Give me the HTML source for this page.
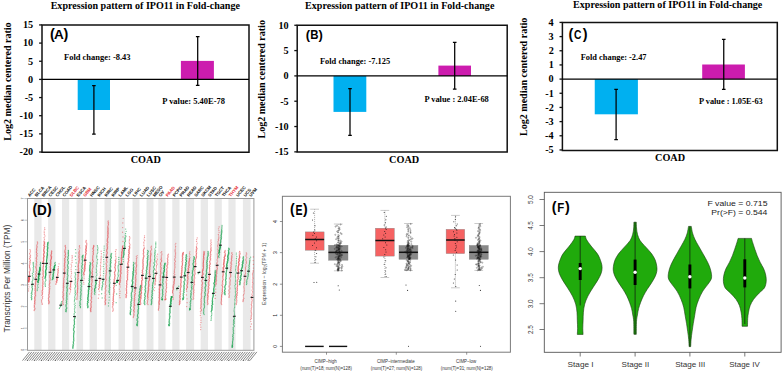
<!DOCTYPE html>
<html><head><meta charset="utf-8"><style>html,body{margin:0;padding:0;background:#fff;}svg{display:block;}</style></head>
<body><svg width="783" height="373" viewBox="0 0 783 373">
<rect width="783" height="373" fill="#fff"/>
<text transform="translate(50.63,8.65) scale(1.0094,1)" font-family="Liberation Serif" font-weight="bold" font-size="10" fill="#000">Expression pattern of IPO11 in Fold-change</text>
<text transform="translate(10.80,140.67) rotate(-90) scale(1.0044,1)" font-family="Liberation Serif" font-weight="bold" font-size="10" fill="#000">Log2 median centered ratio</text>
<rect x="77.7" y="79.4" width="32.30" height="30.60" fill="#00B0F0"/>
<rect x="180.9" y="60.9" width="33.00" height="18.50" fill="#CC1CAE"/>
<path d="M42,24.9H249V152.3H42Z" fill="none" stroke="#111" stroke-width="1.5"/>
<line x1="42" y1="79.4" x2="249" y2="79.4" stroke="#000" stroke-width="1.1"/>
<line x1="39.1" y1="24.94" x2="42" y2="24.94" stroke="#111" stroke-width="1.3"/>
<text x="22.97" y="28.25" font-family="Liberation Serif" font-weight="bold" font-size="10.2" fill="#000">15</text>
<line x1="39.1" y1="43.09" x2="42" y2="43.09" stroke="#111" stroke-width="1.3"/>
<text x="22.99" y="46.43" font-family="Liberation Serif" font-weight="bold" font-size="10.2" fill="#000">10</text>
<line x1="39.1" y1="61.25" x2="42" y2="61.25" stroke="#111" stroke-width="1.3"/>
<text x="28.07" y="64.53" font-family="Liberation Serif" font-weight="bold" font-size="10.2" fill="#000">5</text>
<line x1="39.1" y1="79.40" x2="42" y2="79.40" stroke="#111" stroke-width="1.3"/>
<text x="28.09" y="82.74" font-family="Liberation Serif" font-weight="bold" font-size="10.2" fill="#000">0</text>
<line x1="39.1" y1="97.56" x2="42" y2="97.56" stroke="#111" stroke-width="1.3"/>
<text x="24.68" y="100.84" font-family="Liberation Serif" font-weight="bold" font-size="10.2" fill="#000">-5</text>
<line x1="39.1" y1="115.71" x2="42" y2="115.71" stroke="#111" stroke-width="1.3"/>
<text x="19.59" y="119.05" font-family="Liberation Serif" font-weight="bold" font-size="10.2" fill="#000">-10</text>
<line x1="39.1" y1="133.87" x2="42" y2="133.87" stroke="#111" stroke-width="1.3"/>
<text x="19.58" y="137.18" font-family="Liberation Serif" font-weight="bold" font-size="10.2" fill="#000">-15</text>
<line x1="39.1" y1="152.02" x2="42" y2="152.02" stroke="#111" stroke-width="1.3"/>
<text x="19.59" y="155.36" font-family="Liberation Serif" font-weight="bold" font-size="10.2" fill="#000">-20</text>
<path d="M93.9,85.7V134.2M92.10000000000001,85.7H95.7M92.10000000000001,134.2H95.7" stroke="#000" stroke-width="1.25" fill="none"/>
<path d="M197.7,36.6V85.3M195.89999999999998,36.6H199.5M195.89999999999998,85.3H199.5" stroke="#000" stroke-width="1.25" fill="none"/>
<text x="49.98" y="39.02" font-family="Liberation Sans" font-weight="bold" font-size="14.38">(</text>
<text x="63.43" y="39.02" font-family="Liberation Sans" font-weight="bold" font-size="14.38">)</text>
<text transform="translate(54.06,39.00) scale(1.1109,1)" font-family="Liberation Sans" font-weight="bold" font-size="12.21" fill="#000">A</text>
<text transform="translate(64.06,59.90) scale(1.0076,1)" font-family="Liberation Serif" font-weight="bold" font-size="8.4" fill="#000">Fold change: -8.43</text>
<text transform="translate(162.36,103.50) scale(1.0058,1)" font-family="Liberation Serif" font-weight="bold" font-size="8.4" fill="#000">P value: 5.40E-78</text>
<text transform="translate(130.70,163.20) scale(1.0022,1)" font-family="Liberation Serif" font-weight="bold" font-size="10.2" fill="#000">COAD</text>
<text transform="translate(305.03,9.30) scale(1.0091,1)" font-family="Liberation Serif" font-weight="bold" font-size="10" fill="#000">Expression pattern of IPO11 in Fold-change</text>
<text transform="translate(264.90,138.57) rotate(-90) scale(1.0078,1)" font-family="Liberation Serif" font-weight="bold" font-size="10" fill="#000">Log2 median centered ratio</text>
<rect x="333.5" y="75.9" width="32.80" height="36.00" fill="#00B0F0"/>
<rect x="438.4" y="65.6" width="32.60" height="10.30" fill="#CC1CAE"/>
<path d="M297.2,25.2H507.2V152.1H297.2Z" fill="none" stroke="#111" stroke-width="1.5"/>
<line x1="297.2" y1="75.9" x2="507.2" y2="75.9" stroke="#000" stroke-width="1.1"/>
<line x1="294.3" y1="25.26" x2="297.2" y2="25.26" stroke="#111" stroke-width="1.3"/>
<text x="278.49" y="28.60" font-family="Liberation Serif" font-weight="bold" font-size="10.2" fill="#000">10</text>
<line x1="294.3" y1="50.58" x2="297.2" y2="50.58" stroke="#111" stroke-width="1.3"/>
<text x="283.57" y="53.87" font-family="Liberation Serif" font-weight="bold" font-size="10.2" fill="#000">5</text>
<line x1="294.3" y1="75.90" x2="297.2" y2="75.90" stroke="#111" stroke-width="1.3"/>
<text x="283.59" y="79.24" font-family="Liberation Serif" font-weight="bold" font-size="10.2" fill="#000">0</text>
<line x1="294.3" y1="101.22" x2="297.2" y2="101.22" stroke="#111" stroke-width="1.3"/>
<text x="280.18" y="104.51" font-family="Liberation Serif" font-weight="bold" font-size="10.2" fill="#000">-5</text>
<line x1="294.3" y1="126.54" x2="297.2" y2="126.54" stroke="#111" stroke-width="1.3"/>
<text x="275.09" y="129.88" font-family="Liberation Serif" font-weight="bold" font-size="10.2" fill="#000">-10</text>
<line x1="294.3" y1="151.86" x2="297.2" y2="151.86" stroke="#111" stroke-width="1.3"/>
<text x="275.08" y="155.18" font-family="Liberation Serif" font-weight="bold" font-size="10.2" fill="#000">-15</text>
<path d="M350,88.5V135.4M348.2,88.5H351.8M348.2,135.4H351.8" stroke="#000" stroke-width="1.25" fill="none"/>
<path d="M454.7,42.4V89M452.9,42.4H456.5M452.9,89H456.5" stroke="#000" stroke-width="1.25" fill="none"/>
<text x="305.85" y="39.01" font-family="Liberation Sans" font-weight="bold" font-size="12.98">(</text>
<text x="318.42" y="39.01" font-family="Liberation Sans" font-weight="bold" font-size="12.98">)</text>
<text transform="translate(310.23,39.40) scale(0.9294,1)" font-family="Liberation Sans" font-weight="bold" font-size="12.35" fill="#000">B</text>
<text transform="translate(319.96,63.80) scale(1.0003,1)" font-family="Liberation Serif" font-weight="bold" font-size="8.4" fill="#000">Fold change: -7.125</text>
<text transform="translate(424.46,101.60) scale(0.9994,1)" font-family="Liberation Serif" font-weight="bold" font-size="8.4" fill="#000">P value : 2.04E-68</text>
<text transform="translate(389.10,163.40) scale(1.0056,1)" font-family="Liberation Serif" font-weight="bold" font-size="10.2" fill="#000">COAD</text>
<text transform="translate(573.03,8.20) scale(1.0086,1)" font-family="Liberation Serif" font-weight="bold" font-size="10" fill="#000">Expression pattern of IPO11 in Fold-change</text>
<text transform="translate(526.50,135.97) rotate(-90) scale(1.0044,1)" font-family="Liberation Serif" font-weight="bold" font-size="10" fill="#000">Log2 median centered ratio</text>
<rect x="594.75" y="79.1" width="43.15" height="35.20" fill="#00B0F0"/>
<rect x="702.2" y="64.5" width="42.70" height="14.60" fill="#CC1CAE"/>
<path d="M562.4,22.6H777.3V150.4H562.4Z" fill="none" stroke="#111" stroke-width="1.5"/>
<line x1="562.4" y1="79.1" x2="777.3" y2="79.1" stroke="#000" stroke-width="1.1"/>
<line x1="559.5" y1="22.42" x2="562.4" y2="22.42" stroke="#111" stroke-width="1.3"/>
<text x="548.39" y="25.78" font-family="Liberation Serif" font-weight="bold" font-size="10.2" fill="#000">4</text>
<line x1="559.5" y1="36.59" x2="562.4" y2="36.59" stroke="#111" stroke-width="1.3"/>
<text x="548.55" y="39.92" font-family="Liberation Serif" font-weight="bold" font-size="10.2" fill="#000">3</text>
<line x1="559.5" y1="50.76" x2="562.4" y2="50.76" stroke="#111" stroke-width="1.3"/>
<text x="548.64" y="54.14" font-family="Liberation Serif" font-weight="bold" font-size="10.2" fill="#000">2</text>
<line x1="559.5" y1="64.93" x2="562.4" y2="64.93" stroke="#111" stroke-width="1.3"/>
<text x="548.73" y="68.30" font-family="Liberation Serif" font-weight="bold" font-size="10.2" fill="#000">1</text>
<line x1="559.5" y1="79.10" x2="562.4" y2="79.10" stroke="#111" stroke-width="1.3"/>
<text x="548.59" y="82.44" font-family="Liberation Serif" font-weight="bold" font-size="10.2" fill="#000">0</text>
<line x1="559.5" y1="93.27" x2="562.4" y2="93.27" stroke="#111" stroke-width="1.3"/>
<text x="545.33" y="96.64" font-family="Liberation Serif" font-weight="bold" font-size="10.2" fill="#000">-1</text>
<line x1="559.5" y1="107.44" x2="562.4" y2="107.44" stroke="#111" stroke-width="1.3"/>
<text x="545.24" y="110.82" font-family="Liberation Serif" font-weight="bold" font-size="10.2" fill="#000">-2</text>
<line x1="559.5" y1="121.61" x2="562.4" y2="121.61" stroke="#111" stroke-width="1.3"/>
<text x="545.15" y="124.94" font-family="Liberation Serif" font-weight="bold" font-size="10.2" fill="#000">-3</text>
<line x1="559.5" y1="135.78" x2="562.4" y2="135.78" stroke="#111" stroke-width="1.3"/>
<text x="544.99" y="139.14" font-family="Liberation Serif" font-weight="bold" font-size="10.2" fill="#000">-4</text>
<line x1="559.5" y1="149.95" x2="562.4" y2="149.95" stroke="#111" stroke-width="1.3"/>
<text x="545.18" y="153.24" font-family="Liberation Serif" font-weight="bold" font-size="10.2" fill="#000">-5</text>
<path d="M616.1,89.25V139.7M614.3000000000001,89.25H617.9M614.3000000000001,139.7H617.9" stroke="#000" stroke-width="1.25" fill="none"/>
<path d="M723.75,39.4V89.25M721.95,39.4H725.55M721.95,89.25H725.55" stroke="#000" stroke-width="1.25" fill="none"/>
<text x="568.48" y="38.92" font-family="Liberation Sans" font-weight="bold" font-size="14.38">(</text>
<text x="582.63" y="38.92" font-family="Liberation Sans" font-weight="bold" font-size="14.38">)</text>
<text transform="translate(573.98,39.00) scale(0.8318,1)" font-family="Liberation Sans" font-weight="bold" font-size="12.32" fill="#000">C</text>
<text transform="translate(580.76,59.90) scale(0.9972,1)" font-family="Liberation Serif" font-weight="bold" font-size="8.4" fill="#000">Fold change: -2.47</text>
<text transform="translate(699.06,103.50) scale(0.9902,1)" font-family="Liberation Serif" font-weight="bold" font-size="8.4" fill="#000">P value : 1.05E-63</text>
<text transform="translate(655.00,161.30) scale(1.0022,1)" font-family="Liberation Serif" font-weight="bold" font-size="10.2" fill="#000">COAD</text>
<rect x="282.4" y="196.3" width="228.0" height="155.89999999999998" fill="none" stroke="#7a7a7a" stroke-width="1"/>
<line x1="279.9" y1="346.4" x2="282.4" y2="346.4" stroke="#666" stroke-width="0.7"/>
<text transform="translate(276.90,347.85) rotate(-90)" font-family="Liberation Sans" font-weight="normal" font-size="5.2" fill="#222">0</text>
<line x1="279.9" y1="315.3" x2="282.4" y2="315.3" stroke="#666" stroke-width="0.7"/>
<text transform="translate(276.90,316.82) rotate(-90)" font-family="Liberation Sans" font-weight="normal" font-size="5.2" fill="#222">1</text>
<line x1="279.9" y1="284.2" x2="282.4" y2="284.2" stroke="#666" stroke-width="0.7"/>
<text transform="translate(276.90,285.65) rotate(-90)" font-family="Liberation Sans" font-weight="normal" font-size="5.2" fill="#222">2</text>
<line x1="279.9" y1="252.6" x2="282.4" y2="252.6" stroke="#666" stroke-width="0.7"/>
<text transform="translate(276.90,254.03) rotate(-90)" font-family="Liberation Sans" font-weight="normal" font-size="5.2" fill="#222">3</text>
<line x1="279.9" y1="221.5" x2="282.4" y2="221.5" stroke="#666" stroke-width="0.7"/>
<text transform="translate(276.90,222.93) rotate(-90)" font-family="Liberation Sans" font-weight="normal" font-size="5.2" fill="#222">4</text>
<text transform="translate(265.90,304.92) rotate(-90) scale(0.9063,1)" font-family="Liberation Sans" font-weight="normal" font-size="5.6" fill="#444">Expression − log₂(TPM + 1)</text>
<line x1="326.5" y1="352.2" x2="326.5" y2="354.7" stroke="#666" stroke-width="0.7"/>
<text transform="translate(314.57,363.40) scale(0.7975,1)" font-family="Liberation Sans" font-weight="normal" font-size="5.6" fill="#333">CIMP−high</text>
<text transform="translate(300.23,369.60) scale(0.7880,1)" font-family="Liberation Sans" font-weight="normal" font-size="5.6" fill="#333">(num(T)=18; num(N)=128)</text>
<line x1="396.3" y1="352.2" x2="396.3" y2="354.7" stroke="#666" stroke-width="0.7"/>
<text transform="translate(376.88,363.40) scale(0.7886,1)" font-family="Liberation Sans" font-weight="normal" font-size="5.6" fill="#333">CIMP−intermediate</text>
<text transform="translate(370.83,369.60) scale(0.7865,1)" font-family="Liberation Sans" font-weight="normal" font-size="5.6" fill="#333">(num(T)=27; num(N)=128)</text>
<line x1="466.7" y1="352.2" x2="466.7" y2="354.7" stroke="#666" stroke-width="0.7"/>
<text transform="translate(456.08,363.40) scale(0.7873,1)" font-family="Liberation Sans" font-weight="normal" font-size="5.6" fill="#333">CIMP−low</text>
<text transform="translate(440.82,369.60) scale(0.7927,1)" font-family="Liberation Sans" font-weight="normal" font-size="5.6" fill="#333">(num(T)=31; num(N)=128)</text>
<line x1="314.6" y1="209.2" x2="314.6" y2="231.9" stroke="#666" stroke-width="0.6" stroke-dasharray="0.9,1.1"/>
<line x1="314.6" y1="250.2" x2="314.6" y2="263.2" stroke="#666" stroke-width="0.6" stroke-dasharray="0.9,1.1"/>
<line x1="310.2" y1="209.2" x2="319.0" y2="209.2" stroke="#b8b8b8" stroke-width="0.75"/>
<line x1="310.2" y1="263.2" x2="319.0" y2="263.2" stroke="#b8b8b8" stroke-width="0.75"/>
<rect x="305.2" y="231.9" width="18.9" height="18.3" fill="#F66262" stroke="#888" stroke-width="0.4"/>
<line x1="305.2" y1="239.5" x2="324.1" y2="239.5" stroke="#111" stroke-width="1.5"/>
<g fill="#111" fill-opacity="0.9"><circle cx="315.2" cy="262.3" r="0.5"/><circle cx="315.7" cy="259.7" r="0.5"/><circle cx="315.9" cy="256.8" r="0.5"/><circle cx="316.6" cy="253.6" r="0.5"/><circle cx="315.7" cy="250.2" r="0.5"/><circle cx="316.5" cy="247.8" r="0.5"/><circle cx="312.6" cy="245.4" r="0.5"/><circle cx="314.5" cy="243.1" r="0.5"/><circle cx="316.6" cy="240.7" r="0.5"/><circle cx="315.3" cy="238.7" r="0.5"/><circle cx="316.4" cy="237.0" r="0.5"/><circle cx="312.9" cy="235.3" r="0.5"/><circle cx="314.5" cy="233.6" r="0.5"/><circle cx="313.5" cy="231.9" r="0.5"/><circle cx="314.8" cy="229.9" r="0.5"/><circle cx="315.0" cy="225.7" r="0.5"/><circle cx="312.5" cy="220.0" r="0.5"/><circle cx="313.4" cy="213.1" r="0.5"/></g>
<line x1="338.2" y1="224.0" x2="338.2" y2="245.2" stroke="#666" stroke-width="0.6" stroke-dasharray="0.9,1.1"/>
<line x1="338.2" y1="260.2" x2="338.2" y2="270.8" stroke="#666" stroke-width="0.6" stroke-dasharray="0.9,1.1"/>
<line x1="333.9" y1="224.0" x2="342.6" y2="224.0" stroke="#b8b8b8" stroke-width="0.75"/>
<line x1="333.9" y1="270.8" x2="342.6" y2="270.8" stroke="#b8b8b8" stroke-width="0.75"/>
<rect x="328.5" y="245.2" width="19.5" height="15.0" fill="#888888" stroke="#888" stroke-width="0.4"/>
<line x1="328.5" y1="252.4" x2="348.0" y2="252.4" stroke="#111" stroke-width="1.5"/>
<g fill="none" stroke="#111" stroke-width="0.4" stroke-opacity="0.7"><circle cx="337.9" cy="270.7" r="0.6"/><circle cx="341.8" cy="270.5" r="0.6"/><circle cx="338.6" cy="270.3" r="0.6"/><circle cx="337.7" cy="270.1" r="0.6"/><circle cx="338.8" cy="269.8" r="0.6"/><circle cx="337.8" cy="269.5" r="0.6"/><circle cx="338.0" cy="269.2" r="0.6"/><circle cx="338.0" cy="268.9" r="0.6"/><circle cx="341.6" cy="268.6" r="0.6"/><circle cx="338.6" cy="268.3" r="0.6"/><circle cx="338.8" cy="268.0" r="0.6"/><circle cx="339.6" cy="267.7" r="0.6"/><circle cx="341.6" cy="267.4" r="0.6"/><circle cx="338.2" cy="267.0" r="0.6"/><circle cx="337.6" cy="266.7" r="0.6"/><circle cx="342.3" cy="266.4" r="0.6"/><circle cx="336.4" cy="266.0" r="0.6"/><circle cx="338.0" cy="265.7" r="0.6"/><circle cx="339.6" cy="265.3" r="0.6"/><circle cx="342.0" cy="264.9" r="0.6"/><circle cx="337.1" cy="264.6" r="0.6"/><circle cx="334.9" cy="264.2" r="0.6"/><circle cx="339.5" cy="263.9" r="0.6"/><circle cx="337.8" cy="263.5" r="0.6"/><circle cx="338.0" cy="263.1" r="0.6"/><circle cx="339.2" cy="262.7" r="0.6"/><circle cx="338.9" cy="262.3" r="0.6"/><circle cx="339.0" cy="262.0" r="0.6"/><circle cx="337.9" cy="261.6" r="0.6"/><circle cx="340.5" cy="261.2" r="0.6"/><circle cx="340.8" cy="260.8" r="0.6"/><circle cx="338.6" cy="260.4" r="0.6"/><circle cx="337.9" cy="260.1" r="0.6"/><circle cx="339.7" cy="259.8" r="0.6"/><circle cx="339.3" cy="259.6" r="0.6"/><circle cx="337.0" cy="259.3" r="0.6"/><circle cx="337.9" cy="259.1" r="0.6"/><circle cx="340.1" cy="258.9" r="0.6"/><circle cx="338.4" cy="258.6" r="0.6"/><circle cx="338.1" cy="258.4" r="0.6"/><circle cx="338.9" cy="258.1" r="0.6"/><circle cx="338.5" cy="257.9" r="0.6"/><circle cx="338.5" cy="257.6" r="0.6"/><circle cx="335.7" cy="257.4" r="0.6"/><circle cx="341.2" cy="257.2" r="0.6"/><circle cx="338.8" cy="256.9" r="0.6"/><circle cx="337.2" cy="256.7" r="0.6"/><circle cx="340.0" cy="256.4" r="0.6"/><circle cx="339.0" cy="256.2" r="0.6"/><circle cx="338.6" cy="255.9" r="0.6"/><circle cx="340.1" cy="255.7" r="0.6"/><circle cx="341.9" cy="255.4" r="0.6"/><circle cx="339.4" cy="255.2" r="0.6"/><circle cx="340.9" cy="255.0" r="0.6"/><circle cx="341.8" cy="254.7" r="0.6"/><circle cx="337.0" cy="254.5" r="0.6"/><circle cx="337.8" cy="254.2" r="0.6"/><circle cx="339.7" cy="254.0" r="0.6"/><circle cx="336.0" cy="253.7" r="0.6"/><circle cx="338.1" cy="253.5" r="0.6"/><circle cx="340.5" cy="253.3" r="0.6"/><circle cx="340.1" cy="253.0" r="0.6"/><circle cx="339.4" cy="252.8" r="0.6"/><circle cx="335.7" cy="252.5" r="0.6"/><circle cx="342.1" cy="252.3" r="0.6"/><circle cx="339.4" cy="252.1" r="0.6"/><circle cx="339.7" cy="251.8" r="0.6"/><circle cx="339.3" cy="251.6" r="0.6"/><circle cx="336.0" cy="251.4" r="0.6"/><circle cx="336.4" cy="251.2" r="0.6"/><circle cx="336.7" cy="250.9" r="0.6"/><circle cx="341.4" cy="250.7" r="0.6"/><circle cx="337.3" cy="250.5" r="0.6"/><circle cx="338.2" cy="250.3" r="0.6"/><circle cx="338.2" cy="250.0" r="0.6"/><circle cx="339.4" cy="249.8" r="0.6"/><circle cx="339.3" cy="249.6" r="0.6"/><circle cx="339.0" cy="249.4" r="0.6"/><circle cx="336.7" cy="249.1" r="0.6"/><circle cx="334.8" cy="248.9" r="0.6"/><circle cx="338.8" cy="248.7" r="0.6"/><circle cx="339.0" cy="248.5" r="0.6"/><circle cx="340.4" cy="248.2" r="0.6"/><circle cx="338.4" cy="248.0" r="0.6"/><circle cx="337.6" cy="247.8" r="0.6"/><circle cx="339.2" cy="247.6" r="0.6"/><circle cx="336.2" cy="247.3" r="0.6"/><circle cx="337.0" cy="247.1" r="0.6"/><circle cx="337.0" cy="246.9" r="0.6"/><circle cx="339.0" cy="246.7" r="0.6"/><circle cx="341.7" cy="246.4" r="0.6"/><circle cx="339.7" cy="246.2" r="0.6"/><circle cx="340.3" cy="246.0" r="0.6"/><circle cx="338.9" cy="245.8" r="0.6"/><circle cx="339.0" cy="245.5" r="0.6"/><circle cx="337.9" cy="245.3" r="0.6"/><circle cx="338.1" cy="245.2" r="0.6"/><circle cx="334.9" cy="245.0" r="0.6"/><circle cx="336.7" cy="244.8" r="0.6"/><circle cx="336.6" cy="244.6" r="0.6"/><circle cx="339.8" cy="244.3" r="0.6"/><circle cx="339.5" cy="243.9" r="0.6"/><circle cx="340.3" cy="243.5" r="0.6"/><circle cx="340.9" cy="243.1" r="0.6"/><circle cx="338.1" cy="242.7" r="0.6"/><circle cx="340.1" cy="242.2" r="0.6"/><circle cx="341.5" cy="241.6" r="0.6"/><circle cx="338.5" cy="241.1" r="0.6"/><circle cx="340.2" cy="240.5" r="0.6"/><circle cx="338.3" cy="239.9" r="0.6"/><circle cx="336.1" cy="239.2" r="0.6"/><circle cx="338.7" cy="238.6" r="0.6"/><circle cx="337.3" cy="237.9" r="0.6"/><circle cx="338.7" cy="237.1" r="0.6"/><circle cx="337.9" cy="236.4" r="0.6"/><circle cx="339.0" cy="235.6" r="0.6"/><circle cx="335.3" cy="234.8" r="0.6"/><circle cx="341.7" cy="234.0" r="0.6"/><circle cx="340.6" cy="233.1" r="0.6"/><circle cx="338.0" cy="232.3" r="0.6"/><circle cx="337.2" cy="231.4" r="0.6"/><circle cx="338.6" cy="230.5" r="0.6"/><circle cx="339.6" cy="229.5" r="0.6"/><circle cx="339.2" cy="228.6" r="0.6"/><circle cx="339.2" cy="227.6" r="0.6"/><circle cx="335.6" cy="226.6" r="0.6"/><circle cx="336.9" cy="225.6" r="0.6"/><circle cx="340.6" cy="224.5" r="0.6"/></g>
<line x1="384.9" y1="210.4" x2="384.9" y2="228.2" stroke="#666" stroke-width="0.6" stroke-dasharray="0.9,1.1"/>
<line x1="384.9" y1="256.1" x2="384.9" y2="277.5" stroke="#666" stroke-width="0.6" stroke-dasharray="0.9,1.1"/>
<line x1="380.5" y1="210.4" x2="389.2" y2="210.4" stroke="#b8b8b8" stroke-width="0.75"/>
<line x1="380.5" y1="277.5" x2="389.2" y2="277.5" stroke="#b8b8b8" stroke-width="0.75"/>
<rect x="375.4" y="228.2" width="18.9" height="27.9" fill="#F66262" stroke="#888" stroke-width="0.4"/>
<line x1="375.4" y1="240.5" x2="394.3" y2="240.5" stroke="#111" stroke-width="1.5"/>
<g fill="#111" fill-opacity="0.9"><circle cx="386.1" cy="276.6" r="0.5"/><circle cx="385.7" cy="274.0" r="0.5"/><circle cx="385.6" cy="271.0" r="0.5"/><circle cx="386.0" cy="267.8" r="0.5"/><circle cx="384.2" cy="264.3" r="0.5"/><circle cx="385.7" cy="260.8" r="0.5"/><circle cx="383.9" cy="257.0" r="0.5"/><circle cx="384.8" cy="254.4" r="0.5"/><circle cx="386.0" cy="252.1" r="0.5"/><circle cx="385.7" cy="249.7" r="0.5"/><circle cx="383.9" cy="247.4" r="0.5"/><circle cx="386.8" cy="245.1" r="0.5"/><circle cx="385.5" cy="242.8" r="0.5"/><circle cx="385.2" cy="240.5" r="0.5"/><circle cx="382.7" cy="238.7" r="0.5"/><circle cx="385.1" cy="236.9" r="0.5"/><circle cx="383.8" cy="235.0" r="0.5"/><circle cx="385.6" cy="233.2" r="0.5"/><circle cx="384.7" cy="231.4" r="0.5"/><circle cx="386.2" cy="229.6" r="0.5"/><circle cx="385.5" cy="228.1" r="0.5"/><circle cx="386.2" cy="227.0" r="0.5"/><circle cx="384.2" cy="225.1" r="0.5"/><circle cx="385.5" cy="222.7" r="0.5"/><circle cx="385.9" cy="219.7" r="0.5"/><circle cx="386.3" cy="216.3" r="0.5"/><circle cx="384.2" cy="212.5" r="0.5"/></g>
<line x1="408.4" y1="223.5" x2="408.4" y2="245.4" stroke="#666" stroke-width="0.6" stroke-dasharray="0.9,1.1"/>
<line x1="408.4" y1="259.3" x2="408.4" y2="270.5" stroke="#666" stroke-width="0.6" stroke-dasharray="0.9,1.1"/>
<line x1="404.1" y1="223.5" x2="412.8" y2="223.5" stroke="#b8b8b8" stroke-width="0.75"/>
<line x1="404.1" y1="270.5" x2="412.8" y2="270.5" stroke="#b8b8b8" stroke-width="0.75"/>
<rect x="399.0" y="245.4" width="18.9" height="13.9" fill="#888888" stroke="#888" stroke-width="0.4"/>
<line x1="399.0" y1="252.3" x2="417.9" y2="252.3" stroke="#111" stroke-width="1.5"/>
<g fill="none" stroke="#111" stroke-width="0.4" stroke-opacity="0.7"><circle cx="410.4" cy="270.4" r="0.6"/><circle cx="406.2" cy="270.2" r="0.6"/><circle cx="407.2" cy="270.0" r="0.6"/><circle cx="405.0" cy="269.7" r="0.6"/><circle cx="410.5" cy="269.4" r="0.6"/><circle cx="408.3" cy="269.1" r="0.6"/><circle cx="407.9" cy="268.8" r="0.6"/><circle cx="408.6" cy="268.5" r="0.6"/><circle cx="410.6" cy="268.2" r="0.6"/><circle cx="405.7" cy="267.9" r="0.6"/><circle cx="406.5" cy="267.6" r="0.6"/><circle cx="409.1" cy="267.2" r="0.6"/><circle cx="408.3" cy="266.9" r="0.6"/><circle cx="406.4" cy="266.5" r="0.6"/><circle cx="410.0" cy="266.2" r="0.6"/><circle cx="411.1" cy="265.8" r="0.6"/><circle cx="406.8" cy="265.4" r="0.6"/><circle cx="407.7" cy="265.1" r="0.6"/><circle cx="406.9" cy="264.7" r="0.6"/><circle cx="409.8" cy="264.3" r="0.6"/><circle cx="409.1" cy="263.9" r="0.6"/><circle cx="406.6" cy="263.6" r="0.6"/><circle cx="408.7" cy="263.2" r="0.6"/><circle cx="408.4" cy="262.8" r="0.6"/><circle cx="409.6" cy="262.4" r="0.6"/><circle cx="410.1" cy="262.0" r="0.6"/><circle cx="408.1" cy="261.6" r="0.6"/><circle cx="407.9" cy="261.2" r="0.6"/><circle cx="407.9" cy="260.8" r="0.6"/><circle cx="406.8" cy="260.3" r="0.6"/><circle cx="410.4" cy="259.9" r="0.6"/><circle cx="409.2" cy="259.5" r="0.6"/><circle cx="408.8" cy="259.2" r="0.6"/><circle cx="409.2" cy="259.0" r="0.6"/><circle cx="409.6" cy="258.8" r="0.6"/><circle cx="409.7" cy="258.5" r="0.6"/><circle cx="409.2" cy="258.3" r="0.6"/><circle cx="409.6" cy="258.1" r="0.6"/><circle cx="410.4" cy="257.9" r="0.6"/><circle cx="409.1" cy="257.7" r="0.6"/><circle cx="407.2" cy="257.4" r="0.6"/><circle cx="410.2" cy="257.2" r="0.6"/><circle cx="407.8" cy="257.0" r="0.6"/><circle cx="408.2" cy="256.8" r="0.6"/><circle cx="408.8" cy="256.6" r="0.6"/><circle cx="408.7" cy="256.3" r="0.6"/><circle cx="407.7" cy="256.1" r="0.6"/><circle cx="409.4" cy="255.9" r="0.6"/><circle cx="408.1" cy="255.7" r="0.6"/><circle cx="409.1" cy="255.5" r="0.6"/><circle cx="409.5" cy="255.3" r="0.6"/><circle cx="407.5" cy="255.0" r="0.6"/><circle cx="410.8" cy="254.8" r="0.6"/><circle cx="409.2" cy="254.6" r="0.6"/><circle cx="410.3" cy="254.4" r="0.6"/><circle cx="409.8" cy="254.2" r="0.6"/><circle cx="407.7" cy="253.9" r="0.6"/><circle cx="410.4" cy="253.7" r="0.6"/><circle cx="411.4" cy="253.5" r="0.6"/><circle cx="408.0" cy="253.3" r="0.6"/><circle cx="406.4" cy="253.1" r="0.6"/><circle cx="410.1" cy="252.8" r="0.6"/><circle cx="407.8" cy="252.6" r="0.6"/><circle cx="407.6" cy="252.4" r="0.6"/><circle cx="410.0" cy="252.2" r="0.6"/><circle cx="410.3" cy="252.0" r="0.6"/><circle cx="405.3" cy="251.8" r="0.6"/><circle cx="407.3" cy="251.5" r="0.6"/><circle cx="410.8" cy="251.3" r="0.6"/><circle cx="408.3" cy="251.1" r="0.6"/><circle cx="406.9" cy="250.9" r="0.6"/><circle cx="411.3" cy="250.7" r="0.6"/><circle cx="409.5" cy="250.5" r="0.6"/><circle cx="408.8" cy="250.3" r="0.6"/><circle cx="406.9" cy="250.0" r="0.6"/><circle cx="407.9" cy="249.8" r="0.6"/><circle cx="410.1" cy="249.6" r="0.6"/><circle cx="410.4" cy="249.4" r="0.6"/><circle cx="409.9" cy="249.2" r="0.6"/><circle cx="407.8" cy="249.0" r="0.6"/><circle cx="407.8" cy="248.7" r="0.6"/><circle cx="409.2" cy="248.5" r="0.6"/><circle cx="407.7" cy="248.3" r="0.6"/><circle cx="412.6" cy="248.1" r="0.6"/><circle cx="406.0" cy="247.9" r="0.6"/><circle cx="411.4" cy="247.7" r="0.6"/><circle cx="410.5" cy="247.4" r="0.6"/><circle cx="407.7" cy="247.2" r="0.6"/><circle cx="408.5" cy="247.0" r="0.6"/><circle cx="412.6" cy="246.8" r="0.6"/><circle cx="407.2" cy="246.6" r="0.6"/><circle cx="408.8" cy="246.4" r="0.6"/><circle cx="406.9" cy="246.2" r="0.6"/><circle cx="412.6" cy="245.9" r="0.6"/><circle cx="407.5" cy="245.7" r="0.6"/><circle cx="408.8" cy="245.5" r="0.6"/><circle cx="408.0" cy="245.4" r="0.6"/><circle cx="408.9" cy="245.2" r="0.6"/><circle cx="407.6" cy="245.0" r="0.6"/><circle cx="407.6" cy="244.8" r="0.6"/><circle cx="408.0" cy="244.5" r="0.6"/><circle cx="411.3" cy="244.1" r="0.6"/><circle cx="408.9" cy="243.7" r="0.6"/><circle cx="408.5" cy="243.3" r="0.6"/><circle cx="407.6" cy="242.8" r="0.6"/><circle cx="408.5" cy="242.3" r="0.6"/><circle cx="411.2" cy="241.7" r="0.6"/><circle cx="407.7" cy="241.1" r="0.6"/><circle cx="408.8" cy="240.5" r="0.6"/><circle cx="409.9" cy="239.9" r="0.6"/><circle cx="411.3" cy="239.2" r="0.6"/><circle cx="412.5" cy="238.5" r="0.6"/><circle cx="408.2" cy="237.8" r="0.6"/><circle cx="410.7" cy="237.1" r="0.6"/><circle cx="406.6" cy="236.3" r="0.6"/><circle cx="409.1" cy="235.5" r="0.6"/><circle cx="406.8" cy="234.7" r="0.6"/><circle cx="407.2" cy="233.8" r="0.6"/><circle cx="410.6" cy="232.9" r="0.6"/><circle cx="410.5" cy="232.0" r="0.6"/><circle cx="408.2" cy="231.1" r="0.6"/><circle cx="410.5" cy="230.2" r="0.6"/><circle cx="408.1" cy="229.2" r="0.6"/><circle cx="409.8" cy="228.2" r="0.6"/><circle cx="407.1" cy="227.2" r="0.6"/><circle cx="408.4" cy="226.2" r="0.6"/><circle cx="407.2" cy="225.1" r="0.6"/><circle cx="410.7" cy="224.0" r="0.6"/></g>
<line x1="455.4" y1="215.4" x2="455.4" y2="229.3" stroke="#666" stroke-width="0.6" stroke-dasharray="0.9,1.1"/>
<line x1="455.4" y1="253.6" x2="455.4" y2="287.8" stroke="#666" stroke-width="0.6" stroke-dasharray="0.9,1.1"/>
<line x1="451.0" y1="215.4" x2="459.8" y2="215.4" stroke="#b8b8b8" stroke-width="0.75"/>
<line x1="451.0" y1="287.8" x2="459.8" y2="287.8" stroke="#b8b8b8" stroke-width="0.75"/>
<rect x="446.1" y="229.3" width="18.6" height="24.3" fill="#F66262" stroke="#888" stroke-width="0.4"/>
<line x1="446.1" y1="240.0" x2="464.7" y2="240.0" stroke="#111" stroke-width="1.5"/>
<g fill="#111" fill-opacity="0.9"><circle cx="455.8" cy="286.5" r="0.5"/><circle cx="453.4" cy="283.0" r="0.5"/><circle cx="454.3" cy="279.0" r="0.5"/><circle cx="455.2" cy="274.6" r="0.5"/><circle cx="457.2" cy="270.0" r="0.5"/><circle cx="457.1" cy="265.1" r="0.5"/><circle cx="455.6" cy="260.1" r="0.5"/><circle cx="453.3" cy="254.9" r="0.5"/><circle cx="456.6" cy="252.3" r="0.5"/><circle cx="455.1" cy="250.5" r="0.5"/><circle cx="455.7" cy="248.8" r="0.5"/><circle cx="456.3" cy="247.0" r="0.5"/><circle cx="456.0" cy="245.3" r="0.5"/><circle cx="455.3" cy="243.5" r="0.5"/><circle cx="457.2" cy="241.8" r="0.5"/><circle cx="454.9" cy="240.0" r="0.5"/><circle cx="454.9" cy="238.6" r="0.5"/><circle cx="456.9" cy="237.2" r="0.5"/><circle cx="454.1" cy="235.9" r="0.5"/><circle cx="454.5" cy="234.5" r="0.5"/><circle cx="456.9" cy="233.1" r="0.5"/><circle cx="453.5" cy="231.7" r="0.5"/><circle cx="456.9" cy="230.3" r="0.5"/><circle cx="456.3" cy="229.2" r="0.5"/><circle cx="455.1" cy="228.5" r="0.5"/><circle cx="454.5" cy="227.4" r="0.5"/><circle cx="456.6" cy="225.8" r="0.5"/><circle cx="457.2" cy="224.0" r="0.5"/><circle cx="453.8" cy="221.8" r="0.5"/><circle cx="455.3" cy="219.4" r="0.5"/><circle cx="455.6" cy="216.8" r="0.5"/></g>
<line x1="478.8" y1="223.5" x2="478.8" y2="245.4" stroke="#666" stroke-width="0.6" stroke-dasharray="0.9,1.1"/>
<line x1="478.8" y1="259.3" x2="478.8" y2="270.4" stroke="#666" stroke-width="0.6" stroke-dasharray="0.9,1.1"/>
<line x1="474.4" y1="223.5" x2="483.1" y2="223.5" stroke="#b8b8b8" stroke-width="0.75"/>
<line x1="474.4" y1="270.4" x2="483.1" y2="270.4" stroke="#b8b8b8" stroke-width="0.75"/>
<rect x="469.2" y="245.4" width="19.1" height="13.9" fill="#888888" stroke="#888" stroke-width="0.4"/>
<line x1="469.2" y1="252.3" x2="488.3" y2="252.3" stroke="#111" stroke-width="1.5"/>
<g fill="none" stroke="#111" stroke-width="0.4" stroke-opacity="0.7"><circle cx="477.7" cy="270.3" r="0.6"/><circle cx="479.1" cy="270.1" r="0.6"/><circle cx="480.2" cy="269.9" r="0.6"/><circle cx="480.7" cy="269.6" r="0.6"/><circle cx="479.3" cy="269.3" r="0.6"/><circle cx="478.5" cy="269.1" r="0.6"/><circle cx="479.4" cy="268.8" r="0.6"/><circle cx="481.8" cy="268.5" r="0.6"/><circle cx="479.6" cy="268.1" r="0.6"/><circle cx="476.9" cy="267.8" r="0.6"/><circle cx="481.4" cy="267.5" r="0.6"/><circle cx="479.4" cy="267.1" r="0.6"/><circle cx="482.9" cy="266.8" r="0.6"/><circle cx="478.3" cy="266.5" r="0.6"/><circle cx="478.9" cy="266.1" r="0.6"/><circle cx="478.6" cy="265.7" r="0.6"/><circle cx="479.6" cy="265.4" r="0.6"/><circle cx="478.2" cy="265.0" r="0.6"/><circle cx="476.8" cy="264.6" r="0.6"/><circle cx="476.1" cy="264.3" r="0.6"/><circle cx="478.9" cy="263.9" r="0.6"/><circle cx="478.3" cy="263.5" r="0.6"/><circle cx="478.2" cy="263.1" r="0.6"/><circle cx="482.3" cy="262.7" r="0.6"/><circle cx="480.3" cy="262.3" r="0.6"/><circle cx="480.7" cy="261.9" r="0.6"/><circle cx="478.3" cy="261.5" r="0.6"/><circle cx="479.5" cy="261.1" r="0.6"/><circle cx="478.7" cy="260.7" r="0.6"/><circle cx="478.7" cy="260.3" r="0.6"/><circle cx="480.2" cy="259.9" r="0.6"/><circle cx="480.0" cy="259.5" r="0.6"/><circle cx="479.5" cy="259.2" r="0.6"/><circle cx="479.3" cy="259.0" r="0.6"/><circle cx="476.9" cy="258.8" r="0.6"/><circle cx="477.9" cy="258.5" r="0.6"/><circle cx="479.6" cy="258.3" r="0.6"/><circle cx="478.5" cy="258.1" r="0.6"/><circle cx="477.9" cy="257.9" r="0.6"/><circle cx="479.6" cy="257.7" r="0.6"/><circle cx="477.6" cy="257.4" r="0.6"/><circle cx="478.0" cy="257.2" r="0.6"/><circle cx="480.4" cy="257.0" r="0.6"/><circle cx="478.5" cy="256.8" r="0.6"/><circle cx="481.2" cy="256.6" r="0.6"/><circle cx="479.8" cy="256.3" r="0.6"/><circle cx="480.3" cy="256.1" r="0.6"/><circle cx="480.8" cy="255.9" r="0.6"/><circle cx="475.8" cy="255.7" r="0.6"/><circle cx="478.9" cy="255.5" r="0.6"/><circle cx="477.1" cy="255.3" r="0.6"/><circle cx="478.3" cy="255.0" r="0.6"/><circle cx="478.9" cy="254.8" r="0.6"/><circle cx="480.9" cy="254.6" r="0.6"/><circle cx="479.0" cy="254.4" r="0.6"/><circle cx="481.5" cy="254.2" r="0.6"/><circle cx="478.3" cy="253.9" r="0.6"/><circle cx="479.0" cy="253.7" r="0.6"/><circle cx="479.2" cy="253.5" r="0.6"/><circle cx="480.5" cy="253.3" r="0.6"/><circle cx="479.0" cy="253.1" r="0.6"/><circle cx="478.1" cy="252.8" r="0.6"/><circle cx="478.5" cy="252.6" r="0.6"/><circle cx="476.9" cy="252.4" r="0.6"/><circle cx="481.0" cy="252.2" r="0.6"/><circle cx="480.2" cy="252.0" r="0.6"/><circle cx="479.7" cy="251.8" r="0.6"/><circle cx="479.5" cy="251.5" r="0.6"/><circle cx="478.1" cy="251.3" r="0.6"/><circle cx="478.4" cy="251.1" r="0.6"/><circle cx="480.3" cy="250.9" r="0.6"/><circle cx="477.9" cy="250.7" r="0.6"/><circle cx="477.9" cy="250.5" r="0.6"/><circle cx="481.4" cy="250.3" r="0.6"/><circle cx="481.4" cy="250.0" r="0.6"/><circle cx="479.5" cy="249.8" r="0.6"/><circle cx="479.9" cy="249.6" r="0.6"/><circle cx="479.3" cy="249.4" r="0.6"/><circle cx="481.2" cy="249.2" r="0.6"/><circle cx="478.4" cy="249.0" r="0.6"/><circle cx="479.2" cy="248.7" r="0.6"/><circle cx="479.8" cy="248.5" r="0.6"/><circle cx="481.2" cy="248.3" r="0.6"/><circle cx="478.7" cy="248.1" r="0.6"/><circle cx="479.4" cy="247.9" r="0.6"/><circle cx="478.3" cy="247.7" r="0.6"/><circle cx="478.1" cy="247.4" r="0.6"/><circle cx="478.1" cy="247.2" r="0.6"/><circle cx="479.2" cy="247.0" r="0.6"/><circle cx="480.4" cy="246.8" r="0.6"/><circle cx="478.0" cy="246.6" r="0.6"/><circle cx="478.1" cy="246.4" r="0.6"/><circle cx="478.4" cy="246.2" r="0.6"/><circle cx="479.6" cy="245.9" r="0.6"/><circle cx="480.1" cy="245.7" r="0.6"/><circle cx="477.2" cy="245.5" r="0.6"/><circle cx="479.6" cy="245.4" r="0.6"/><circle cx="477.5" cy="245.2" r="0.6"/><circle cx="480.1" cy="245.0" r="0.6"/><circle cx="477.6" cy="244.8" r="0.6"/><circle cx="477.4" cy="244.5" r="0.6"/><circle cx="478.0" cy="244.1" r="0.6"/><circle cx="479.0" cy="243.7" r="0.6"/><circle cx="477.5" cy="243.3" r="0.6"/><circle cx="479.4" cy="242.8" r="0.6"/><circle cx="479.3" cy="242.3" r="0.6"/><circle cx="479.2" cy="241.7" r="0.6"/><circle cx="479.5" cy="241.1" r="0.6"/><circle cx="480.4" cy="240.5" r="0.6"/><circle cx="477.9" cy="239.9" r="0.6"/><circle cx="479.1" cy="239.2" r="0.6"/><circle cx="479.0" cy="238.5" r="0.6"/><circle cx="476.0" cy="237.8" r="0.6"/><circle cx="479.6" cy="237.1" r="0.6"/><circle cx="477.9" cy="236.3" r="0.6"/><circle cx="478.0" cy="235.5" r="0.6"/><circle cx="478.4" cy="234.7" r="0.6"/><circle cx="479.2" cy="233.8" r="0.6"/><circle cx="479.5" cy="232.9" r="0.6"/><circle cx="479.8" cy="232.0" r="0.6"/><circle cx="478.0" cy="231.1" r="0.6"/><circle cx="480.1" cy="230.2" r="0.6"/><circle cx="479.7" cy="229.2" r="0.6"/><circle cx="478.5" cy="228.2" r="0.6"/><circle cx="479.0" cy="227.2" r="0.6"/><circle cx="480.3" cy="226.2" r="0.6"/><circle cx="479.7" cy="225.1" r="0.6"/><circle cx="480.1" cy="224.0" r="0.6"/></g>
<circle cx="314" cy="282.5" r="0.55" fill="#333"/>
<circle cx="316.7" cy="282.2" r="0.55" fill="#333"/>
<circle cx="338.2" cy="285.8" r="0.55" fill="#333"/>
<circle cx="339.3" cy="290" r="0.55" fill="#333"/>
<circle cx="406" cy="285" r="0.55" fill="#333"/>
<circle cx="407.6" cy="290.4" r="0.55" fill="#333"/>
<circle cx="455.7" cy="301.1" r="0.55" fill="#333"/>
<circle cx="455.7" cy="311.2" r="0.55" fill="#333"/>
<circle cx="479.3" cy="285.5" r="0.55" fill="#333"/>
<circle cx="480.4" cy="290.4" r="0.55" fill="#333"/>
<circle cx="408.5" cy="346.2" r="0.55" fill="#333"/>
<circle cx="480.5" cy="346.2" r="0.55" fill="#333"/>
<line x1="305.1" y1="346.4" x2="323.7" y2="346.4" stroke="#111" stroke-width="1.4"/>
<line x1="329" y1="346.4" x2="347.2" y2="346.4" stroke="#111" stroke-width="1.4"/>
<text x="289.90" y="213.98" font-family="Liberation Sans" font-weight="bold" font-size="14.05">(</text>
<text x="303.02" y="213.98" font-family="Liberation Sans" font-weight="bold" font-size="14.05">)</text>
<text transform="translate(295.50,214.80) scale(0.7539,1)" font-family="Liberation Sans" font-weight="bold" font-size="13.95" fill="#000">E</text>
<rect x="544.3" y="192.3" width="236.80000000000007" height="160.0" fill="none" stroke="#555" stroke-width="0.9"/>
<line x1="539.5" y1="199.5" x2="544.3" y2="199.5" stroke="#555" stroke-width="0.8"/>
<text transform="translate(533.40,203.95) rotate(-90) scale(0.7914,1)" font-family="Liberation Sans" font-weight="normal" font-size="8.0" fill="#333">5.0</text>
<line x1="539.5" y1="225.5" x2="544.3" y2="225.5" stroke="#555" stroke-width="0.8"/>
<text transform="translate(533.40,229.84) rotate(-90) scale(0.7829,1)" font-family="Liberation Sans" font-weight="normal" font-size="8.0" fill="#333">4.5</text>
<line x1="539.5" y1="251.6" x2="544.3" y2="251.6" stroke="#555" stroke-width="0.8"/>
<text transform="translate(533.40,255.94) rotate(-90) scale(0.7812,1)" font-family="Liberation Sans" font-weight="normal" font-size="8.0" fill="#333">4.0</text>
<line x1="539.5" y1="277.7" x2="544.3" y2="277.7" stroke="#555" stroke-width="0.8"/>
<text transform="translate(533.40,282.14) rotate(-90) scale(0.7919,1)" font-family="Liberation Sans" font-weight="normal" font-size="8.0" fill="#333">3.5</text>
<line x1="539.5" y1="303.7" x2="544.3" y2="303.7" stroke="#555" stroke-width="0.8"/>
<text transform="translate(533.40,308.14) rotate(-90) scale(0.7902,1)" font-family="Liberation Sans" font-weight="normal" font-size="8.0" fill="#333">3.0</text>
<line x1="539.5" y1="329.5" x2="544.3" y2="329.5" stroke="#555" stroke-width="0.8"/>
<text transform="translate(533.40,334.02) rotate(-90) scale(0.7994,1)" font-family="Liberation Sans" font-weight="normal" font-size="8.0" fill="#333">2.5</text>
<path d="M585.40,236.10L575.00,236.10C574.80,236.70 574.75,238.03 573.80,239.70C572.85,241.37 571.13,243.70 569.30,246.10C567.47,248.50 564.47,251.42 562.80,254.10C561.13,256.78 560.05,259.92 559.30,262.20C558.55,264.48 558.30,265.93 558.30,267.80C558.30,269.67 558.60,271.38 559.30,273.40C560.00,275.42 561.10,277.47 562.50,279.90C563.90,282.33 566.03,285.30 567.70,288.00C569.37,290.70 571.17,293.42 572.50,296.10C573.83,298.78 574.95,301.42 575.70,304.10C576.45,306.78 576.73,309.52 577.00,312.20C577.27,314.88 577.20,317.52 577.30,320.20C577.40,322.88 577.60,325.93 577.60,328.30C577.60,330.67 577.35,333.38 577.30,334.40L583.10,334.40C583.05,333.38 582.80,330.67 582.80,328.30C582.80,325.93 583.00,322.88 583.10,320.20C583.20,317.52 583.13,314.88 583.40,312.20C583.67,309.52 583.95,306.78 584.70,304.10C585.45,301.42 586.57,298.78 587.90,296.10C589.23,293.42 591.03,290.70 592.70,288.00C594.37,285.30 596.50,282.33 597.90,279.90C599.30,277.47 600.40,275.42 601.10,273.40C601.80,271.38 602.10,269.67 602.10,267.80C602.10,265.93 601.85,264.48 601.10,262.20C600.35,259.92 599.27,256.78 597.60,254.10C595.93,251.42 592.93,248.50 591.10,246.10C589.27,243.70 587.55,241.37 586.60,239.70C585.65,238.03 585.60,236.70 585.40,236.10Z" fill="#20AA0C" stroke="#1a3a10" stroke-width="0.6"/>
<line x1="580.2" y1="236.1" x2="580.2" y2="305.4" stroke="#111" stroke-width="0.7"/>
<rect x="578.75" y="263.0" width="2.9" height="17.0" fill="#000"/>
<circle cx="580.2" cy="268.6" r="1.7" fill="#fff"/>
<line x1="580.2" y1="352.3" x2="580.2" y2="356.5" stroke="#555" stroke-width="0.8"/>
<text transform="translate(567.53,367.30) scale(1.0182,1)" font-family="Liberation Sans" font-weight="normal" font-size="8.1" fill="#333">Stage I</text>
<path d="M636.30,222.20L633.90,222.20C633.87,223.15 633.90,225.88 633.70,227.90C633.50,229.92 633.32,232.17 632.70,234.30C632.08,236.43 631.40,238.55 630.00,240.70C628.60,242.85 626.18,245.05 624.30,247.20C622.42,249.35 620.25,251.47 618.70,253.60C617.15,255.73 615.88,257.85 615.00,260.00C614.12,262.15 613.67,264.62 613.40,266.50C613.13,268.38 613.13,269.65 613.40,271.30C613.67,272.95 614.12,274.47 615.00,276.40C615.88,278.33 617.37,280.75 618.70,282.90C620.03,285.05 621.67,287.17 623.00,289.30C624.33,291.43 625.62,293.55 626.70,295.70C627.78,297.85 628.68,300.05 629.50,302.20C630.32,304.35 631.05,306.47 631.60,308.60C632.15,310.73 632.45,312.85 632.80,315.00C633.15,317.15 633.52,318.28 633.70,321.50C633.88,324.72 633.87,332.17 633.90,334.30L636.30,334.30C636.33,332.17 636.32,324.72 636.50,321.50C636.68,318.28 637.05,317.15 637.40,315.00C637.75,312.85 638.05,310.73 638.60,308.60C639.15,306.47 639.88,304.35 640.70,302.20C641.52,300.05 642.42,297.85 643.50,295.70C644.58,293.55 645.87,291.43 647.20,289.30C648.53,287.17 650.17,285.05 651.50,282.90C652.83,280.75 654.32,278.33 655.20,276.40C656.08,274.47 656.53,272.95 656.80,271.30C657.07,269.65 657.07,268.38 656.80,266.50C656.53,264.62 656.08,262.15 655.20,260.00C654.32,257.85 653.05,255.73 651.50,253.60C649.95,251.47 647.78,249.35 645.90,247.20C644.02,245.05 641.60,242.85 640.20,240.70C638.80,238.55 638.12,236.43 637.50,234.30C636.88,232.17 636.70,229.92 636.50,227.90C636.30,225.88 636.33,223.15 636.30,222.20Z" fill="#20AA0C" stroke="#1a3a10" stroke-width="0.6"/>
<line x1="635.1" y1="222.2" x2="635.1" y2="334.3" stroke="#111" stroke-width="0.7"/>
<rect x="633.65" y="259.6" width="2.9" height="25.4" fill="#000"/>
<circle cx="635.1" cy="272.3" r="1.7" fill="#fff"/>
<line x1="635.1" y1="352.3" x2="635.1" y2="356.5" stroke="#555" stroke-width="0.8"/>
<text transform="translate(621.53,367.30) scale(0.9961,1)" font-family="Liberation Sans" font-weight="normal" font-size="8.1" fill="#333">Stage II</text>
<path d="M691.30,226.40L688.50,226.40C688.30,227.48 687.90,230.75 687.30,232.90C686.70,235.05 685.88,237.17 684.90,239.30C683.92,241.43 682.60,243.55 681.40,245.70C680.20,247.85 678.92,250.05 677.70,252.20C676.48,254.35 675.23,256.47 674.10,258.60C672.97,260.73 671.78,262.85 670.90,265.00C670.02,267.15 669.23,269.35 668.80,271.50C668.37,273.65 667.93,275.98 668.30,277.90C668.67,279.82 669.55,280.80 671.00,283.00C672.45,285.20 675.33,288.40 677.00,291.10C678.67,293.80 679.88,296.52 681.00,299.20C682.12,301.88 683.02,304.52 683.70,307.20C684.38,309.88 684.63,312.62 685.10,315.30C685.57,317.98 686.07,320.62 686.50,323.30C686.93,325.98 687.33,328.72 687.70,331.40C688.07,334.08 688.47,336.87 688.70,339.40C688.93,341.93 689.03,345.40 689.10,346.60L690.70,346.60C690.77,345.40 690.87,341.93 691.10,339.40C691.33,336.87 691.73,334.08 692.10,331.40C692.47,328.72 692.87,325.98 693.30,323.30C693.73,320.62 694.23,317.98 694.70,315.30C695.17,312.62 695.42,309.88 696.10,307.20C696.78,304.52 697.68,301.88 698.80,299.20C699.92,296.52 701.13,293.80 702.80,291.10C704.47,288.40 707.35,285.20 708.80,283.00C710.25,280.80 711.13,279.82 711.50,277.90C711.87,275.98 711.43,273.65 711.00,271.50C710.57,269.35 709.78,267.15 708.90,265.00C708.02,262.85 706.83,260.73 705.70,258.60C704.57,256.47 703.32,254.35 702.10,252.20C700.88,250.05 699.60,247.85 698.40,245.70C697.20,243.55 695.88,241.43 694.90,239.30C693.92,237.17 693.10,235.05 692.50,232.90C691.90,230.75 691.50,227.48 691.30,226.40Z" fill="#20AA0C" stroke="#1a3a10" stroke-width="0.6"/>
<line x1="689.9" y1="226.4" x2="689.9" y2="346.6" stroke="#111" stroke-width="0.7"/>
<rect x="688.4499999999999" y="264.5" width="2.9" height="23.9" fill="#000"/>
<circle cx="689.9" cy="276.7" r="1.7" fill="#fff"/>
<line x1="689.9" y1="352.3" x2="689.9" y2="356.5" stroke="#555" stroke-width="0.8"/>
<text transform="translate(675.23,367.30) scale(0.9981,1)" font-family="Liberation Sans" font-weight="normal" font-size="8.1" fill="#333">Stage III</text>
<path d="M751.50,238.40L738.10,238.40C737.88,239.15 737.37,241.08 736.80,242.90C736.23,244.72 735.43,247.17 734.70,249.30C733.97,251.43 733.27,253.55 732.40,255.70C731.53,257.85 730.57,260.05 729.50,262.20C728.43,264.35 726.93,266.47 726.00,268.60C725.07,270.73 724.33,272.85 723.90,275.00C723.47,277.15 723.18,279.35 723.40,281.50C723.62,283.65 724.05,286.00 725.20,287.90C726.35,289.80 728.50,291.00 730.30,292.90C732.10,294.80 734.47,297.17 736.00,299.30C737.53,301.43 738.65,303.55 739.50,305.70C740.35,307.85 740.70,310.05 741.10,312.20C741.50,314.35 741.73,316.25 741.90,318.60C742.07,320.95 742.07,325.02 742.10,326.30L747.50,326.30C747.53,325.02 747.53,320.95 747.70,318.60C747.87,316.25 748.10,314.35 748.50,312.20C748.90,310.05 749.25,307.85 750.10,305.70C750.95,303.55 752.07,301.43 753.60,299.30C755.13,297.17 757.50,294.80 759.30,292.90C761.10,291.00 763.25,289.80 764.40,287.90C765.55,286.00 765.98,283.65 766.20,281.50C766.42,279.35 766.13,277.15 765.70,275.00C765.27,272.85 764.53,270.73 763.60,268.60C762.67,266.47 761.17,264.35 760.10,262.20C759.03,260.05 758.07,257.85 757.20,255.70C756.33,253.55 755.63,251.43 754.90,249.30C754.17,247.17 753.37,244.72 752.80,242.90C752.23,241.08 751.72,239.15 751.50,238.40Z" fill="#20AA0C" stroke="#1a3a10" stroke-width="0.6"/>
<line x1="744.8" y1="238.4" x2="744.8" y2="324" stroke="#111" stroke-width="0.7"/>
<rect x="743.3499999999999" y="259.3" width="2.9" height="28.1" fill="#000"/>
<circle cx="744.8" cy="278.0" r="1.7" fill="#fff"/>
<line x1="744.8" y1="352.3" x2="744.8" y2="356.5" stroke="#555" stroke-width="0.8"/>
<text transform="translate(729.34,367.30) scale(0.9782,1)" font-family="Liberation Sans" font-weight="normal" font-size="8.1" fill="#333">Stage IV</text>
<text transform="translate(707.39,206.40) scale(1.0734,1)" font-family="Liberation Sans" font-weight="normal" font-size="8.1" fill="#222">F value = 0.715</text>
<text transform="translate(711.29,215.20) scale(1.0662,1)" font-family="Liberation Sans" font-weight="normal" font-size="8.1" fill="#222">Pr(&gt;F) = 0.544</text>
<text x="551.68" y="212.02" font-family="Liberation Sans" font-weight="bold" font-size="14.38">(</text>
<text x="565.03" y="212.02" font-family="Liberation Sans" font-weight="bold" font-size="14.38">)</text>
<text transform="translate(557.24,212.00) scale(0.8369,1)" font-family="Liberation Sans" font-weight="bold" font-size="13.66" fill="#000">F</text>
<rect x="27.5" y="198.5" width="226.4" height="151.8" fill="#fff"/>
<rect x="34.3" y="198.5" width="7.30" height="151.8" fill="#e9e9e9"/>
<rect x="48.1" y="198.5" width="7.30" height="151.8" fill="#e9e9e9"/>
<rect x="62" y="198.5" width="7.20" height="151.8" fill="#e9e9e9"/>
<rect x="76.5" y="198.5" width="6.60" height="151.8" fill="#e9e9e9"/>
<rect x="89.6" y="198.5" width="7.30" height="151.8" fill="#e9e9e9"/>
<rect x="104.5" y="198.5" width="6.50" height="151.8" fill="#e9e9e9"/>
<rect x="118.5" y="198.5" width="6.50" height="151.8" fill="#e9e9e9"/>
<rect x="132.5" y="198.5" width="7.00" height="151.8" fill="#e9e9e9"/>
<rect x="146.5" y="198.5" width="7.00" height="151.8" fill="#e9e9e9"/>
<rect x="158.3" y="198.5" width="7.20" height="151.8" fill="#e9e9e9"/>
<rect x="172.3" y="198.5" width="7.20" height="151.8" fill="#e9e9e9"/>
<rect x="186.1" y="198.5" width="8.00" height="151.8" fill="#e9e9e9"/>
<rect x="200.7" y="198.5" width="7.30" height="151.8" fill="#e9e9e9"/>
<rect x="214.5" y="198.5" width="7.30" height="151.8" fill="#e9e9e9"/>
<rect x="228.4" y="198.5" width="7.20" height="151.8" fill="#e9e9e9"/>
<rect x="242.9" y="198.5" width="7.70" height="151.8" fill="#e9e9e9"/>
<rect x="27.5" y="198.5" width="226.4" height="151.8" fill="none" stroke="#9a9a9a" stroke-width="1"/>
<line x1="24.5" y1="349.8" x2="27.5" y2="349.8" stroke="#999" stroke-width="0.6"/>
<text transform="translate(24.30,350.80) rotate(-90)" font-family="Liberation Sans" font-weight="normal" font-size="3.6" fill="#444">0</text>
<line x1="24.5" y1="328.2" x2="27.5" y2="328.2" stroke="#999" stroke-width="0.6"/>
<text transform="translate(24.30,329.25) rotate(-90)" font-family="Liberation Sans" font-weight="normal" font-size="3.6" fill="#444">1</text>
<line x1="24.5" y1="306.6" x2="27.5" y2="306.6" stroke="#999" stroke-width="0.6"/>
<text transform="translate(24.30,307.60) rotate(-90)" font-family="Liberation Sans" font-weight="normal" font-size="3.6" fill="#444">2</text>
<line x1="24.5" y1="285.0" x2="27.5" y2="285.0" stroke="#999" stroke-width="0.6"/>
<text transform="translate(24.30,285.99) rotate(-90)" font-family="Liberation Sans" font-weight="normal" font-size="3.6" fill="#444">3</text>
<line x1="24.5" y1="263.4" x2="27.5" y2="263.4" stroke="#999" stroke-width="0.6"/>
<text transform="translate(24.30,264.39) rotate(-90)" font-family="Liberation Sans" font-weight="normal" font-size="3.6" fill="#444">4</text>
<line x1="24.5" y1="241.8" x2="27.5" y2="241.8" stroke="#999" stroke-width="0.6"/>
<text transform="translate(24.30,242.80) rotate(-90)" font-family="Liberation Sans" font-weight="normal" font-size="3.6" fill="#444">5</text>
<line x1="24.5" y1="220.2" x2="27.5" y2="220.2" stroke="#999" stroke-width="0.6"/>
<text transform="translate(24.30,221.21) rotate(-90)" font-family="Liberation Sans" font-weight="normal" font-size="3.6" fill="#444">6</text>
<line x1="24.5" y1="198.6" x2="27.5" y2="198.6" stroke="#999" stroke-width="0.6"/>
<text transform="translate(24.30,199.60) rotate(-90)" font-family="Liberation Sans" font-weight="normal" font-size="3.6" fill="#444">7</text>
<text transform="translate(10.30,332.39) rotate(-90) scale(1.0052,1)" font-family="Liberation Sans" font-weight="normal" font-size="8.3" fill="#333">Transcripts Per Million (TPM)</text>
<g fill="#e5484e" fill-opacity="0.55"><circle cx="28.57" cy="290.96" r="0.65"/><circle cx="28.70" cy="288.88" r="0.65"/><circle cx="29.09" cy="286.79" r="0.65"/><circle cx="28.66" cy="284.71" r="0.65"/><circle cx="28.73" cy="282.62" r="0.65"/><circle cx="28.83" cy="281.84" r="0.65"/><circle cx="28.46" cy="281.62" r="0.65"/><circle cx="28.81" cy="281.39" r="0.65"/><circle cx="28.96" cy="281.16" r="0.65"/><circle cx="29.15" cy="280.94" r="0.65"/><circle cx="28.47" cy="280.71" r="0.65"/><circle cx="28.71" cy="280.48" r="0.65"/><circle cx="28.52" cy="280.26" r="0.65"/><circle cx="29.27" cy="280.03" r="0.65"/><circle cx="29.18" cy="279.81" r="0.65"/><circle cx="28.56" cy="279.58" r="0.65"/><circle cx="29.52" cy="279.35" r="0.65"/><circle cx="29.53" cy="279.13" r="0.65"/><circle cx="29.25" cy="278.90" r="0.65"/><circle cx="29.24" cy="278.68" r="0.65"/><circle cx="28.80" cy="278.45" r="0.65"/><circle cx="28.69" cy="278.22" r="0.65"/><circle cx="29.23" cy="278.00" r="0.65"/><circle cx="28.79" cy="277.77" r="0.65"/><circle cx="28.94" cy="277.54" r="0.65"/><circle cx="29.02" cy="277.32" r="0.65"/><circle cx="28.84" cy="277.09" r="0.65"/><circle cx="29.30" cy="276.87" r="0.65"/><circle cx="29.30" cy="276.64" r="0.65"/><circle cx="29.73" cy="276.41" r="0.65"/><circle cx="29.43" cy="275.88" r="0.65"/><circle cx="29.58" cy="275.03" r="0.65"/><circle cx="29.47" cy="274.19" r="0.65"/><circle cx="29.66" cy="273.34" r="0.65"/><circle cx="29.48" cy="272.50" r="0.65"/><circle cx="29.32" cy="271.65" r="0.65"/><circle cx="30.07" cy="270.81" r="0.65"/><circle cx="30.10" cy="269.96" r="0.65"/><circle cx="29.97" cy="269.12" r="0.65"/><circle cx="29.86" cy="268.27" r="0.65"/><circle cx="29.50" cy="267.43" r="0.65"/><circle cx="29.44" cy="266.58" r="0.65"/><circle cx="29.52" cy="265.73" r="0.65"/><circle cx="29.33" cy="264.89" r="0.65"/><circle cx="30.05" cy="264.04" r="0.65"/><circle cx="29.71" cy="263.20" r="0.65"/><circle cx="30.19" cy="262.35" r="0.65"/><circle cx="29.75" cy="261.51" r="0.65"/><circle cx="30.35" cy="260.66" r="0.65"/><circle cx="30.27" cy="259.82" r="0.65"/><circle cx="29.45" cy="258.97" r="0.65"/><circle cx="29.68" cy="258.13" r="0.65"/><circle cx="30.41" cy="257.28" r="0.65"/><circle cx="30.00" cy="256.44" r="0.65"/><circle cx="30.53" cy="255.59" r="0.65"/><circle cx="29.98" cy="254.62" r="0.65"/><circle cx="29.68" cy="253.38" r="0.65"/><circle cx="30.26" cy="252.12" r="0.65"/><circle cx="30.44" cy="250.88" r="0.65"/><circle cx="29.96" cy="249.62" r="0.65"/></g>
<g fill="#e5484e" fill-opacity="0.55"><circle cx="34.10" cy="310.58" r="0.65"/><circle cx="34.38" cy="309.75" r="0.65"/><circle cx="35.04" cy="308.92" r="0.65"/><circle cx="34.86" cy="308.08" r="0.65"/><circle cx="34.25" cy="307.25" r="0.65"/><circle cx="34.41" cy="306.42" r="0.65"/><circle cx="34.30" cy="305.58" r="0.65"/><circle cx="34.28" cy="304.80" r="0.65"/><circle cx="35.05" cy="304.12" r="0.65"/><circle cx="34.46" cy="303.44" r="0.65"/><circle cx="34.87" cy="302.76" r="0.65"/><circle cx="34.79" cy="302.08" r="0.65"/><circle cx="34.57" cy="301.40" r="0.65"/><circle cx="35.14" cy="300.72" r="0.65"/><circle cx="34.57" cy="300.04" r="0.65"/><circle cx="35.11" cy="299.36" r="0.65"/><circle cx="34.61" cy="298.68" r="0.65"/><circle cx="34.95" cy="298.00" r="0.65"/><circle cx="34.77" cy="297.32" r="0.65"/><circle cx="34.85" cy="296.64" r="0.65"/><circle cx="35.59" cy="295.96" r="0.65"/><circle cx="35.45" cy="295.28" r="0.65"/><circle cx="34.98" cy="294.60" r="0.65"/><circle cx="35.59" cy="293.92" r="0.65"/><circle cx="34.95" cy="293.24" r="0.65"/><circle cx="35.16" cy="292.56" r="0.65"/><circle cx="35.65" cy="291.88" r="0.65"/><circle cx="35.47" cy="291.20" r="0.65"/><circle cx="34.96" cy="290.52" r="0.65"/><circle cx="35.87" cy="289.84" r="0.65"/><circle cx="35.13" cy="289.16" r="0.65"/><circle cx="35.20" cy="288.48" r="0.65"/><circle cx="35.75" cy="287.80" r="0.65"/><circle cx="35.33" cy="287.12" r="0.65"/><circle cx="35.33" cy="286.44" r="0.65"/><circle cx="35.14" cy="285.76" r="0.65"/><circle cx="35.19" cy="285.08" r="0.65"/><circle cx="35.71" cy="284.40" r="0.65"/><circle cx="35.40" cy="283.72" r="0.65"/><circle cx="35.79" cy="283.04" r="0.65"/><circle cx="35.59" cy="282.36" r="0.65"/><circle cx="35.70" cy="281.68" r="0.65"/><circle cx="36.23" cy="281.00" r="0.65"/><circle cx="35.79" cy="280.32" r="0.65"/><circle cx="35.91" cy="279.64" r="0.65"/><circle cx="36.23" cy="278.89" r="0.65"/><circle cx="35.58" cy="278.07" r="0.65"/><circle cx="35.58" cy="277.26" r="0.65"/><circle cx="36.36" cy="276.44" r="0.65"/><circle cx="36.30" cy="275.62" r="0.65"/><circle cx="35.76" cy="274.80" r="0.65"/><circle cx="35.73" cy="273.99" r="0.65"/><circle cx="36.31" cy="273.17" r="0.65"/><circle cx="36.55" cy="272.35" r="0.65"/><circle cx="35.83" cy="271.53" r="0.65"/><circle cx="36.62" cy="270.72" r="0.65"/><circle cx="36.58" cy="269.90" r="0.65"/><circle cx="36.33" cy="269.08" r="0.65"/><circle cx="36.18" cy="268.26" r="0.65"/><circle cx="35.89" cy="267.45" r="0.65"/><circle cx="35.85" cy="266.63" r="0.65"/><circle cx="36.81" cy="265.81" r="0.65"/><circle cx="36.11" cy="264.99" r="0.65"/><circle cx="36.61" cy="264.18" r="0.65"/><circle cx="36.19" cy="263.36" r="0.65"/><circle cx="36.79" cy="262.54" r="0.65"/><circle cx="36.59" cy="261.72" r="0.65"/><circle cx="36.32" cy="260.91" r="0.65"/><circle cx="36.23" cy="260.09" r="0.65"/><circle cx="36.81" cy="259.27" r="0.65"/><circle cx="36.18" cy="258.45" r="0.65"/><circle cx="36.37" cy="257.64" r="0.65"/><circle cx="36.73" cy="256.82" r="0.65"/><circle cx="37.06" cy="256.00" r="0.65"/><circle cx="36.85" cy="255.18" r="0.65"/><circle cx="36.55" cy="254.37" r="0.65"/><circle cx="37.21" cy="253.55" r="0.65"/><circle cx="36.53" cy="252.73" r="0.65"/><circle cx="36.37" cy="251.92" r="0.65"/><circle cx="36.65" cy="251.10" r="0.65"/><circle cx="36.86" cy="250.28" r="0.65"/><circle cx="36.51" cy="249.46" r="0.65"/><circle cx="36.65" cy="248.65" r="0.65"/><circle cx="36.87" cy="247.72" r="0.65"/><circle cx="37.11" cy="246.75" r="0.65"/><circle cx="36.70" cy="245.78" r="0.65"/><circle cx="36.96" cy="244.80" r="0.65"/><circle cx="37.52" cy="243.83" r="0.65"/><circle cx="37.64" cy="242.86" r="0.65"/><circle cx="37.34" cy="241.89" r="0.65"/></g>
<g fill="#e5484e" fill-opacity="0.55"><circle cx="42.20" cy="304.43" r="0.65"/><circle cx="42.12" cy="303.30" r="0.65"/><circle cx="41.70" cy="302.16" r="0.65"/><circle cx="41.62" cy="301.02" r="0.65"/><circle cx="41.63" cy="299.89" r="0.65"/><circle cx="42.55" cy="298.75" r="0.65"/><circle cx="42.36" cy="297.61" r="0.65"/><circle cx="42.65" cy="296.48" r="0.65"/><circle cx="41.73" cy="295.34" r="0.65"/><circle cx="42.37" cy="294.52" r="0.65"/><circle cx="42.24" cy="293.84" r="0.65"/><circle cx="42.51" cy="293.15" r="0.65"/><circle cx="42.13" cy="292.47" r="0.65"/><circle cx="42.83" cy="291.79" r="0.65"/><circle cx="41.93" cy="291.10" r="0.65"/><circle cx="42.43" cy="290.42" r="0.65"/><circle cx="42.64" cy="289.73" r="0.65"/><circle cx="42.83" cy="289.05" r="0.65"/><circle cx="42.69" cy="288.37" r="0.65"/><circle cx="42.68" cy="287.68" r="0.65"/><circle cx="42.80" cy="287.00" r="0.65"/><circle cx="42.94" cy="286.31" r="0.65"/><circle cx="42.40" cy="285.63" r="0.65"/><circle cx="42.76" cy="284.95" r="0.65"/><circle cx="43.00" cy="284.26" r="0.65"/><circle cx="43.00" cy="283.58" r="0.65"/><circle cx="42.57" cy="282.89" r="0.65"/><circle cx="42.97" cy="282.21" r="0.65"/><circle cx="43.06" cy="281.53" r="0.65"/><circle cx="42.80" cy="280.84" r="0.65"/><circle cx="42.87" cy="280.16" r="0.65"/><circle cx="42.66" cy="279.47" r="0.65"/><circle cx="42.88" cy="278.79" r="0.65"/><circle cx="42.93" cy="278.11" r="0.65"/><circle cx="42.43" cy="277.42" r="0.65"/><circle cx="43.01" cy="276.74" r="0.65"/><circle cx="43.39" cy="276.05" r="0.65"/><circle cx="43.30" cy="275.37" r="0.65"/><circle cx="43.17" cy="274.69" r="0.65"/><circle cx="42.86" cy="274.00" r="0.65"/><circle cx="43.23" cy="273.32" r="0.65"/><circle cx="43.10" cy="272.63" r="0.65"/><circle cx="42.98" cy="271.95" r="0.65"/><circle cx="43.41" cy="271.27" r="0.65"/><circle cx="42.68" cy="270.58" r="0.65"/><circle cx="43.37" cy="269.90" r="0.65"/><circle cx="42.67" cy="269.21" r="0.65"/><circle cx="43.27" cy="268.53" r="0.65"/><circle cx="43.17" cy="267.85" r="0.65"/><circle cx="42.95" cy="267.16" r="0.65"/><circle cx="43.44" cy="266.48" r="0.65"/><circle cx="43.26" cy="265.79" r="0.65"/><circle cx="43.40" cy="265.11" r="0.65"/><circle cx="43.73" cy="264.43" r="0.65"/><circle cx="43.09" cy="263.74" r="0.65"/><circle cx="42.87" cy="263.16" r="0.65"/><circle cx="43.19" cy="262.69" r="0.65"/><circle cx="43.59" cy="262.21" r="0.65"/><circle cx="43.14" cy="261.73" r="0.65"/><circle cx="43.13" cy="261.26" r="0.65"/><circle cx="43.89" cy="260.78" r="0.65"/><circle cx="43.67" cy="260.30" r="0.65"/><circle cx="43.48" cy="259.83" r="0.65"/><circle cx="43.95" cy="259.35" r="0.65"/><circle cx="43.41" cy="258.88" r="0.65"/><circle cx="43.77" cy="258.40" r="0.65"/><circle cx="43.33" cy="257.92" r="0.65"/><circle cx="43.59" cy="257.45" r="0.65"/><circle cx="43.99" cy="256.97" r="0.65"/><circle cx="44.12" cy="256.50" r="0.65"/><circle cx="44.11" cy="256.02" r="0.65"/><circle cx="43.64" cy="255.54" r="0.65"/><circle cx="43.86" cy="255.07" r="0.65"/><circle cx="43.62" cy="254.59" r="0.65"/><circle cx="43.46" cy="254.11" r="0.65"/><circle cx="43.85" cy="253.64" r="0.65"/><circle cx="44.21" cy="253.16" r="0.65"/><circle cx="44.25" cy="252.69" r="0.65"/><circle cx="44.14" cy="252.21" r="0.65"/><circle cx="44.40" cy="251.73" r="0.65"/><circle cx="43.75" cy="251.26" r="0.65"/><circle cx="43.67" cy="250.78" r="0.65"/><circle cx="43.98" cy="250.30" r="0.65"/><circle cx="43.82" cy="249.83" r="0.65"/><circle cx="43.79" cy="249.35" r="0.65"/><circle cx="44.01" cy="248.88" r="0.65"/><circle cx="44.25" cy="248.40" r="0.65"/><circle cx="44.14" cy="247.92" r="0.65"/><circle cx="43.99" cy="247.45" r="0.65"/><circle cx="44.54" cy="246.97" r="0.65"/><circle cx="44.70" cy="246.50" r="0.65"/><circle cx="44.20" cy="246.02" r="0.65"/><circle cx="43.85" cy="245.54" r="0.65"/><circle cx="43.83" cy="245.07" r="0.65"/><circle cx="44.69" cy="244.59" r="0.65"/><circle cx="43.89" cy="244.11" r="0.65"/><circle cx="44.58" cy="243.64" r="0.65"/><circle cx="44.46" cy="243.16" r="0.65"/><circle cx="44.23" cy="242.69" r="0.65"/><circle cx="44.73" cy="242.21" r="0.65"/><circle cx="43.99" cy="241.73" r="0.65"/><circle cx="44.13" cy="240.91" r="0.65"/><circle cx="44.47" cy="239.27" r="0.65"/><circle cx="44.07" cy="237.64" r="0.65"/><circle cx="44.89" cy="236.00" r="0.65"/><circle cx="44.33" cy="234.36" r="0.65"/><circle cx="44.25" cy="232.73" r="0.65"/><circle cx="44.19" cy="231.09" r="0.65"/><circle cx="44.79" cy="229.45" r="0.65"/><circle cx="44.63" cy="227.82" r="0.65"/></g>
<g fill="#e5484e" fill-opacity="0.55"><circle cx="48.75" cy="303.87" r="0.65"/><circle cx="48.81" cy="303.22" r="0.65"/><circle cx="49.00" cy="302.56" r="0.65"/><circle cx="49.19" cy="301.90" r="0.65"/><circle cx="48.95" cy="301.25" r="0.65"/><circle cx="48.50" cy="300.59" r="0.65"/><circle cx="48.81" cy="299.92" r="0.65"/><circle cx="48.55" cy="299.09" r="0.65"/><circle cx="48.42" cy="298.27" r="0.65"/><circle cx="48.92" cy="297.44" r="0.65"/><circle cx="49.19" cy="296.62" r="0.65"/><circle cx="48.70" cy="295.80" r="0.65"/><circle cx="48.83" cy="294.97" r="0.65"/><circle cx="48.94" cy="294.15" r="0.65"/><circle cx="49.32" cy="293.32" r="0.65"/><circle cx="49.18" cy="292.50" r="0.65"/><circle cx="49.31" cy="291.67" r="0.65"/><circle cx="49.49" cy="290.85" r="0.65"/><circle cx="49.16" cy="290.02" r="0.65"/><circle cx="49.60" cy="289.20" r="0.65"/><circle cx="49.75" cy="288.38" r="0.65"/><circle cx="48.97" cy="287.55" r="0.65"/><circle cx="49.85" cy="286.73" r="0.65"/><circle cx="49.67" cy="285.90" r="0.65"/><circle cx="49.12" cy="285.08" r="0.65"/><circle cx="49.48" cy="284.25" r="0.65"/><circle cx="49.69" cy="283.43" r="0.65"/><circle cx="50.01" cy="282.61" r="0.65"/><circle cx="49.51" cy="281.78" r="0.65"/><circle cx="49.74" cy="280.96" r="0.65"/><circle cx="50.08" cy="280.13" r="0.65"/><circle cx="50.04" cy="279.31" r="0.65"/><circle cx="50.22" cy="278.48" r="0.65"/><circle cx="49.78" cy="277.66" r="0.65"/><circle cx="50.00" cy="276.83" r="0.65"/><circle cx="49.59" cy="276.01" r="0.65"/><circle cx="50.15" cy="275.19" r="0.65"/><circle cx="50.28" cy="274.36" r="0.65"/><circle cx="50.14" cy="273.54" r="0.65"/><circle cx="50.25" cy="272.71" r="0.65"/><circle cx="49.78" cy="272.04" r="0.65"/><circle cx="50.50" cy="271.52" r="0.65"/><circle cx="50.62" cy="271.00" r="0.65"/><circle cx="50.65" cy="270.48" r="0.65"/><circle cx="50.25" cy="269.96" r="0.65"/><circle cx="50.54" cy="269.44" r="0.65"/><circle cx="50.11" cy="268.91" r="0.65"/><circle cx="50.73" cy="268.39" r="0.65"/><circle cx="50.71" cy="267.87" r="0.65"/><circle cx="50.24" cy="267.35" r="0.65"/><circle cx="50.01" cy="266.83" r="0.65"/><circle cx="50.41" cy="266.31" r="0.65"/><circle cx="50.55" cy="265.79" r="0.65"/><circle cx="50.81" cy="265.27" r="0.65"/><circle cx="50.56" cy="264.75" r="0.65"/><circle cx="50.14" cy="264.23" r="0.65"/><circle cx="50.96" cy="263.71" r="0.65"/><circle cx="50.25" cy="263.19" r="0.65"/><circle cx="51.02" cy="262.66" r="0.65"/><circle cx="50.43" cy="262.14" r="0.65"/><circle cx="50.63" cy="261.62" r="0.65"/><circle cx="51.12" cy="261.10" r="0.65"/><circle cx="50.51" cy="260.58" r="0.65"/><circle cx="50.55" cy="260.06" r="0.65"/><circle cx="50.95" cy="259.54" r="0.65"/><circle cx="51.20" cy="259.02" r="0.65"/><circle cx="51.35" cy="258.50" r="0.65"/><circle cx="51.24" cy="257.98" r="0.65"/><circle cx="51.53" cy="257.46" r="0.65"/><circle cx="51.11" cy="256.94" r="0.65"/><circle cx="51.60" cy="256.41" r="0.65"/><circle cx="50.78" cy="255.89" r="0.65"/><circle cx="50.95" cy="255.37" r="0.65"/><circle cx="51.29" cy="254.85" r="0.65"/><circle cx="51.09" cy="254.20" r="0.65"/><circle cx="51.57" cy="253.52" r="0.65"/><circle cx="51.51" cy="252.85" r="0.65"/><circle cx="51.43" cy="252.18" r="0.65"/><circle cx="51.79" cy="251.51" r="0.65"/><circle cx="51.54" cy="250.84" r="0.65"/></g>
<g fill="#e5484e" fill-opacity="0.55"><circle cx="55.86" cy="284.43" r="0.65"/><circle cx="56.04" cy="283.27" r="0.65"/><circle cx="56.61" cy="282.45" r="0.65"/><circle cx="56.76" cy="281.94" r="0.65"/><circle cx="56.18" cy="281.44" r="0.65"/><circle cx="56.92" cy="280.93" r="0.65"/><circle cx="57.14" cy="280.43" r="0.65"/><circle cx="56.80" cy="279.92" r="0.65"/><circle cx="56.96" cy="279.42" r="0.65"/><circle cx="56.69" cy="278.91" r="0.65"/><circle cx="57.13" cy="278.41" r="0.65"/><circle cx="57.20" cy="277.90" r="0.65"/><circle cx="57.41" cy="277.40" r="0.65"/><circle cx="56.93" cy="276.52" r="0.65"/><circle cx="57.98" cy="275.65" r="0.65"/><circle cx="57.63" cy="274.77" r="0.65"/><circle cx="57.62" cy="273.90" r="0.65"/><circle cx="58.12" cy="273.02" r="0.65"/><circle cx="57.99" cy="272.14" r="0.65"/><circle cx="58.02" cy="271.27" r="0.65"/><circle cx="58.32" cy="270.39" r="0.65"/><circle cx="57.80" cy="269.51" r="0.65"/><circle cx="58.38" cy="268.64" r="0.65"/><circle cx="58.36" cy="266.73" r="0.65"/><circle cx="59.00" cy="263.78" r="0.65"/></g>
<g fill="#e5484e" fill-opacity="0.55"><circle cx="63.34" cy="304.52" r="0.65"/><circle cx="62.72" cy="303.55" r="0.65"/><circle cx="62.96" cy="302.58" r="0.65"/><circle cx="62.65" cy="301.61" r="0.65"/><circle cx="62.99" cy="300.64" r="0.65"/><circle cx="63.40" cy="299.67" r="0.65"/><circle cx="63.52" cy="298.72" r="0.65"/><circle cx="63.13" cy="297.96" r="0.65"/><circle cx="63.00" cy="297.19" r="0.65"/><circle cx="62.91" cy="296.43" r="0.65"/><circle cx="63.37" cy="295.66" r="0.65"/><circle cx="63.71" cy="294.90" r="0.65"/><circle cx="62.95" cy="294.13" r="0.65"/><circle cx="63.63" cy="293.37" r="0.65"/><circle cx="62.91" cy="292.60" r="0.65"/><circle cx="63.12" cy="291.84" r="0.65"/><circle cx="63.18" cy="291.07" r="0.65"/><circle cx="63.68" cy="290.31" r="0.65"/><circle cx="63.35" cy="289.54" r="0.65"/><circle cx="63.41" cy="288.78" r="0.65"/><circle cx="63.71" cy="288.02" r="0.65"/><circle cx="63.23" cy="287.25" r="0.65"/><circle cx="63.89" cy="286.49" r="0.65"/><circle cx="63.32" cy="285.72" r="0.65"/><circle cx="63.74" cy="284.96" r="0.65"/><circle cx="63.51" cy="284.19" r="0.65"/><circle cx="63.49" cy="283.43" r="0.65"/><circle cx="63.86" cy="282.66" r="0.65"/><circle cx="63.80" cy="281.90" r="0.65"/><circle cx="63.77" cy="281.13" r="0.65"/><circle cx="63.84" cy="280.37" r="0.65"/><circle cx="63.99" cy="279.60" r="0.65"/><circle cx="63.66" cy="278.84" r="0.65"/><circle cx="63.73" cy="278.07" r="0.65"/><circle cx="64.20" cy="277.31" r="0.65"/><circle cx="64.24" cy="276.54" r="0.65"/><circle cx="64.16" cy="275.78" r="0.65"/><circle cx="64.52" cy="275.01" r="0.65"/><circle cx="64.31" cy="274.25" r="0.65"/><circle cx="64.59" cy="273.48" r="0.65"/><circle cx="64.00" cy="272.77" r="0.65"/><circle cx="64.54" cy="272.12" r="0.65"/><circle cx="64.64" cy="271.46" r="0.65"/><circle cx="64.77" cy="270.81" r="0.65"/><circle cx="64.22" cy="270.15" r="0.65"/><circle cx="64.25" cy="269.50" r="0.65"/><circle cx="64.89" cy="268.84" r="0.65"/><circle cx="64.22" cy="268.19" r="0.65"/><circle cx="65.04" cy="267.53" r="0.65"/><circle cx="64.96" cy="266.88" r="0.65"/><circle cx="64.24" cy="266.23" r="0.65"/><circle cx="64.38" cy="265.57" r="0.65"/><circle cx="64.90" cy="264.92" r="0.65"/><circle cx="64.47" cy="264.26" r="0.65"/><circle cx="64.34" cy="263.61" r="0.65"/><circle cx="65.11" cy="262.95" r="0.65"/><circle cx="64.73" cy="262.30" r="0.65"/><circle cx="65.13" cy="261.64" r="0.65"/><circle cx="64.50" cy="260.99" r="0.65"/><circle cx="64.81" cy="260.33" r="0.65"/><circle cx="65.13" cy="259.68" r="0.65"/><circle cx="64.49" cy="259.02" r="0.65"/><circle cx="64.71" cy="258.37" r="0.65"/><circle cx="65.23" cy="257.71" r="0.65"/><circle cx="65.49" cy="257.06" r="0.65"/><circle cx="65.58" cy="256.40" r="0.65"/><circle cx="64.76" cy="255.75" r="0.65"/><circle cx="65.18" cy="255.09" r="0.65"/><circle cx="65.47" cy="254.44" r="0.65"/><circle cx="65.25" cy="253.78" r="0.65"/><circle cx="65.47" cy="253.13" r="0.65"/><circle cx="65.00" cy="252.47" r="0.65"/><circle cx="64.92" cy="251.82" r="0.65"/><circle cx="64.99" cy="251.17" r="0.65"/><circle cx="64.95" cy="250.24" r="0.65"/><circle cx="65.50" cy="249.29" r="0.65"/><circle cx="65.50" cy="248.34" r="0.65"/><circle cx="65.58" cy="247.38" r="0.65"/><circle cx="65.20" cy="246.43" r="0.65"/><circle cx="65.27" cy="245.48" r="0.65"/></g>
<g fill="#e5484e" fill-opacity="0.55"><circle cx="69.64" cy="293.96" r="0.65"/><circle cx="70.35" cy="291.88" r="0.65"/><circle cx="70.57" cy="289.93" r="0.65"/><circle cx="70.57" cy="289.25" r="0.65"/><circle cx="69.81" cy="288.57" r="0.65"/><circle cx="69.85" cy="287.88" r="0.65"/><circle cx="70.81" cy="287.20" r="0.65"/><circle cx="70.39" cy="286.52" r="0.65"/><circle cx="70.76" cy="285.84" r="0.65"/><circle cx="70.39" cy="285.15" r="0.65"/><circle cx="70.60" cy="284.47" r="0.65"/><circle cx="70.72" cy="283.79" r="0.65"/><circle cx="70.71" cy="283.11" r="0.65"/><circle cx="70.95" cy="282.42" r="0.65"/><circle cx="70.43" cy="281.74" r="0.65"/><circle cx="71.19" cy="280.50" r="0.65"/><circle cx="71.40" cy="278.69" r="0.65"/><circle cx="70.81" cy="276.88" r="0.65"/><circle cx="71.15" cy="275.07" r="0.65"/><circle cx="71.50" cy="273.26" r="0.65"/><circle cx="71.24" cy="271.45" r="0.65"/><circle cx="71.10" cy="269.64" r="0.65"/><circle cx="71.14" cy="267.83" r="0.65"/><circle cx="71.56" cy="266.02" r="0.65"/><circle cx="71.13" cy="264.21" r="0.65"/><circle cx="72.08" cy="262.40" r="0.65"/><circle cx="72.06" cy="260.59" r="0.65"/><circle cx="72.03" cy="258.78" r="0.65"/><circle cx="72.26" cy="257.25" r="0.65"/><circle cx="72.09" cy="255.75" r="0.65"/></g>
<g fill="#e5484e" fill-opacity="0.55"><circle cx="76.82" cy="299.41" r="0.65"/><circle cx="77.06" cy="298.23" r="0.65"/><circle cx="77.00" cy="297.05" r="0.65"/><circle cx="77.51" cy="295.88" r="0.65"/><circle cx="77.37" cy="294.70" r="0.65"/><circle cx="76.86" cy="293.52" r="0.65"/><circle cx="77.55" cy="292.76" r="0.65"/><circle cx="77.42" cy="292.05" r="0.65"/><circle cx="77.49" cy="291.34" r="0.65"/><circle cx="77.57" cy="290.63" r="0.65"/><circle cx="77.20" cy="289.92" r="0.65"/><circle cx="77.72" cy="289.21" r="0.65"/><circle cx="77.74" cy="288.49" r="0.65"/><circle cx="77.60" cy="287.78" r="0.65"/><circle cx="77.71" cy="287.07" r="0.65"/><circle cx="77.74" cy="286.36" r="0.65"/><circle cx="77.42" cy="285.65" r="0.65"/><circle cx="77.77" cy="284.94" r="0.65"/><circle cx="77.16" cy="284.23" r="0.65"/><circle cx="77.47" cy="283.52" r="0.65"/><circle cx="77.63" cy="282.81" r="0.65"/><circle cx="77.21" cy="282.10" r="0.65"/><circle cx="77.59" cy="281.39" r="0.65"/><circle cx="77.91" cy="280.68" r="0.65"/><circle cx="77.93" cy="279.96" r="0.65"/><circle cx="77.58" cy="279.25" r="0.65"/><circle cx="78.33" cy="278.54" r="0.65"/><circle cx="78.09" cy="277.83" r="0.65"/><circle cx="77.80" cy="277.12" r="0.65"/><circle cx="78.16" cy="276.41" r="0.65"/><circle cx="78.10" cy="275.70" r="0.65"/><circle cx="78.10" cy="274.99" r="0.65"/><circle cx="78.00" cy="274.28" r="0.65"/><circle cx="78.64" cy="273.57" r="0.65"/><circle cx="78.32" cy="272.86" r="0.65"/><circle cx="78.42" cy="272.14" r="0.65"/><circle cx="78.52" cy="271.43" r="0.65"/><circle cx="78.77" cy="270.72" r="0.65"/><circle cx="77.85" cy="270.01" r="0.65"/><circle cx="78.48" cy="269.30" r="0.65"/><circle cx="78.64" cy="268.59" r="0.65"/><circle cx="78.20" cy="267.88" r="0.65"/><circle cx="78.38" cy="267.17" r="0.65"/><circle cx="78.07" cy="266.46" r="0.65"/><circle cx="78.25" cy="265.75" r="0.65"/><circle cx="78.47" cy="265.04" r="0.65"/><circle cx="78.23" cy="264.32" r="0.65"/><circle cx="78.42" cy="263.61" r="0.65"/><circle cx="79.11" cy="262.90" r="0.65"/><circle cx="78.79" cy="262.19" r="0.65"/><circle cx="78.78" cy="261.48" r="0.65"/><circle cx="79.28" cy="260.77" r="0.65"/><circle cx="78.92" cy="260.06" r="0.65"/><circle cx="79.38" cy="259.35" r="0.65"/><circle cx="79.06" cy="258.64" r="0.65"/><circle cx="79.27" cy="257.93" r="0.65"/><circle cx="78.57" cy="257.22" r="0.65"/><circle cx="79.13" cy="256.51" r="0.65"/><circle cx="79.33" cy="255.79" r="0.65"/><circle cx="78.66" cy="255.08" r="0.65"/><circle cx="79.58" cy="254.37" r="0.65"/><circle cx="78.84" cy="253.66" r="0.65"/><circle cx="79.19" cy="252.95" r="0.65"/><circle cx="78.93" cy="252.24" r="0.65"/><circle cx="79.29" cy="251.48" r="0.65"/><circle cx="79.44" cy="250.30" r="0.65"/><circle cx="78.93" cy="249.12" r="0.65"/><circle cx="79.85" cy="247.95" r="0.65"/><circle cx="79.36" cy="246.77" r="0.65"/><circle cx="79.51" cy="245.59" r="0.65"/></g>
<g fill="#e5484e" fill-opacity="0.55"><circle cx="83.92" cy="284.11" r="0.65"/><circle cx="83.72" cy="282.32" r="0.65"/><circle cx="83.68" cy="280.54" r="0.65"/><circle cx="84.09" cy="278.75" r="0.65"/><circle cx="84.03" cy="276.96" r="0.65"/><circle cx="83.80" cy="275.18" r="0.65"/><circle cx="84.27" cy="274.55" r="0.65"/><circle cx="83.89" cy="274.04" r="0.65"/><circle cx="83.64" cy="273.54" r="0.65"/><circle cx="83.91" cy="273.04" r="0.65"/><circle cx="83.75" cy="272.53" r="0.65"/><circle cx="83.90" cy="272.03" r="0.65"/><circle cx="84.54" cy="271.53" r="0.65"/><circle cx="84.21" cy="271.02" r="0.65"/><circle cx="84.76" cy="270.52" r="0.65"/><circle cx="84.65" cy="270.02" r="0.65"/><circle cx="83.99" cy="269.51" r="0.65"/><circle cx="84.96" cy="269.01" r="0.65"/><circle cx="84.96" cy="268.51" r="0.65"/><circle cx="84.13" cy="268.00" r="0.65"/><circle cx="85.00" cy="267.50" r="0.65"/><circle cx="84.56" cy="267.00" r="0.65"/><circle cx="84.65" cy="266.49" r="0.65"/><circle cx="85.18" cy="265.99" r="0.65"/><circle cx="84.49" cy="265.49" r="0.65"/><circle cx="84.81" cy="264.98" r="0.65"/><circle cx="85.26" cy="264.48" r="0.65"/><circle cx="85.08" cy="263.98" r="0.65"/><circle cx="84.87" cy="263.47" r="0.65"/><circle cx="85.42" cy="262.97" r="0.65"/><circle cx="85.29" cy="262.47" r="0.65"/><circle cx="85.12" cy="261.96" r="0.65"/><circle cx="84.67" cy="261.46" r="0.65"/><circle cx="85.22" cy="260.96" r="0.65"/><circle cx="85.09" cy="260.45" r="0.65"/><circle cx="84.87" cy="259.94" r="0.65"/><circle cx="84.76" cy="259.43" r="0.65"/><circle cx="85.27" cy="258.92" r="0.65"/><circle cx="84.91" cy="258.41" r="0.65"/><circle cx="85.27" cy="257.90" r="0.65"/><circle cx="85.53" cy="257.39" r="0.65"/><circle cx="85.36" cy="256.88" r="0.65"/><circle cx="85.20" cy="256.37" r="0.65"/><circle cx="85.56" cy="255.86" r="0.65"/><circle cx="85.44" cy="255.35" r="0.65"/><circle cx="85.83" cy="254.84" r="0.65"/><circle cx="85.62" cy="254.33" r="0.65"/><circle cx="86.13" cy="253.82" r="0.65"/><circle cx="86.12" cy="253.31" r="0.65"/><circle cx="85.94" cy="252.80" r="0.65"/><circle cx="85.49" cy="252.29" r="0.65"/><circle cx="85.40" cy="251.78" r="0.65"/><circle cx="86.22" cy="251.27" r="0.65"/><circle cx="86.15" cy="250.76" r="0.65"/><circle cx="86.03" cy="250.25" r="0.65"/><circle cx="85.80" cy="249.74" r="0.65"/><circle cx="85.75" cy="249.23" r="0.65"/><circle cx="86.20" cy="248.72" r="0.65"/><circle cx="86.12" cy="248.21" r="0.65"/><circle cx="86.19" cy="247.70" r="0.65"/><circle cx="86.27" cy="247.19" r="0.65"/><circle cx="86.43" cy="246.68" r="0.65"/><circle cx="85.90" cy="246.17" r="0.65"/><circle cx="86.00" cy="245.66" r="0.65"/><circle cx="86.77" cy="245.11" r="0.65"/><circle cx="86.74" cy="244.18" r="0.65"/><circle cx="86.74" cy="243.25" r="0.65"/><circle cx="85.94" cy="242.32" r="0.65"/><circle cx="86.00" cy="241.39" r="0.65"/><circle cx="86.25" cy="240.46" r="0.65"/></g>
<g fill="#e5484e" fill-opacity="0.55"><circle cx="90.74" cy="311.68" r="0.65"/><circle cx="90.97" cy="311.04" r="0.65"/><circle cx="90.48" cy="310.40" r="0.65"/><circle cx="90.95" cy="309.76" r="0.65"/><circle cx="90.51" cy="309.12" r="0.65"/><circle cx="90.55" cy="308.49" r="0.65"/><circle cx="91.17" cy="307.85" r="0.65"/><circle cx="91.08" cy="307.16" r="0.65"/><circle cx="91.19" cy="306.35" r="0.65"/><circle cx="90.96" cy="305.54" r="0.65"/><circle cx="91.09" cy="304.73" r="0.65"/><circle cx="90.86" cy="303.92" r="0.65"/><circle cx="91.02" cy="303.11" r="0.65"/><circle cx="91.45" cy="302.30" r="0.65"/><circle cx="91.57" cy="301.49" r="0.65"/><circle cx="90.84" cy="300.68" r="0.65"/><circle cx="90.91" cy="299.87" r="0.65"/><circle cx="91.63" cy="299.06" r="0.65"/><circle cx="91.48" cy="298.25" r="0.65"/><circle cx="91.65" cy="297.44" r="0.65"/><circle cx="91.13" cy="296.63" r="0.65"/><circle cx="91.37" cy="295.82" r="0.65"/><circle cx="91.23" cy="295.01" r="0.65"/><circle cx="91.81" cy="294.20" r="0.65"/><circle cx="91.40" cy="293.40" r="0.65"/><circle cx="91.72" cy="292.59" r="0.65"/><circle cx="92.08" cy="291.78" r="0.65"/><circle cx="91.45" cy="290.97" r="0.65"/><circle cx="91.70" cy="290.16" r="0.65"/><circle cx="91.93" cy="289.35" r="0.65"/><circle cx="92.14" cy="288.54" r="0.65"/><circle cx="91.67" cy="287.73" r="0.65"/><circle cx="91.64" cy="286.92" r="0.65"/><circle cx="91.40" cy="286.11" r="0.65"/><circle cx="92.21" cy="285.30" r="0.65"/><circle cx="91.44" cy="284.49" r="0.65"/><circle cx="91.48" cy="283.68" r="0.65"/><circle cx="91.99" cy="282.87" r="0.65"/><circle cx="91.94" cy="282.06" r="0.65"/><circle cx="92.17" cy="281.25" r="0.65"/><circle cx="91.81" cy="280.44" r="0.65"/><circle cx="92.32" cy="279.63" r="0.65"/><circle cx="91.65" cy="278.82" r="0.65"/><circle cx="91.82" cy="278.01" r="0.65"/><circle cx="92.30" cy="277.20" r="0.65"/><circle cx="91.75" cy="276.43" r="0.65"/><circle cx="92.00" cy="275.70" r="0.65"/><circle cx="92.45" cy="274.96" r="0.65"/><circle cx="92.45" cy="274.23" r="0.65"/><circle cx="92.07" cy="273.49" r="0.65"/><circle cx="91.96" cy="272.76" r="0.65"/><circle cx="92.20" cy="272.02" r="0.65"/><circle cx="92.60" cy="271.28" r="0.65"/><circle cx="92.27" cy="270.55" r="0.65"/><circle cx="92.05" cy="269.81" r="0.65"/><circle cx="92.67" cy="269.08" r="0.65"/><circle cx="92.56" cy="268.34" r="0.65"/><circle cx="92.94" cy="267.61" r="0.65"/><circle cx="92.99" cy="266.87" r="0.65"/><circle cx="93.00" cy="266.14" r="0.65"/><circle cx="92.55" cy="265.40" r="0.65"/><circle cx="92.95" cy="264.67" r="0.65"/><circle cx="92.48" cy="263.93" r="0.65"/><circle cx="92.52" cy="263.19" r="0.65"/><circle cx="92.63" cy="262.46" r="0.65"/><circle cx="93.20" cy="261.72" r="0.65"/><circle cx="93.19" cy="260.99" r="0.65"/><circle cx="92.57" cy="260.25" r="0.65"/><circle cx="92.72" cy="259.52" r="0.65"/><circle cx="92.75" cy="258.78" r="0.65"/><circle cx="92.78" cy="258.05" r="0.65"/><circle cx="92.84" cy="257.31" r="0.65"/><circle cx="92.86" cy="256.58" r="0.65"/><circle cx="92.70" cy="255.84" r="0.65"/><circle cx="93.10" cy="255.10" r="0.65"/><circle cx="93.36" cy="254.37" r="0.65"/><circle cx="93.14" cy="253.63" r="0.65"/><circle cx="93.46" cy="252.90" r="0.65"/><circle cx="93.22" cy="252.16" r="0.65"/><circle cx="92.86" cy="251.43" r="0.65"/><circle cx="93.47" cy="250.69" r="0.65"/><circle cx="93.63" cy="249.96" r="0.65"/><circle cx="93.06" cy="249.22" r="0.65"/><circle cx="92.83" cy="248.61" r="0.65"/><circle cx="93.35" cy="248.06" r="0.65"/><circle cx="93.41" cy="247.50" r="0.65"/><circle cx="93.46" cy="246.94" r="0.65"/><circle cx="93.89" cy="246.39" r="0.65"/><circle cx="93.61" cy="245.83" r="0.65"/><circle cx="93.79" cy="245.28" r="0.65"/></g>
<g fill="#e5484e" fill-opacity="0.55"><circle cx="98.40" cy="298.21" r="0.65"/><circle cx="98.94" cy="294.64" r="0.65"/><circle cx="99.25" cy="291.07" r="0.65"/><circle cx="98.60" cy="289.45" r="0.65"/><circle cx="98.66" cy="288.66" r="0.65"/><circle cx="99.38" cy="287.87" r="0.65"/><circle cx="99.61" cy="287.08" r="0.65"/><circle cx="98.86" cy="286.29" r="0.65"/><circle cx="99.47" cy="285.50" r="0.65"/><circle cx="99.04" cy="284.71" r="0.65"/><circle cx="99.71" cy="283.92" r="0.65"/><circle cx="99.67" cy="283.13" r="0.65"/><circle cx="99.33" cy="282.35" r="0.65"/><circle cx="99.37" cy="281.56" r="0.65"/><circle cx="99.98" cy="280.77" r="0.65"/><circle cx="99.80" cy="279.98" r="0.65"/><circle cx="100.10" cy="279.19" r="0.65"/><circle cx="99.79" cy="278.40" r="0.65"/><circle cx="99.80" cy="276.94" r="0.65"/><circle cx="100.49" cy="275.49" r="0.65"/><circle cx="100.26" cy="274.03" r="0.65"/><circle cx="100.15" cy="272.58" r="0.65"/><circle cx="100.25" cy="271.12" r="0.65"/><circle cx="100.50" cy="269.67" r="0.65"/><circle cx="100.55" cy="268.21" r="0.65"/><circle cx="100.82" cy="266.75" r="0.65"/><circle cx="100.38" cy="265.30" r="0.65"/><circle cx="100.85" cy="263.84" r="0.65"/><circle cx="100.76" cy="262.39" r="0.65"/><circle cx="101.01" cy="260.93" r="0.65"/><circle cx="101.02" cy="259.47" r="0.65"/><circle cx="101.11" cy="258.02" r="0.65"/><circle cx="101.23" cy="256.25" r="0.65"/><circle cx="101.36" cy="253.75" r="0.65"/><circle cx="101.11" cy="251.25" r="0.65"/></g>
<g fill="#e5484e" fill-opacity="0.55"><circle cx="105.14" cy="304.65" r="0.65"/><circle cx="105.36" cy="303.94" r="0.65"/><circle cx="105.48" cy="303.24" r="0.65"/><circle cx="105.13" cy="302.53" r="0.65"/><circle cx="105.16" cy="301.83" r="0.65"/><circle cx="104.91" cy="301.12" r="0.65"/><circle cx="105.54" cy="300.42" r="0.65"/><circle cx="105.82" cy="299.72" r="0.65"/><circle cx="105.23" cy="299.01" r="0.65"/><circle cx="105.05" cy="298.17" r="0.65"/><circle cx="105.12" cy="297.27" r="0.65"/><circle cx="105.37" cy="296.37" r="0.65"/><circle cx="105.27" cy="295.48" r="0.65"/><circle cx="105.97" cy="294.58" r="0.65"/><circle cx="105.09" cy="293.68" r="0.65"/><circle cx="105.37" cy="292.78" r="0.65"/><circle cx="105.21" cy="291.88" r="0.65"/><circle cx="105.77" cy="290.99" r="0.65"/><circle cx="105.93" cy="290.09" r="0.65"/><circle cx="105.36" cy="289.19" r="0.65"/><circle cx="105.28" cy="288.29" r="0.65"/><circle cx="105.70" cy="287.39" r="0.65"/><circle cx="105.86" cy="286.49" r="0.65"/><circle cx="106.21" cy="285.60" r="0.65"/><circle cx="105.37" cy="284.70" r="0.65"/><circle cx="105.47" cy="283.80" r="0.65"/><circle cx="105.58" cy="282.90" r="0.65"/><circle cx="105.64" cy="282.00" r="0.65"/><circle cx="105.69" cy="281.10" r="0.65"/><circle cx="106.20" cy="280.21" r="0.65"/><circle cx="106.11" cy="279.31" r="0.65"/><circle cx="105.77" cy="278.41" r="0.65"/><circle cx="105.76" cy="277.51" r="0.65"/><circle cx="105.89" cy="276.61" r="0.65"/><circle cx="105.81" cy="275.71" r="0.65"/><circle cx="106.42" cy="274.82" r="0.65"/><circle cx="106.01" cy="273.92" r="0.65"/><circle cx="106.27" cy="273.02" r="0.65"/><circle cx="106.57" cy="272.12" r="0.65"/><circle cx="106.26" cy="271.22" r="0.65"/><circle cx="106.08" cy="270.32" r="0.65"/><circle cx="106.73" cy="269.43" r="0.65"/><circle cx="106.79" cy="268.53" r="0.65"/><circle cx="106.25" cy="267.63" r="0.65"/><circle cx="106.48" cy="266.73" r="0.65"/><circle cx="106.92" cy="265.83" r="0.65"/><circle cx="106.48" cy="264.94" r="0.65"/><circle cx="106.25" cy="264.04" r="0.65"/><circle cx="106.10" cy="263.14" r="0.65"/><circle cx="107.03" cy="262.24" r="0.65"/><circle cx="106.92" cy="261.34" r="0.65"/><circle cx="106.53" cy="260.44" r="0.65"/><circle cx="106.70" cy="259.55" r="0.65"/><circle cx="106.72" cy="258.65" r="0.65"/><circle cx="106.51" cy="257.75" r="0.65"/><circle cx="107.26" cy="256.98" r="0.65"/><circle cx="106.95" cy="256.35" r="0.65"/><circle cx="106.56" cy="255.71" r="0.65"/><circle cx="106.37" cy="255.08" r="0.65"/><circle cx="106.86" cy="254.45" r="0.65"/><circle cx="106.79" cy="253.81" r="0.65"/><circle cx="107.24" cy="253.18" r="0.65"/><circle cx="107.19" cy="252.54" r="0.65"/><circle cx="107.11" cy="251.91" r="0.65"/><circle cx="106.69" cy="251.28" r="0.65"/><circle cx="106.72" cy="250.64" r="0.65"/><circle cx="106.92" cy="250.01" r="0.65"/><circle cx="106.88" cy="249.37" r="0.65"/><circle cx="107.52" cy="248.74" r="0.65"/><circle cx="107.20" cy="248.10" r="0.65"/><circle cx="107.35" cy="247.47" r="0.65"/><circle cx="107.74" cy="246.84" r="0.65"/><circle cx="107.04" cy="246.20" r="0.65"/><circle cx="107.34" cy="245.57" r="0.65"/><circle cx="106.99" cy="244.93" r="0.65"/><circle cx="107.64" cy="244.30" r="0.65"/><circle cx="106.90" cy="243.66" r="0.65"/><circle cx="107.75" cy="243.03" r="0.65"/><circle cx="107.80" cy="242.40" r="0.65"/><circle cx="107.81" cy="241.76" r="0.65"/><circle cx="107.10" cy="241.13" r="0.65"/><circle cx="107.31" cy="240.49" r="0.65"/><circle cx="107.79" cy="239.86" r="0.65"/><circle cx="107.20" cy="239.23" r="0.65"/><circle cx="107.62" cy="238.59" r="0.65"/><circle cx="107.63" cy="237.96" r="0.65"/><circle cx="108.15" cy="237.32" r="0.65"/><circle cx="107.81" cy="236.69" r="0.65"/><circle cx="108.11" cy="236.05" r="0.65"/><circle cx="107.59" cy="235.42" r="0.65"/><circle cx="108.10" cy="234.79" r="0.65"/><circle cx="107.76" cy="234.15" r="0.65"/><circle cx="108.29" cy="233.52" r="0.65"/><circle cx="107.50" cy="232.88" r="0.65"/><circle cx="108.26" cy="232.25" r="0.65"/><circle cx="107.67" cy="231.61" r="0.65"/><circle cx="108.04" cy="230.98" r="0.65"/><circle cx="108.05" cy="230.35" r="0.65"/><circle cx="107.71" cy="229.71" r="0.65"/><circle cx="108.42" cy="229.08" r="0.65"/><circle cx="107.93" cy="228.44" r="0.65"/><circle cx="107.96" cy="227.74" r="0.65"/><circle cx="107.75" cy="226.89" r="0.65"/><circle cx="108.01" cy="226.04" r="0.65"/><circle cx="108.20" cy="225.19" r="0.65"/><circle cx="108.48" cy="224.34" r="0.65"/><circle cx="108.15" cy="223.48" r="0.65"/><circle cx="108.51" cy="222.63" r="0.65"/><circle cx="107.96" cy="221.78" r="0.65"/><circle cx="108.28" cy="220.93" r="0.65"/></g>
<g fill="#e5484e" fill-opacity="0.55"><circle cx="112.68" cy="311.18" r="0.65"/><circle cx="113.23" cy="310.13" r="0.65"/><circle cx="113.13" cy="309.08" r="0.65"/><circle cx="112.99" cy="308.04" r="0.65"/><circle cx="112.39" cy="306.99" r="0.65"/><circle cx="112.80" cy="305.94" r="0.65"/><circle cx="113.17" cy="304.94" r="0.65"/><circle cx="112.74" cy="304.29" r="0.65"/><circle cx="113.10" cy="303.64" r="0.65"/><circle cx="113.04" cy="303.00" r="0.65"/><circle cx="112.63" cy="302.35" r="0.65"/><circle cx="113.65" cy="301.71" r="0.65"/><circle cx="113.50" cy="301.06" r="0.65"/><circle cx="112.95" cy="300.41" r="0.65"/><circle cx="113.40" cy="299.77" r="0.65"/><circle cx="113.11" cy="299.12" r="0.65"/><circle cx="113.24" cy="298.48" r="0.65"/><circle cx="113.44" cy="297.83" r="0.65"/><circle cx="113.24" cy="297.19" r="0.65"/><circle cx="113.32" cy="296.54" r="0.65"/><circle cx="113.41" cy="295.89" r="0.65"/><circle cx="113.73" cy="295.25" r="0.65"/><circle cx="113.36" cy="294.60" r="0.65"/><circle cx="113.34" cy="293.96" r="0.65"/><circle cx="113.91" cy="293.31" r="0.65"/><circle cx="113.55" cy="292.66" r="0.65"/><circle cx="114.21" cy="292.02" r="0.65"/><circle cx="113.86" cy="291.37" r="0.65"/><circle cx="114.06" cy="290.73" r="0.65"/><circle cx="113.71" cy="290.08" r="0.65"/><circle cx="114.25" cy="289.44" r="0.65"/><circle cx="113.55" cy="288.79" r="0.65"/><circle cx="113.64" cy="288.14" r="0.65"/><circle cx="113.63" cy="287.50" r="0.65"/><circle cx="114.26" cy="286.85" r="0.65"/><circle cx="114.33" cy="286.21" r="0.65"/><circle cx="113.84" cy="285.56" r="0.65"/><circle cx="114.10" cy="284.91" r="0.65"/><circle cx="114.58" cy="284.27" r="0.65"/><circle cx="114.37" cy="283.62" r="0.65"/><circle cx="113.91" cy="282.95" r="0.65"/><circle cx="114.09" cy="282.25" r="0.65"/><circle cx="114.06" cy="281.54" r="0.65"/><circle cx="114.06" cy="280.84" r="0.65"/><circle cx="114.39" cy="280.14" r="0.65"/><circle cx="114.09" cy="279.44" r="0.65"/><circle cx="114.98" cy="278.73" r="0.65"/><circle cx="114.53" cy="278.03" r="0.65"/><circle cx="114.65" cy="277.33" r="0.65"/><circle cx="114.83" cy="276.63" r="0.65"/><circle cx="114.99" cy="275.93" r="0.65"/><circle cx="115.08" cy="275.22" r="0.65"/><circle cx="114.69" cy="274.52" r="0.65"/><circle cx="114.67" cy="273.82" r="0.65"/><circle cx="114.79" cy="273.12" r="0.65"/><circle cx="114.44" cy="272.41" r="0.65"/><circle cx="114.86" cy="271.71" r="0.65"/><circle cx="115.20" cy="271.01" r="0.65"/><circle cx="115.52" cy="270.31" r="0.65"/><circle cx="115.37" cy="269.60" r="0.65"/><circle cx="115.28" cy="268.90" r="0.65"/><circle cx="115.27" cy="268.20" r="0.65"/><circle cx="114.72" cy="267.50" r="0.65"/><circle cx="115.07" cy="266.79" r="0.65"/><circle cx="115.12" cy="266.09" r="0.65"/><circle cx="115.47" cy="265.39" r="0.65"/><circle cx="114.97" cy="264.69" r="0.65"/><circle cx="115.28" cy="263.98" r="0.65"/><circle cx="115.45" cy="263.28" r="0.65"/><circle cx="115.77" cy="262.58" r="0.65"/><circle cx="115.85" cy="261.88" r="0.65"/><circle cx="115.67" cy="261.18" r="0.65"/><circle cx="115.26" cy="260.47" r="0.65"/><circle cx="115.91" cy="259.77" r="0.65"/><circle cx="116.08" cy="258.18" r="0.65"/><circle cx="115.77" cy="256.49" r="0.65"/><circle cx="115.61" cy="254.81" r="0.65"/><circle cx="115.80" cy="253.12" r="0.65"/><circle cx="115.48" cy="251.43" r="0.65"/><circle cx="116.09" cy="249.74" r="0.65"/></g>
<g fill="#e5484e" fill-opacity="0.55"><circle cx="120.01" cy="297.72" r="0.65"/><circle cx="119.58" cy="295.57" r="0.65"/><circle cx="119.82" cy="293.41" r="0.65"/><circle cx="119.98" cy="291.25" r="0.65"/><circle cx="119.38" cy="289.10" r="0.65"/><circle cx="120.17" cy="286.94" r="0.65"/><circle cx="119.90" cy="284.94" r="0.65"/><circle cx="119.51" cy="284.32" r="0.65"/><circle cx="119.43" cy="283.71" r="0.65"/><circle cx="119.64" cy="283.09" r="0.65"/><circle cx="120.01" cy="282.47" r="0.65"/><circle cx="120.17" cy="281.86" r="0.65"/><circle cx="119.84" cy="281.24" r="0.65"/><circle cx="120.49" cy="280.63" r="0.65"/><circle cx="119.96" cy="280.01" r="0.65"/><circle cx="120.10" cy="279.39" r="0.65"/><circle cx="119.80" cy="278.78" r="0.65"/><circle cx="120.70" cy="278.16" r="0.65"/><circle cx="119.90" cy="277.55" r="0.65"/><circle cx="120.71" cy="276.93" r="0.65"/><circle cx="120.39" cy="276.31" r="0.65"/><circle cx="120.45" cy="275.70" r="0.65"/><circle cx="120.49" cy="275.08" r="0.65"/><circle cx="120.23" cy="274.47" r="0.65"/><circle cx="120.92" cy="273.85" r="0.65"/><circle cx="121.04" cy="273.23" r="0.65"/><circle cx="120.91" cy="272.62" r="0.65"/><circle cx="120.74" cy="272.00" r="0.65"/><circle cx="120.30" cy="271.38" r="0.65"/><circle cx="121.04" cy="270.77" r="0.65"/><circle cx="120.55" cy="270.15" r="0.65"/><circle cx="121.20" cy="269.54" r="0.65"/><circle cx="120.58" cy="268.92" r="0.65"/><circle cx="120.96" cy="268.30" r="0.65"/><circle cx="121.25" cy="267.69" r="0.65"/><circle cx="120.65" cy="267.07" r="0.65"/><circle cx="121.05" cy="266.46" r="0.65"/><circle cx="120.62" cy="265.84" r="0.65"/><circle cx="120.62" cy="265.22" r="0.65"/><circle cx="120.81" cy="264.61" r="0.65"/><circle cx="121.66" cy="264.02" r="0.65"/><circle cx="121.65" cy="263.47" r="0.65"/><circle cx="121.41" cy="262.92" r="0.65"/><circle cx="121.10" cy="262.36" r="0.65"/><circle cx="121.51" cy="261.81" r="0.65"/><circle cx="121.61" cy="261.26" r="0.65"/><circle cx="121.30" cy="260.70" r="0.65"/><circle cx="121.55" cy="260.15" r="0.65"/><circle cx="121.80" cy="259.59" r="0.65"/><circle cx="121.06" cy="259.04" r="0.65"/><circle cx="121.28" cy="258.49" r="0.65"/><circle cx="121.59" cy="257.93" r="0.65"/><circle cx="121.31" cy="257.38" r="0.65"/><circle cx="121.59" cy="256.83" r="0.65"/><circle cx="121.82" cy="256.27" r="0.65"/><circle cx="121.46" cy="255.72" r="0.65"/><circle cx="121.85" cy="255.17" r="0.65"/><circle cx="121.64" cy="254.61" r="0.65"/><circle cx="121.98" cy="254.06" r="0.65"/><circle cx="121.79" cy="253.51" r="0.65"/><circle cx="122.14" cy="252.95" r="0.65"/><circle cx="121.57" cy="252.40" r="0.65"/><circle cx="122.25" cy="251.84" r="0.65"/><circle cx="121.76" cy="251.29" r="0.65"/><circle cx="122.62" cy="250.74" r="0.65"/><circle cx="122.30" cy="250.18" r="0.65"/><circle cx="122.21" cy="249.63" r="0.65"/><circle cx="122.20" cy="249.08" r="0.65"/><circle cx="122.45" cy="248.52" r="0.65"/><circle cx="122.56" cy="247.97" r="0.65"/><circle cx="122.67" cy="247.42" r="0.65"/><circle cx="122.70" cy="246.86" r="0.65"/><circle cx="122.48" cy="246.31" r="0.65"/><circle cx="123.03" cy="245.76" r="0.65"/><circle cx="122.91" cy="241.52" r="0.65"/><circle cx="122.97" cy="236.88" r="0.65"/><circle cx="122.56" cy="232.24" r="0.65"/><circle cx="122.63" cy="227.60" r="0.65"/><circle cx="122.80" cy="222.96" r="0.65"/><circle cx="123.18" cy="218.32" r="0.65"/></g>
<g fill="#e5484e" fill-opacity="0.55"><circle cx="126.05" cy="297.68" r="0.65"/><circle cx="126.09" cy="297.04" r="0.65"/><circle cx="126.04" cy="296.40" r="0.65"/><circle cx="126.55" cy="295.76" r="0.65"/><circle cx="126.01" cy="295.12" r="0.65"/><circle cx="125.79" cy="294.49" r="0.65"/><circle cx="126.50" cy="293.85" r="0.65"/><circle cx="126.72" cy="293.19" r="0.65"/><circle cx="126.59" cy="292.50" r="0.65"/><circle cx="126.50" cy="291.81" r="0.65"/><circle cx="126.70" cy="291.11" r="0.65"/><circle cx="126.29" cy="290.42" r="0.65"/><circle cx="126.62" cy="289.73" r="0.65"/><circle cx="126.14" cy="289.03" r="0.65"/><circle cx="126.24" cy="288.34" r="0.65"/><circle cx="126.60" cy="287.65" r="0.65"/><circle cx="126.70" cy="286.95" r="0.65"/><circle cx="126.64" cy="286.26" r="0.65"/><circle cx="126.33" cy="285.57" r="0.65"/><circle cx="127.02" cy="284.87" r="0.65"/><circle cx="126.89" cy="284.18" r="0.65"/><circle cx="126.65" cy="283.49" r="0.65"/><circle cx="126.76" cy="282.80" r="0.65"/><circle cx="126.89" cy="282.10" r="0.65"/><circle cx="126.77" cy="281.41" r="0.65"/><circle cx="126.65" cy="280.72" r="0.65"/><circle cx="127.53" cy="280.02" r="0.65"/><circle cx="127.63" cy="279.33" r="0.65"/><circle cx="127.37" cy="278.64" r="0.65"/><circle cx="127.61" cy="277.94" r="0.65"/><circle cx="127.21" cy="277.25" r="0.65"/><circle cx="127.64" cy="276.56" r="0.65"/><circle cx="127.09" cy="275.86" r="0.65"/><circle cx="127.66" cy="275.17" r="0.65"/><circle cx="127.52" cy="274.48" r="0.65"/><circle cx="127.90" cy="273.78" r="0.65"/><circle cx="127.14" cy="273.09" r="0.65"/><circle cx="127.88" cy="272.40" r="0.65"/><circle cx="127.25" cy="271.71" r="0.65"/><circle cx="127.71" cy="271.01" r="0.65"/><circle cx="128.16" cy="270.32" r="0.65"/><circle cx="127.25" cy="269.63" r="0.65"/><circle cx="127.54" cy="268.93" r="0.65"/><circle cx="127.64" cy="268.24" r="0.65"/><circle cx="127.70" cy="267.55" r="0.65"/><circle cx="127.48" cy="266.92" r="0.65"/><circle cx="128.36" cy="266.35" r="0.65"/><circle cx="128.32" cy="265.78" r="0.65"/><circle cx="127.95" cy="265.21" r="0.65"/><circle cx="127.95" cy="264.64" r="0.65"/><circle cx="128.22" cy="264.07" r="0.65"/><circle cx="127.72" cy="263.50" r="0.65"/><circle cx="127.75" cy="262.93" r="0.65"/><circle cx="128.66" cy="262.37" r="0.65"/><circle cx="128.11" cy="261.80" r="0.65"/><circle cx="128.34" cy="261.23" r="0.65"/><circle cx="128.82" cy="260.66" r="0.65"/><circle cx="128.91" cy="260.09" r="0.65"/><circle cx="128.44" cy="259.52" r="0.65"/><circle cx="128.22" cy="258.95" r="0.65"/><circle cx="128.35" cy="258.38" r="0.65"/><circle cx="129.02" cy="257.82" r="0.65"/><circle cx="129.04" cy="257.25" r="0.65"/><circle cx="128.38" cy="256.68" r="0.65"/><circle cx="129.06" cy="256.11" r="0.65"/><circle cx="128.62" cy="255.54" r="0.65"/><circle cx="128.78" cy="254.97" r="0.65"/><circle cx="128.52" cy="254.40" r="0.65"/><circle cx="129.27" cy="253.83" r="0.65"/><circle cx="129.43" cy="253.26" r="0.65"/><circle cx="128.68" cy="252.70" r="0.65"/><circle cx="129.15" cy="252.13" r="0.65"/><circle cx="128.75" cy="251.56" r="0.65"/><circle cx="129.48" cy="250.99" r="0.65"/><circle cx="128.70" cy="250.42" r="0.65"/><circle cx="128.79" cy="249.85" r="0.65"/><circle cx="129.46" cy="249.28" r="0.65"/><circle cx="129.09" cy="248.71" r="0.65"/><circle cx="129.71" cy="248.15" r="0.65"/><circle cx="129.73" cy="247.58" r="0.65"/><circle cx="129.61" cy="247.01" r="0.65"/><circle cx="129.08" cy="246.44" r="0.65"/><circle cx="129.68" cy="245.87" r="0.65"/><circle cx="129.96" cy="244.76" r="0.65"/><circle cx="129.51" cy="243.41" r="0.65"/><circle cx="129.19" cy="242.06" r="0.65"/><circle cx="129.38" cy="240.72" r="0.65"/><circle cx="129.50" cy="239.37" r="0.65"/><circle cx="129.95" cy="238.02" r="0.65"/><circle cx="129.48" cy="236.67" r="0.65"/></g>
<g fill="#e5484e" fill-opacity="0.55"><circle cx="133.30" cy="317.53" r="0.65"/><circle cx="133.40" cy="316.59" r="0.65"/><circle cx="133.86" cy="315.66" r="0.65"/><circle cx="134.03" cy="314.72" r="0.65"/><circle cx="133.65" cy="313.78" r="0.65"/><circle cx="133.98" cy="312.84" r="0.65"/><circle cx="134.24" cy="311.93" r="0.65"/><circle cx="133.99" cy="311.21" r="0.65"/><circle cx="133.67" cy="310.49" r="0.65"/><circle cx="133.78" cy="309.78" r="0.65"/><circle cx="134.45" cy="309.06" r="0.65"/><circle cx="134.23" cy="308.34" r="0.65"/><circle cx="133.88" cy="307.62" r="0.65"/><circle cx="134.28" cy="306.91" r="0.65"/><circle cx="133.77" cy="306.19" r="0.65"/><circle cx="134.70" cy="305.47" r="0.65"/><circle cx="134.20" cy="304.76" r="0.65"/><circle cx="134.33" cy="304.04" r="0.65"/><circle cx="134.37" cy="303.32" r="0.65"/><circle cx="133.93" cy="302.60" r="0.65"/><circle cx="134.52" cy="301.89" r="0.65"/><circle cx="134.24" cy="301.17" r="0.65"/><circle cx="134.25" cy="300.45" r="0.65"/><circle cx="134.84" cy="299.73" r="0.65"/><circle cx="134.17" cy="299.02" r="0.65"/><circle cx="134.41" cy="298.30" r="0.65"/><circle cx="134.92" cy="297.58" r="0.65"/><circle cx="134.45" cy="296.87" r="0.65"/><circle cx="134.52" cy="296.15" r="0.65"/><circle cx="134.83" cy="295.43" r="0.65"/><circle cx="134.51" cy="294.71" r="0.65"/><circle cx="135.26" cy="294.00" r="0.65"/><circle cx="135.39" cy="293.28" r="0.65"/><circle cx="134.47" cy="292.56" r="0.65"/><circle cx="134.94" cy="291.84" r="0.65"/><circle cx="135.27" cy="291.13" r="0.65"/><circle cx="134.94" cy="290.41" r="0.65"/><circle cx="135.53" cy="289.69" r="0.65"/><circle cx="135.14" cy="288.98" r="0.65"/><circle cx="134.86" cy="288.26" r="0.65"/><circle cx="135.28" cy="287.51" r="0.65"/><circle cx="135.40" cy="286.73" r="0.65"/><circle cx="135.16" cy="285.96" r="0.65"/><circle cx="135.50" cy="285.18" r="0.65"/><circle cx="135.66" cy="284.40" r="0.65"/><circle cx="135.44" cy="283.63" r="0.65"/><circle cx="135.47" cy="282.85" r="0.65"/><circle cx="135.85" cy="282.07" r="0.65"/><circle cx="135.72" cy="281.30" r="0.65"/><circle cx="135.60" cy="280.52" r="0.65"/><circle cx="136.07" cy="279.74" r="0.65"/><circle cx="135.33" cy="278.97" r="0.65"/><circle cx="135.98" cy="278.19" r="0.65"/><circle cx="135.41" cy="277.41" r="0.65"/><circle cx="135.89" cy="276.64" r="0.65"/><circle cx="135.56" cy="275.86" r="0.65"/><circle cx="135.80" cy="275.08" r="0.65"/><circle cx="136.17" cy="274.31" r="0.65"/><circle cx="136.23" cy="273.53" r="0.65"/><circle cx="136.27" cy="272.75" r="0.65"/><circle cx="135.76" cy="271.98" r="0.65"/><circle cx="136.05" cy="271.20" r="0.65"/><circle cx="135.82" cy="270.42" r="0.65"/><circle cx="136.22" cy="269.65" r="0.65"/><circle cx="136.18" cy="268.87" r="0.65"/><circle cx="135.76" cy="268.09" r="0.65"/><circle cx="136.36" cy="267.32" r="0.65"/><circle cx="136.51" cy="266.54" r="0.65"/><circle cx="136.41" cy="265.76" r="0.65"/><circle cx="136.75" cy="264.98" r="0.65"/><circle cx="136.10" cy="264.21" r="0.65"/><circle cx="136.11" cy="263.43" r="0.65"/><circle cx="136.02" cy="262.65" r="0.65"/><circle cx="136.54" cy="261.88" r="0.65"/><circle cx="136.51" cy="260.84" r="0.65"/><circle cx="136.56" cy="259.78" r="0.65"/><circle cx="136.42" cy="258.72" r="0.65"/><circle cx="137.00" cy="257.66" r="0.65"/><circle cx="136.31" cy="256.59" r="0.65"/><circle cx="137.19" cy="255.53" r="0.65"/></g>
<g fill="#e5484e" fill-opacity="0.55"><circle cx="140.59" cy="304.61" r="0.65"/><circle cx="140.60" cy="303.84" r="0.65"/><circle cx="140.89" cy="303.06" r="0.65"/><circle cx="140.37" cy="302.29" r="0.65"/><circle cx="140.32" cy="301.51" r="0.65"/><circle cx="140.52" cy="300.74" r="0.65"/><circle cx="140.29" cy="299.96" r="0.65"/><circle cx="140.60" cy="299.19" r="0.65"/><circle cx="140.94" cy="298.52" r="0.65"/><circle cx="140.89" cy="297.96" r="0.65"/><circle cx="140.66" cy="297.41" r="0.65"/><circle cx="141.03" cy="296.85" r="0.65"/><circle cx="140.56" cy="296.29" r="0.65"/><circle cx="141.33" cy="295.74" r="0.65"/><circle cx="140.72" cy="295.18" r="0.65"/><circle cx="140.84" cy="294.62" r="0.65"/><circle cx="140.79" cy="294.06" r="0.65"/><circle cx="141.36" cy="293.51" r="0.65"/><circle cx="141.53" cy="292.95" r="0.65"/><circle cx="141.53" cy="292.39" r="0.65"/><circle cx="140.84" cy="291.84" r="0.65"/><circle cx="141.23" cy="291.28" r="0.65"/><circle cx="141.22" cy="290.72" r="0.65"/><circle cx="141.11" cy="290.16" r="0.65"/><circle cx="141.90" cy="289.61" r="0.65"/><circle cx="141.01" cy="289.05" r="0.65"/><circle cx="141.50" cy="288.49" r="0.65"/><circle cx="141.81" cy="287.94" r="0.65"/><circle cx="142.07" cy="287.38" r="0.65"/><circle cx="141.27" cy="286.82" r="0.65"/><circle cx="141.61" cy="286.26" r="0.65"/><circle cx="141.94" cy="285.71" r="0.65"/><circle cx="141.27" cy="285.15" r="0.65"/><circle cx="141.51" cy="284.59" r="0.65"/><circle cx="142.20" cy="284.04" r="0.65"/><circle cx="141.49" cy="283.48" r="0.65"/><circle cx="141.78" cy="282.92" r="0.65"/><circle cx="141.72" cy="282.36" r="0.65"/><circle cx="141.89" cy="281.81" r="0.65"/><circle cx="141.58" cy="281.25" r="0.65"/><circle cx="141.57" cy="280.69" r="0.65"/><circle cx="142.57" cy="280.14" r="0.65"/><circle cx="142.38" cy="279.58" r="0.65"/><circle cx="142.39" cy="279.02" r="0.65"/><circle cx="141.92" cy="278.46" r="0.65"/><circle cx="141.98" cy="277.91" r="0.65"/><circle cx="142.32" cy="277.35" r="0.65"/><circle cx="142.05" cy="276.79" r="0.65"/><circle cx="142.30" cy="276.24" r="0.65"/><circle cx="142.81" cy="275.68" r="0.65"/><circle cx="142.28" cy="275.07" r="0.65"/><circle cx="142.29" cy="274.42" r="0.65"/><circle cx="142.98" cy="273.76" r="0.65"/><circle cx="142.64" cy="273.11" r="0.65"/><circle cx="142.11" cy="272.45" r="0.65"/><circle cx="142.51" cy="271.80" r="0.65"/><circle cx="142.80" cy="271.14" r="0.65"/><circle cx="142.24" cy="270.49" r="0.65"/><circle cx="142.57" cy="269.83" r="0.65"/><circle cx="142.96" cy="269.18" r="0.65"/><circle cx="143.16" cy="268.52" r="0.65"/><circle cx="142.93" cy="267.87" r="0.65"/><circle cx="143.26" cy="267.22" r="0.65"/><circle cx="142.88" cy="266.56" r="0.65"/><circle cx="142.84" cy="265.91" r="0.65"/><circle cx="143.33" cy="265.25" r="0.65"/><circle cx="142.91" cy="264.60" r="0.65"/><circle cx="143.35" cy="263.94" r="0.65"/><circle cx="142.82" cy="263.29" r="0.65"/><circle cx="142.99" cy="262.63" r="0.65"/><circle cx="142.86" cy="261.98" r="0.65"/><circle cx="143.27" cy="261.32" r="0.65"/><circle cx="142.92" cy="260.67" r="0.65"/><circle cx="143.00" cy="260.01" r="0.65"/><circle cx="143.05" cy="259.36" r="0.65"/><circle cx="143.34" cy="258.70" r="0.65"/><circle cx="143.22" cy="258.05" r="0.65"/><circle cx="143.39" cy="257.39" r="0.65"/><circle cx="143.98" cy="256.74" r="0.65"/><circle cx="143.70" cy="256.08" r="0.65"/><circle cx="143.92" cy="255.43" r="0.65"/><circle cx="143.30" cy="254.78" r="0.65"/><circle cx="143.52" cy="254.12" r="0.65"/><circle cx="143.25" cy="253.47" r="0.65"/><circle cx="143.90" cy="252.81" r="0.65"/><circle cx="143.61" cy="252.16" r="0.65"/><circle cx="143.56" cy="251.50" r="0.65"/><circle cx="143.34" cy="250.85" r="0.65"/><circle cx="143.55" cy="250.19" r="0.65"/><circle cx="143.66" cy="249.54" r="0.65"/><circle cx="143.83" cy="248.88" r="0.65"/><circle cx="144.40" cy="248.23" r="0.65"/><circle cx="144.23" cy="247.09" r="0.65"/><circle cx="143.82" cy="245.48" r="0.65"/><circle cx="143.95" cy="243.87" r="0.65"/><circle cx="143.78" cy="242.26" r="0.65"/><circle cx="144.60" cy="240.64" r="0.65"/><circle cx="144.06" cy="239.03" r="0.65"/><circle cx="144.51" cy="237.42" r="0.65"/><circle cx="144.50" cy="235.81" r="0.65"/></g>
<g fill="#e5484e" fill-opacity="0.55"><circle cx="147.93" cy="304.51" r="0.65"/><circle cx="147.08" cy="303.54" r="0.65"/><circle cx="147.43" cy="302.57" r="0.65"/><circle cx="147.53" cy="301.60" r="0.65"/><circle cx="147.27" cy="300.62" r="0.65"/><circle cx="148.11" cy="299.65" r="0.65"/><circle cx="147.60" cy="298.68" r="0.65"/><circle cx="148.09" cy="297.83" r="0.65"/><circle cx="147.88" cy="297.26" r="0.65"/><circle cx="147.46" cy="296.69" r="0.65"/><circle cx="147.84" cy="296.12" r="0.65"/><circle cx="147.72" cy="295.55" r="0.65"/><circle cx="147.57" cy="294.99" r="0.65"/><circle cx="147.72" cy="294.42" r="0.65"/><circle cx="148.21" cy="293.85" r="0.65"/><circle cx="147.69" cy="293.28" r="0.65"/><circle cx="148.01" cy="292.71" r="0.65"/><circle cx="148.16" cy="292.14" r="0.65"/><circle cx="148.33" cy="291.57" r="0.65"/><circle cx="147.96" cy="291.00" r="0.65"/><circle cx="148.57" cy="290.44" r="0.65"/><circle cx="148.17" cy="289.87" r="0.65"/><circle cx="148.68" cy="289.30" r="0.65"/><circle cx="148.66" cy="288.73" r="0.65"/><circle cx="148.18" cy="288.16" r="0.65"/><circle cx="148.28" cy="287.59" r="0.65"/><circle cx="148.40" cy="287.02" r="0.65"/><circle cx="148.87" cy="286.45" r="0.65"/><circle cx="148.61" cy="285.88" r="0.65"/><circle cx="148.63" cy="285.32" r="0.65"/><circle cx="149.15" cy="284.75" r="0.65"/><circle cx="148.56" cy="284.18" r="0.65"/><circle cx="148.66" cy="283.61" r="0.65"/><circle cx="148.76" cy="283.04" r="0.65"/><circle cx="148.67" cy="282.47" r="0.65"/><circle cx="148.54" cy="281.90" r="0.65"/><circle cx="148.57" cy="281.33" r="0.65"/><circle cx="149.21" cy="280.77" r="0.65"/><circle cx="149.19" cy="280.20" r="0.65"/><circle cx="149.48" cy="279.63" r="0.65"/><circle cx="149.69" cy="279.06" r="0.65"/><circle cx="149.05" cy="278.49" r="0.65"/><circle cx="149.46" cy="277.92" r="0.65"/><circle cx="149.76" cy="277.35" r="0.65"/><circle cx="149.10" cy="276.78" r="0.65"/><circle cx="149.61" cy="276.19" r="0.65"/><circle cx="149.63" cy="275.58" r="0.65"/><circle cx="149.96" cy="274.96" r="0.65"/><circle cx="149.92" cy="274.34" r="0.65"/><circle cx="149.32" cy="273.73" r="0.65"/><circle cx="149.76" cy="273.11" r="0.65"/><circle cx="149.26" cy="272.49" r="0.65"/><circle cx="149.64" cy="271.88" r="0.65"/><circle cx="149.65" cy="271.26" r="0.65"/><circle cx="149.36" cy="270.64" r="0.65"/><circle cx="149.73" cy="270.03" r="0.65"/><circle cx="149.71" cy="269.41" r="0.65"/><circle cx="149.92" cy="268.79" r="0.65"/><circle cx="149.75" cy="268.18" r="0.65"/><circle cx="149.67" cy="267.56" r="0.65"/><circle cx="149.96" cy="266.95" r="0.65"/><circle cx="150.07" cy="266.33" r="0.65"/><circle cx="149.81" cy="265.71" r="0.65"/><circle cx="150.35" cy="265.10" r="0.65"/><circle cx="149.96" cy="264.48" r="0.65"/><circle cx="149.86" cy="263.86" r="0.65"/><circle cx="150.15" cy="263.25" r="0.65"/><circle cx="150.27" cy="262.63" r="0.65"/><circle cx="150.04" cy="262.01" r="0.65"/><circle cx="150.52" cy="261.40" r="0.65"/><circle cx="150.68" cy="260.78" r="0.65"/><circle cx="150.57" cy="260.17" r="0.65"/><circle cx="150.76" cy="259.55" r="0.65"/><circle cx="150.13" cy="258.93" r="0.65"/><circle cx="150.54" cy="258.32" r="0.65"/><circle cx="150.55" cy="257.70" r="0.65"/><circle cx="150.29" cy="257.08" r="0.65"/><circle cx="150.68" cy="256.47" r="0.65"/><circle cx="150.37" cy="255.85" r="0.65"/><circle cx="150.85" cy="255.23" r="0.65"/><circle cx="150.98" cy="254.62" r="0.65"/><circle cx="150.91" cy="254.00" r="0.65"/><circle cx="150.81" cy="253.38" r="0.65"/><circle cx="150.78" cy="252.47" r="0.65"/><circle cx="150.59" cy="251.43" r="0.65"/><circle cx="150.96" cy="250.39" r="0.65"/><circle cx="151.54" cy="249.35" r="0.65"/><circle cx="151.26" cy="248.30" r="0.65"/><circle cx="151.00" cy="247.26" r="0.65"/><circle cx="151.45" cy="246.22" r="0.65"/></g>
<g fill="#e5484e" fill-opacity="0.55"><circle cx="154.24" cy="290.54" r="0.65"/><circle cx="154.62" cy="287.62" r="0.65"/><circle cx="154.87" cy="284.91" r="0.65"/><circle cx="155.32" cy="283.98" r="0.65"/><circle cx="154.83" cy="283.05" r="0.65"/><circle cx="155.14" cy="282.12" r="0.65"/><circle cx="155.61" cy="281.19" r="0.65"/><circle cx="155.55" cy="280.26" r="0.65"/><circle cx="155.51" cy="279.34" r="0.65"/><circle cx="155.60" cy="278.41" r="0.65"/><circle cx="155.50" cy="277.48" r="0.65"/><circle cx="155.60" cy="276.55" r="0.65"/><circle cx="155.57" cy="275.62" r="0.65"/><circle cx="156.22" cy="274.69" r="0.65"/><circle cx="156.38" cy="273.76" r="0.65"/><circle cx="155.98" cy="272.69" r="0.65"/><circle cx="156.61" cy="271.48" r="0.65"/><circle cx="155.85" cy="270.26" r="0.65"/><circle cx="156.05" cy="269.05" r="0.65"/><circle cx="156.52" cy="267.84" r="0.65"/><circle cx="156.43" cy="266.62" r="0.65"/><circle cx="156.58" cy="265.41" r="0.65"/><circle cx="157.30" cy="264.19" r="0.65"/><circle cx="156.58" cy="262.98" r="0.65"/><circle cx="156.72" cy="261.76" r="0.65"/><circle cx="156.86" cy="260.55" r="0.65"/><circle cx="157.42" cy="259.34" r="0.65"/><circle cx="157.08" cy="258.12" r="0.65"/><circle cx="156.95" cy="256.20" r="0.65"/><circle cx="157.59" cy="254.20" r="0.65"/></g>
<g fill="#e5484e" fill-opacity="0.55"><circle cx="158.51" cy="310.16" r="0.65"/><circle cx="158.39" cy="309.29" r="0.65"/><circle cx="158.68" cy="308.41" r="0.65"/><circle cx="158.88" cy="307.54" r="0.65"/><circle cx="158.81" cy="306.66" r="0.65"/><circle cx="158.92" cy="305.79" r="0.65"/><circle cx="158.90" cy="304.94" r="0.65"/><circle cx="159.20" cy="304.34" r="0.65"/><circle cx="159.38" cy="303.74" r="0.65"/><circle cx="158.78" cy="303.15" r="0.65"/><circle cx="158.83" cy="302.55" r="0.65"/><circle cx="159.40" cy="301.95" r="0.65"/><circle cx="158.87" cy="301.35" r="0.65"/><circle cx="159.31" cy="300.75" r="0.65"/><circle cx="159.32" cy="300.15" r="0.65"/><circle cx="159.35" cy="299.56" r="0.65"/><circle cx="159.66" cy="298.96" r="0.65"/><circle cx="159.56" cy="298.36" r="0.65"/><circle cx="158.93" cy="297.76" r="0.65"/><circle cx="159.43" cy="297.16" r="0.65"/><circle cx="159.33" cy="296.57" r="0.65"/><circle cx="159.44" cy="295.97" r="0.65"/><circle cx="159.29" cy="295.37" r="0.65"/><circle cx="159.24" cy="294.77" r="0.65"/><circle cx="159.74" cy="294.17" r="0.65"/><circle cx="159.56" cy="293.57" r="0.65"/><circle cx="159.30" cy="292.98" r="0.65"/><circle cx="159.35" cy="292.38" r="0.65"/><circle cx="159.46" cy="291.78" r="0.65"/><circle cx="159.35" cy="291.18" r="0.65"/><circle cx="159.72" cy="290.58" r="0.65"/><circle cx="159.37" cy="289.98" r="0.65"/><circle cx="159.34" cy="289.39" r="0.65"/><circle cx="159.38" cy="288.79" r="0.65"/><circle cx="159.45" cy="288.19" r="0.65"/><circle cx="160.09" cy="287.59" r="0.65"/><circle cx="159.54" cy="286.99" r="0.65"/><circle cx="159.91" cy="286.40" r="0.65"/><circle cx="160.27" cy="285.80" r="0.65"/><circle cx="160.01" cy="285.20" r="0.65"/><circle cx="159.73" cy="284.50" r="0.65"/><circle cx="160.47" cy="283.70" r="0.65"/><circle cx="160.51" cy="282.90" r="0.65"/><circle cx="159.73" cy="282.10" r="0.65"/><circle cx="159.97" cy="281.30" r="0.65"/><circle cx="160.26" cy="280.50" r="0.65"/><circle cx="160.58" cy="279.70" r="0.65"/><circle cx="160.21" cy="278.90" r="0.65"/><circle cx="160.57" cy="278.09" r="0.65"/><circle cx="160.15" cy="277.29" r="0.65"/><circle cx="160.65" cy="276.49" r="0.65"/><circle cx="160.29" cy="275.69" r="0.65"/><circle cx="160.34" cy="274.89" r="0.65"/><circle cx="160.80" cy="274.09" r="0.65"/><circle cx="160.92" cy="273.29" r="0.65"/><circle cx="160.94" cy="272.49" r="0.65"/><circle cx="160.72" cy="271.69" r="0.65"/><circle cx="160.60" cy="270.89" r="0.65"/><circle cx="160.93" cy="270.09" r="0.65"/><circle cx="160.88" cy="269.29" r="0.65"/><circle cx="161.12" cy="268.49" r="0.65"/><circle cx="161.13" cy="267.69" r="0.65"/><circle cx="160.49" cy="266.89" r="0.65"/><circle cx="160.78" cy="266.09" r="0.65"/><circle cx="161.11" cy="265.29" r="0.65"/><circle cx="160.71" cy="264.48" r="0.65"/><circle cx="160.70" cy="263.68" r="0.65"/><circle cx="160.56" cy="262.88" r="0.65"/><circle cx="161.17" cy="262.08" r="0.65"/><circle cx="161.56" cy="261.28" r="0.65"/><circle cx="161.63" cy="260.48" r="0.65"/><circle cx="160.83" cy="259.68" r="0.65"/><circle cx="161.42" cy="258.88" r="0.65"/><circle cx="161.18" cy="258.08" r="0.65"/><circle cx="161.43" cy="257.03" r="0.65"/><circle cx="161.23" cy="255.95" r="0.65"/><circle cx="161.81" cy="254.87" r="0.65"/><circle cx="161.90" cy="253.80" r="0.65"/><circle cx="160.99" cy="252.72" r="0.65"/><circle cx="161.70" cy="251.64" r="0.65"/></g>
<g fill="#e5484e" fill-opacity="0.55"><circle cx="165.04" cy="299.88" r="0.65"/><circle cx="165.01" cy="299.62" r="0.65"/><circle cx="165.29" cy="299.38" r="0.65"/><circle cx="165.78" cy="299.12" r="0.65"/><circle cx="166.09" cy="298.88" r="0.65"/><circle cx="165.26" cy="298.21" r="0.65"/><circle cx="165.51" cy="297.36" r="0.65"/><circle cx="165.25" cy="296.51" r="0.65"/><circle cx="165.81" cy="295.66" r="0.65"/><circle cx="165.79" cy="294.81" r="0.65"/><circle cx="165.73" cy="293.96" r="0.65"/><circle cx="165.71" cy="293.11" r="0.65"/><circle cx="166.24" cy="292.26" r="0.65"/><circle cx="166.32" cy="291.41" r="0.65"/><circle cx="165.81" cy="290.56" r="0.65"/><circle cx="165.96" cy="289.71" r="0.65"/><circle cx="166.23" cy="288.86" r="0.65"/><circle cx="166.42" cy="288.02" r="0.65"/><circle cx="166.68" cy="287.17" r="0.65"/><circle cx="166.13" cy="286.32" r="0.65"/><circle cx="166.48" cy="285.47" r="0.65"/><circle cx="166.38" cy="284.62" r="0.65"/><circle cx="166.68" cy="283.77" r="0.65"/><circle cx="166.07" cy="282.92" r="0.65"/><circle cx="166.14" cy="282.07" r="0.65"/><circle cx="166.11" cy="281.22" r="0.65"/><circle cx="166.98" cy="280.37" r="0.65"/><circle cx="166.34" cy="279.52" r="0.65"/><circle cx="166.62" cy="278.67" r="0.65"/><circle cx="166.30" cy="277.82" r="0.65"/><circle cx="166.55" cy="277.02" r="0.65"/><circle cx="166.28" cy="276.25" r="0.65"/><circle cx="166.87" cy="275.48" r="0.65"/><circle cx="166.50" cy="274.71" r="0.65"/><circle cx="167.02" cy="273.94" r="0.65"/><circle cx="166.71" cy="273.17" r="0.65"/><circle cx="166.71" cy="272.40" r="0.65"/><circle cx="167.01" cy="271.63" r="0.65"/><circle cx="166.93" cy="270.86" r="0.65"/><circle cx="166.87" cy="270.09" r="0.65"/><circle cx="166.71" cy="269.32" r="0.65"/><circle cx="166.76" cy="268.55" r="0.65"/><circle cx="167.63" cy="267.78" r="0.65"/><circle cx="167.09" cy="267.01" r="0.65"/><circle cx="166.91" cy="266.24" r="0.65"/><circle cx="167.05" cy="265.47" r="0.65"/><circle cx="167.40" cy="264.70" r="0.65"/><circle cx="167.96" cy="263.93" r="0.65"/><circle cx="167.20" cy="263.16" r="0.65"/><circle cx="167.91" cy="262.39" r="0.65"/><circle cx="167.57" cy="261.62" r="0.65"/><circle cx="167.55" cy="260.85" r="0.65"/><circle cx="167.98" cy="260.08" r="0.65"/><circle cx="167.61" cy="259.31" r="0.65"/><circle cx="167.32" cy="258.54" r="0.65"/><circle cx="167.86" cy="257.74" r="0.65"/><circle cx="168.01" cy="256.86" r="0.65"/><circle cx="168.01" cy="255.99" r="0.65"/><circle cx="167.71" cy="255.11" r="0.65"/><circle cx="168.42" cy="254.24" r="0.65"/></g>
<g fill="#e5484e" fill-opacity="0.55"><circle cx="173.09" cy="299.31" r="0.65"/><circle cx="173.27" cy="297.94" r="0.65"/><circle cx="172.77" cy="296.56" r="0.65"/><circle cx="173.21" cy="295.19" r="0.65"/><circle cx="173.16" cy="293.81" r="0.65"/><circle cx="172.66" cy="292.95" r="0.65"/><circle cx="172.56" cy="292.30" r="0.65"/><circle cx="172.76" cy="291.65" r="0.65"/><circle cx="172.76" cy="291.01" r="0.65"/><circle cx="172.77" cy="290.36" r="0.65"/><circle cx="173.10" cy="289.71" r="0.65"/><circle cx="173.55" cy="289.07" r="0.65"/><circle cx="173.16" cy="288.42" r="0.65"/><circle cx="173.41" cy="287.77" r="0.65"/><circle cx="172.96" cy="287.13" r="0.65"/><circle cx="173.21" cy="286.48" r="0.65"/><circle cx="174.01" cy="285.83" r="0.65"/><circle cx="173.12" cy="285.19" r="0.65"/><circle cx="173.68" cy="284.54" r="0.65"/><circle cx="174.02" cy="283.89" r="0.65"/><circle cx="174.05" cy="283.24" r="0.65"/><circle cx="174.05" cy="282.60" r="0.65"/><circle cx="173.76" cy="281.95" r="0.65"/><circle cx="174.22" cy="281.30" r="0.65"/><circle cx="174.29" cy="280.66" r="0.65"/><circle cx="174.29" cy="280.01" r="0.65"/><circle cx="174.56" cy="279.36" r="0.65"/><circle cx="173.72" cy="278.72" r="0.65"/><circle cx="174.62" cy="278.07" r="0.65"/><circle cx="174.13" cy="277.42" r="0.65"/><circle cx="174.48" cy="276.56" r="0.65"/><circle cx="174.08" cy="275.49" r="0.65"/><circle cx="174.79" cy="274.41" r="0.65"/><circle cx="173.95" cy="273.34" r="0.65"/><circle cx="174.56" cy="272.26" r="0.65"/><circle cx="174.26" cy="271.19" r="0.65"/><circle cx="174.47" cy="270.11" r="0.65"/><circle cx="174.51" cy="269.03" r="0.65"/><circle cx="174.85" cy="267.96" r="0.65"/><circle cx="175.05" cy="266.88" r="0.65"/><circle cx="174.66" cy="265.81" r="0.65"/><circle cx="174.98" cy="264.73" r="0.65"/><circle cx="174.75" cy="263.66" r="0.65"/><circle cx="174.73" cy="262.58" r="0.65"/><circle cx="175.40" cy="261.51" r="0.65"/><circle cx="174.87" cy="260.43" r="0.65"/><circle cx="174.70" cy="259.36" r="0.65"/><circle cx="174.99" cy="258.28" r="0.65"/><circle cx="175.45" cy="257.21" r="0.65"/><circle cx="174.97" cy="256.13" r="0.65"/><circle cx="175.55" cy="255.05" r="0.65"/><circle cx="175.41" cy="253.98" r="0.65"/><circle cx="175.59" cy="252.90" r="0.65"/><circle cx="175.14" cy="251.83" r="0.65"/><circle cx="175.12" cy="250.75" r="0.65"/><circle cx="175.21" cy="249.53" r="0.65"/><circle cx="175.47" cy="247.97" r="0.65"/><circle cx="175.60" cy="246.41" r="0.65"/><circle cx="175.23" cy="244.84" r="0.65"/><circle cx="175.78" cy="243.28" r="0.65"/></g>
<g fill="#e5484e" fill-opacity="0.55"><circle cx="179.42" cy="304.72" r="0.65"/><circle cx="179.38" cy="304.17" r="0.65"/><circle cx="179.63" cy="303.61" r="0.65"/><circle cx="180.09" cy="303.06" r="0.65"/><circle cx="179.38" cy="302.50" r="0.65"/><circle cx="180.09" cy="301.94" r="0.65"/><circle cx="179.57" cy="301.39" r="0.65"/><circle cx="180.05" cy="300.81" r="0.65"/><circle cx="179.44" cy="300.18" r="0.65"/><circle cx="180.36" cy="299.55" r="0.65"/><circle cx="179.84" cy="298.91" r="0.65"/><circle cx="180.41" cy="298.28" r="0.65"/><circle cx="179.71" cy="297.65" r="0.65"/><circle cx="179.93" cy="297.02" r="0.65"/><circle cx="180.27" cy="296.38" r="0.65"/><circle cx="179.78" cy="295.75" r="0.65"/><circle cx="179.92" cy="295.12" r="0.65"/><circle cx="180.36" cy="294.49" r="0.65"/><circle cx="180.67" cy="293.86" r="0.65"/><circle cx="180.08" cy="293.22" r="0.65"/><circle cx="179.98" cy="292.59" r="0.65"/><circle cx="180.19" cy="291.96" r="0.65"/><circle cx="180.86" cy="291.33" r="0.65"/><circle cx="180.06" cy="290.69" r="0.65"/><circle cx="180.59" cy="290.06" r="0.65"/><circle cx="180.37" cy="289.43" r="0.65"/><circle cx="180.67" cy="288.80" r="0.65"/><circle cx="180.28" cy="288.16" r="0.65"/><circle cx="180.72" cy="287.53" r="0.65"/><circle cx="181.03" cy="286.90" r="0.65"/><circle cx="181.04" cy="286.27" r="0.65"/><circle cx="180.85" cy="285.64" r="0.65"/><circle cx="180.77" cy="285.00" r="0.65"/><circle cx="180.87" cy="284.37" r="0.65"/><circle cx="180.46" cy="283.74" r="0.65"/><circle cx="181.22" cy="283.11" r="0.65"/><circle cx="181.11" cy="282.47" r="0.65"/><circle cx="180.91" cy="281.84" r="0.65"/><circle cx="181.16" cy="281.21" r="0.65"/><circle cx="180.96" cy="280.58" r="0.65"/><circle cx="180.96" cy="279.95" r="0.65"/><circle cx="180.84" cy="279.31" r="0.65"/><circle cx="181.25" cy="278.68" r="0.65"/><circle cx="181.26" cy="278.05" r="0.65"/><circle cx="181.25" cy="277.42" r="0.65"/><circle cx="180.80" cy="276.81" r="0.65"/><circle cx="181.44" cy="276.22" r="0.65"/><circle cx="181.29" cy="275.64" r="0.65"/><circle cx="181.48" cy="275.05" r="0.65"/><circle cx="181.52" cy="274.47" r="0.65"/><circle cx="181.90" cy="273.88" r="0.65"/><circle cx="181.15" cy="273.30" r="0.65"/><circle cx="181.51" cy="272.72" r="0.65"/><circle cx="182.07" cy="272.13" r="0.65"/><circle cx="181.86" cy="271.55" r="0.65"/><circle cx="181.47" cy="270.96" r="0.65"/><circle cx="181.93" cy="270.38" r="0.65"/><circle cx="182.23" cy="269.79" r="0.65"/><circle cx="181.68" cy="269.21" r="0.65"/><circle cx="182.18" cy="268.62" r="0.65"/><circle cx="181.48" cy="268.04" r="0.65"/><circle cx="182.38" cy="267.45" r="0.65"/><circle cx="181.92" cy="266.87" r="0.65"/><circle cx="181.70" cy="266.28" r="0.65"/><circle cx="182.35" cy="265.70" r="0.65"/><circle cx="182.20" cy="265.11" r="0.65"/><circle cx="182.52" cy="264.53" r="0.65"/><circle cx="182.45" cy="263.95" r="0.65"/><circle cx="182.46" cy="263.36" r="0.65"/><circle cx="182.21" cy="262.78" r="0.65"/><circle cx="182.74" cy="262.19" r="0.65"/><circle cx="181.85" cy="261.61" r="0.65"/><circle cx="182.69" cy="261.02" r="0.65"/><circle cx="182.57" cy="260.44" r="0.65"/><circle cx="182.15" cy="259.85" r="0.65"/><circle cx="182.74" cy="259.27" r="0.65"/><circle cx="182.43" cy="258.68" r="0.65"/><circle cx="182.55" cy="258.10" r="0.65"/><circle cx="182.92" cy="257.51" r="0.65"/><circle cx="182.29" cy="256.93" r="0.65"/><circle cx="182.41" cy="256.34" r="0.65"/><circle cx="182.81" cy="255.76" r="0.65"/><circle cx="182.28" cy="255.18" r="0.65"/><circle cx="182.80" cy="254.73" r="0.65"/><circle cx="183.07" cy="254.34" r="0.65"/><circle cx="182.82" cy="253.95" r="0.65"/><circle cx="182.61" cy="253.56" r="0.65"/><circle cx="183.20" cy="253.17" r="0.65"/><circle cx="183.30" cy="252.78" r="0.65"/><circle cx="183.25" cy="252.39" r="0.65"/></g>
<g fill="#e5484e" fill-opacity="0.55"><circle cx="186.68" cy="306.57" r="0.65"/><circle cx="187.09" cy="302.72" r="0.65"/><circle cx="187.03" cy="298.86" r="0.65"/><circle cx="186.44" cy="295.01" r="0.65"/><circle cx="186.71" cy="291.16" r="0.65"/><circle cx="186.49" cy="289.51" r="0.65"/><circle cx="186.48" cy="288.82" r="0.65"/><circle cx="186.85" cy="288.12" r="0.65"/><circle cx="187.42" cy="287.43" r="0.65"/><circle cx="187.44" cy="286.74" r="0.65"/><circle cx="186.78" cy="286.04" r="0.65"/><circle cx="186.90" cy="285.35" r="0.65"/><circle cx="187.16" cy="284.65" r="0.65"/><circle cx="187.67" cy="283.96" r="0.65"/><circle cx="187.49" cy="283.26" r="0.65"/><circle cx="187.83" cy="282.57" r="0.65"/><circle cx="187.05" cy="281.88" r="0.65"/><circle cx="188.02" cy="281.18" r="0.65"/><circle cx="187.29" cy="280.49" r="0.65"/><circle cx="187.77" cy="279.79" r="0.65"/><circle cx="188.07" cy="279.10" r="0.65"/><circle cx="187.97" cy="278.40" r="0.65"/><circle cx="187.50" cy="277.71" r="0.65"/><circle cx="188.02" cy="277.01" r="0.65"/><circle cx="187.84" cy="276.32" r="0.65"/><circle cx="187.48" cy="275.62" r="0.65"/><circle cx="187.85" cy="274.93" r="0.65"/><circle cx="187.88" cy="274.24" r="0.65"/><circle cx="188.25" cy="273.54" r="0.65"/><circle cx="187.95" cy="272.85" r="0.65"/><circle cx="188.33" cy="272.21" r="0.65"/><circle cx="188.47" cy="271.64" r="0.65"/><circle cx="188.01" cy="271.06" r="0.65"/><circle cx="188.01" cy="270.49" r="0.65"/><circle cx="188.63" cy="269.91" r="0.65"/><circle cx="188.46" cy="269.34" r="0.65"/><circle cx="188.18" cy="268.76" r="0.65"/><circle cx="188.22" cy="268.18" r="0.65"/><circle cx="189.09" cy="267.61" r="0.65"/><circle cx="188.82" cy="267.03" r="0.65"/><circle cx="188.62" cy="266.46" r="0.65"/><circle cx="188.51" cy="265.88" r="0.65"/><circle cx="189.36" cy="265.31" r="0.65"/><circle cx="189.11" cy="264.73" r="0.65"/><circle cx="189.21" cy="264.16" r="0.65"/><circle cx="188.89" cy="263.58" r="0.65"/><circle cx="188.89" cy="263.01" r="0.65"/><circle cx="189.04" cy="262.43" r="0.65"/><circle cx="188.83" cy="261.86" r="0.65"/><circle cx="189.37" cy="261.28" r="0.65"/><circle cx="189.22" cy="260.70" r="0.65"/><circle cx="189.67" cy="260.13" r="0.65"/><circle cx="189.31" cy="259.55" r="0.65"/><circle cx="189.41" cy="258.98" r="0.65"/><circle cx="189.51" cy="258.40" r="0.65"/><circle cx="190.00" cy="257.57" r="0.65"/><circle cx="189.46" cy="256.13" r="0.65"/><circle cx="189.87" cy="254.69" r="0.65"/><circle cx="189.46" cy="253.26" r="0.65"/><circle cx="189.85" cy="251.82" r="0.65"/></g>
<g fill="#e5484e" fill-opacity="0.55"><circle cx="193.01" cy="299.41" r="0.65"/><circle cx="193.66" cy="298.23" r="0.65"/><circle cx="193.13" cy="297.05" r="0.65"/><circle cx="193.75" cy="295.88" r="0.65"/><circle cx="193.63" cy="294.70" r="0.65"/><circle cx="193.46" cy="293.52" r="0.65"/><circle cx="194.00" cy="292.58" r="0.65"/><circle cx="193.51" cy="291.67" r="0.65"/><circle cx="193.92" cy="290.76" r="0.65"/><circle cx="193.83" cy="289.84" r="0.65"/><circle cx="193.73" cy="288.93" r="0.65"/><circle cx="193.40" cy="288.02" r="0.65"/><circle cx="193.82" cy="287.11" r="0.65"/><circle cx="193.73" cy="286.20" r="0.65"/><circle cx="193.95" cy="285.29" r="0.65"/><circle cx="194.52" cy="284.38" r="0.65"/><circle cx="193.91" cy="283.46" r="0.65"/><circle cx="194.37" cy="282.55" r="0.65"/><circle cx="194.40" cy="281.64" r="0.65"/><circle cx="194.03" cy="280.73" r="0.65"/><circle cx="194.25" cy="279.82" r="0.65"/><circle cx="194.03" cy="278.91" r="0.65"/><circle cx="194.85" cy="277.99" r="0.65"/><circle cx="194.26" cy="277.08" r="0.65"/><circle cx="194.49" cy="276.17" r="0.65"/><circle cx="194.46" cy="275.26" r="0.65"/><circle cx="195.00" cy="274.35" r="0.65"/><circle cx="195.08" cy="273.44" r="0.65"/><circle cx="194.88" cy="272.53" r="0.65"/><circle cx="194.89" cy="271.61" r="0.65"/><circle cx="194.50" cy="270.70" r="0.65"/><circle cx="195.35" cy="269.79" r="0.65"/><circle cx="194.60" cy="268.88" r="0.65"/><circle cx="194.93" cy="267.97" r="0.65"/><circle cx="195.00" cy="267.06" r="0.65"/><circle cx="195.40" cy="266.26" r="0.65"/><circle cx="195.40" cy="265.59" r="0.65"/><circle cx="195.13" cy="264.92" r="0.65"/><circle cx="195.74" cy="264.24" r="0.65"/><circle cx="195.85" cy="263.57" r="0.65"/><circle cx="194.98" cy="262.90" r="0.65"/><circle cx="195.65" cy="262.22" r="0.65"/><circle cx="195.54" cy="261.55" r="0.65"/><circle cx="195.49" cy="260.88" r="0.65"/><circle cx="195.64" cy="260.20" r="0.65"/><circle cx="195.55" cy="259.53" r="0.65"/><circle cx="195.96" cy="258.86" r="0.65"/><circle cx="195.95" cy="258.18" r="0.65"/><circle cx="196.37" cy="257.51" r="0.65"/><circle cx="196.43" cy="256.83" r="0.65"/><circle cx="196.51" cy="256.16" r="0.65"/><circle cx="195.96" cy="255.49" r="0.65"/><circle cx="196.45" cy="254.81" r="0.65"/><circle cx="196.33" cy="254.14" r="0.65"/><circle cx="196.44" cy="253.47" r="0.65"/><circle cx="196.79" cy="252.79" r="0.65"/><circle cx="195.91" cy="252.12" r="0.65"/><circle cx="196.37" cy="251.45" r="0.65"/><circle cx="196.36" cy="250.77" r="0.65"/><circle cx="196.67" cy="250.10" r="0.65"/><circle cx="196.29" cy="249.43" r="0.65"/><circle cx="197.12" cy="248.75" r="0.65"/><circle cx="196.39" cy="248.08" r="0.65"/><circle cx="196.61" cy="247.41" r="0.65"/><circle cx="196.44" cy="246.63" r="0.65"/><circle cx="196.74" cy="244.89" r="0.65"/><circle cx="197.15" cy="243.16" r="0.65"/><circle cx="196.54" cy="241.43" r="0.65"/><circle cx="196.68" cy="239.70" r="0.65"/><circle cx="197.22" cy="237.97" r="0.65"/></g>
<g fill="#e5484e" fill-opacity="0.55"><circle cx="200.64" cy="329.53" r="0.65"/><circle cx="200.80" cy="327.19" r="0.65"/><circle cx="200.35" cy="324.86" r="0.65"/><circle cx="200.94" cy="322.52" r="0.65"/><circle cx="200.90" cy="320.18" r="0.65"/><circle cx="200.99" cy="317.84" r="0.65"/><circle cx="200.37" cy="315.51" r="0.65"/><circle cx="200.75" cy="313.17" r="0.65"/><circle cx="200.34" cy="311.59" r="0.65"/><circle cx="201.22" cy="310.76" r="0.65"/><circle cx="201.34" cy="309.94" r="0.65"/><circle cx="201.33" cy="309.12" r="0.65"/><circle cx="200.50" cy="308.29" r="0.65"/><circle cx="200.86" cy="307.47" r="0.65"/><circle cx="201.09" cy="306.65" r="0.65"/><circle cx="201.12" cy="305.82" r="0.65"/><circle cx="200.74" cy="305.00" r="0.65"/><circle cx="201.45" cy="304.17" r="0.65"/><circle cx="201.00" cy="303.35" r="0.65"/><circle cx="201.25" cy="302.53" r="0.65"/><circle cx="200.90" cy="301.70" r="0.65"/><circle cx="201.38" cy="300.88" r="0.65"/><circle cx="200.98" cy="300.05" r="0.65"/><circle cx="200.98" cy="299.23" r="0.65"/><circle cx="201.44" cy="298.41" r="0.65"/><circle cx="201.26" cy="297.58" r="0.65"/><circle cx="201.78" cy="296.76" r="0.65"/><circle cx="201.29" cy="295.94" r="0.65"/><circle cx="201.50" cy="295.11" r="0.65"/><circle cx="201.18" cy="294.29" r="0.65"/><circle cx="201.38" cy="293.46" r="0.65"/><circle cx="201.65" cy="292.64" r="0.65"/><circle cx="201.79" cy="291.82" r="0.65"/><circle cx="201.73" cy="290.99" r="0.65"/><circle cx="202.16" cy="290.17" r="0.65"/><circle cx="201.45" cy="289.35" r="0.65"/><circle cx="202.24" cy="288.52" r="0.65"/><circle cx="201.58" cy="287.70" r="0.65"/><circle cx="202.43" cy="286.87" r="0.65"/><circle cx="202.03" cy="286.05" r="0.65"/><circle cx="201.95" cy="285.23" r="0.65"/><circle cx="202.19" cy="284.40" r="0.65"/><circle cx="202.48" cy="283.58" r="0.65"/><circle cx="202.62" cy="282.75" r="0.65"/><circle cx="202.10" cy="281.93" r="0.65"/><circle cx="201.74" cy="281.11" r="0.65"/><circle cx="201.92" cy="280.28" r="0.65"/><circle cx="202.62" cy="279.46" r="0.65"/><circle cx="202.58" cy="278.64" r="0.65"/><circle cx="202.59" cy="277.81" r="0.65"/><circle cx="202.08" cy="277.13" r="0.65"/><circle cx="202.49" cy="276.60" r="0.65"/><circle cx="202.02" cy="276.07" r="0.65"/><circle cx="202.14" cy="275.53" r="0.65"/><circle cx="202.37" cy="275.00" r="0.65"/><circle cx="203.08" cy="274.47" r="0.65"/><circle cx="202.79" cy="273.93" r="0.65"/><circle cx="203.03" cy="273.40" r="0.65"/><circle cx="202.27" cy="272.87" r="0.65"/><circle cx="202.68" cy="272.33" r="0.65"/><circle cx="202.38" cy="271.80" r="0.65"/><circle cx="202.60" cy="271.27" r="0.65"/><circle cx="202.49" cy="270.73" r="0.65"/><circle cx="203.33" cy="270.20" r="0.65"/><circle cx="202.78" cy="269.67" r="0.65"/><circle cx="202.98" cy="269.13" r="0.65"/><circle cx="203.18" cy="268.60" r="0.65"/><circle cx="203.45" cy="268.07" r="0.65"/><circle cx="203.55" cy="267.53" r="0.65"/><circle cx="203.21" cy="267.00" r="0.65"/><circle cx="203.18" cy="266.47" r="0.65"/><circle cx="203.62" cy="265.93" r="0.65"/><circle cx="203.15" cy="265.40" r="0.65"/><circle cx="203.09" cy="264.87" r="0.65"/><circle cx="203.57" cy="264.33" r="0.65"/><circle cx="203.13" cy="263.80" r="0.65"/><circle cx="203.27" cy="263.27" r="0.65"/><circle cx="203.37" cy="262.73" r="0.65"/><circle cx="203.46" cy="262.20" r="0.65"/><circle cx="203.38" cy="261.67" r="0.65"/><circle cx="203.49" cy="261.13" r="0.65"/><circle cx="203.55" cy="260.60" r="0.65"/><circle cx="203.18" cy="260.07" r="0.65"/><circle cx="204.01" cy="259.53" r="0.65"/><circle cx="203.27" cy="259.00" r="0.65"/><circle cx="203.78" cy="258.47" r="0.65"/><circle cx="203.83" cy="257.93" r="0.65"/><circle cx="203.72" cy="257.40" r="0.65"/><circle cx="203.59" cy="256.87" r="0.65"/><circle cx="203.50" cy="256.33" r="0.65"/><circle cx="203.81" cy="255.80" r="0.65"/><circle cx="203.79" cy="255.27" r="0.65"/><circle cx="204.00" cy="254.76" r="0.65"/><circle cx="203.78" cy="254.27" r="0.65"/><circle cx="204.34" cy="253.78" r="0.65"/><circle cx="204.12" cy="253.29" r="0.65"/><circle cx="203.68" cy="252.81" r="0.65"/><circle cx="204.11" cy="252.32" r="0.65"/><circle cx="204.71" cy="251.83" r="0.65"/><circle cx="203.79" cy="251.34" r="0.65"/></g>
<g fill="#e5484e" fill-opacity="0.55"><circle cx="207.61" cy="304.57" r="0.65"/><circle cx="208.02" cy="303.71" r="0.65"/><circle cx="207.47" cy="302.85" r="0.65"/><circle cx="207.74" cy="301.99" r="0.65"/><circle cx="207.55" cy="301.12" r="0.65"/><circle cx="207.53" cy="300.26" r="0.65"/><circle cx="207.88" cy="299.40" r="0.65"/><circle cx="207.90" cy="298.61" r="0.65"/><circle cx="207.66" cy="297.96" r="0.65"/><circle cx="207.89" cy="297.32" r="0.65"/><circle cx="207.95" cy="296.67" r="0.65"/><circle cx="208.23" cy="296.02" r="0.65"/><circle cx="207.57" cy="295.38" r="0.65"/><circle cx="207.65" cy="294.73" r="0.65"/><circle cx="207.85" cy="294.09" r="0.65"/><circle cx="207.91" cy="293.44" r="0.65"/><circle cx="208.47" cy="292.80" r="0.65"/><circle cx="208.14" cy="292.15" r="0.65"/><circle cx="208.62" cy="291.51" r="0.65"/><circle cx="208.20" cy="290.86" r="0.65"/><circle cx="208.13" cy="290.21" r="0.65"/><circle cx="208.56" cy="289.57" r="0.65"/><circle cx="208.01" cy="288.92" r="0.65"/><circle cx="208.95" cy="288.28" r="0.65"/><circle cx="208.84" cy="287.63" r="0.65"/><circle cx="208.38" cy="286.99" r="0.65"/><circle cx="208.41" cy="286.34" r="0.65"/><circle cx="208.95" cy="285.70" r="0.65"/><circle cx="208.96" cy="285.05" r="0.65"/><circle cx="208.86" cy="284.41" r="0.65"/><circle cx="208.31" cy="283.76" r="0.65"/><circle cx="209.06" cy="283.11" r="0.65"/><circle cx="208.38" cy="282.47" r="0.65"/><circle cx="209.00" cy="281.82" r="0.65"/><circle cx="208.97" cy="281.18" r="0.65"/><circle cx="209.39" cy="280.53" r="0.65"/><circle cx="209.14" cy="279.89" r="0.65"/><circle cx="208.56" cy="279.24" r="0.65"/><circle cx="209.52" cy="278.60" r="0.65"/><circle cx="209.38" cy="277.95" r="0.65"/><circle cx="209.24" cy="277.30" r="0.65"/><circle cx="208.71" cy="276.66" r="0.65"/><circle cx="209.48" cy="276.01" r="0.65"/><circle cx="209.21" cy="275.37" r="0.65"/><circle cx="209.51" cy="274.72" r="0.65"/><circle cx="209.85" cy="274.05" r="0.65"/><circle cx="209.83" cy="273.35" r="0.65"/><circle cx="209.03" cy="272.65" r="0.65"/><circle cx="209.78" cy="271.96" r="0.65"/><circle cx="209.48" cy="271.26" r="0.65"/><circle cx="209.83" cy="270.56" r="0.65"/><circle cx="209.50" cy="269.86" r="0.65"/><circle cx="209.61" cy="269.16" r="0.65"/><circle cx="209.64" cy="268.46" r="0.65"/><circle cx="209.36" cy="267.77" r="0.65"/><circle cx="209.60" cy="267.07" r="0.65"/><circle cx="210.06" cy="266.37" r="0.65"/><circle cx="209.44" cy="265.67" r="0.65"/><circle cx="209.52" cy="264.97" r="0.65"/><circle cx="210.28" cy="264.27" r="0.65"/><circle cx="210.15" cy="263.57" r="0.65"/><circle cx="210.08" cy="262.88" r="0.65"/><circle cx="209.68" cy="262.18" r="0.65"/><circle cx="209.73" cy="261.48" r="0.65"/><circle cx="209.96" cy="260.78" r="0.65"/><circle cx="210.65" cy="260.08" r="0.65"/><circle cx="210.29" cy="259.38" r="0.65"/><circle cx="210.70" cy="258.69" r="0.65"/><circle cx="210.03" cy="257.99" r="0.65"/><circle cx="210.27" cy="257.29" r="0.65"/><circle cx="210.43" cy="256.59" r="0.65"/><circle cx="210.78" cy="255.89" r="0.65"/><circle cx="210.10" cy="255.19" r="0.65"/><circle cx="210.90" cy="254.50" r="0.65"/><circle cx="210.54" cy="253.80" r="0.65"/><circle cx="210.14" cy="253.10" r="0.65"/><circle cx="210.58" cy="252.40" r="0.65"/><circle cx="210.56" cy="251.70" r="0.65"/><circle cx="210.90" cy="251.00" r="0.65"/><circle cx="211.20" cy="250.30" r="0.65"/><circle cx="210.80" cy="249.61" r="0.65"/><circle cx="211.04" cy="248.91" r="0.65"/><circle cx="210.78" cy="248.21" r="0.65"/><circle cx="211.21" cy="247.15" r="0.65"/><circle cx="210.58" cy="245.95" r="0.65"/><circle cx="211.26" cy="244.74" r="0.65"/><circle cx="210.72" cy="243.53" r="0.65"/><circle cx="211.18" cy="242.32" r="0.65"/><circle cx="210.84" cy="241.11" r="0.65"/><circle cx="211.03" cy="239.90" r="0.65"/></g>
<g fill="#e5484e" fill-opacity="0.55"><circle cx="215.19" cy="298.44" r="0.65"/><circle cx="215.43" cy="295.31" r="0.65"/><circle cx="215.73" cy="292.19" r="0.65"/><circle cx="215.71" cy="289.06" r="0.65"/><circle cx="215.64" cy="285.94" r="0.65"/><circle cx="215.88" cy="284.45" r="0.65"/><circle cx="216.20" cy="283.67" r="0.65"/><circle cx="215.77" cy="282.89" r="0.65"/><circle cx="216.05" cy="282.11" r="0.65"/><circle cx="216.00" cy="281.33" r="0.65"/><circle cx="216.56" cy="280.54" r="0.65"/><circle cx="215.96" cy="279.76" r="0.65"/><circle cx="216.38" cy="278.98" r="0.65"/><circle cx="215.98" cy="278.20" r="0.65"/><circle cx="216.06" cy="277.42" r="0.65"/><circle cx="216.58" cy="276.64" r="0.65"/><circle cx="216.48" cy="275.85" r="0.65"/><circle cx="216.22" cy="275.07" r="0.65"/><circle cx="216.08" cy="274.29" r="0.65"/><circle cx="216.90" cy="273.51" r="0.65"/><circle cx="216.51" cy="272.73" r="0.65"/><circle cx="216.90" cy="271.94" r="0.65"/><circle cx="216.67" cy="271.16" r="0.65"/><circle cx="216.91" cy="270.38" r="0.65"/><circle cx="216.91" cy="269.60" r="0.65"/><circle cx="217.38" cy="268.82" r="0.65"/><circle cx="217.37" cy="268.04" r="0.65"/><circle cx="216.97" cy="267.25" r="0.65"/><circle cx="217.05" cy="266.47" r="0.65"/><circle cx="216.85" cy="265.69" r="0.65"/><circle cx="217.43" cy="264.70" r="0.65"/><circle cx="216.83" cy="263.50" r="0.65"/><circle cx="217.09" cy="262.29" r="0.65"/><circle cx="217.69" cy="261.09" r="0.65"/><circle cx="216.93" cy="259.89" r="0.65"/><circle cx="217.65" cy="258.69" r="0.65"/><circle cx="217.58" cy="257.48" r="0.65"/><circle cx="217.61" cy="256.28" r="0.65"/><circle cx="217.45" cy="255.08" r="0.65"/><circle cx="217.32" cy="253.88" r="0.65"/><circle cx="218.18" cy="252.68" r="0.65"/><circle cx="218.05" cy="251.47" r="0.65"/><circle cx="218.14" cy="250.27" r="0.65"/><circle cx="217.49" cy="249.07" r="0.65"/><circle cx="218.23" cy="247.87" r="0.65"/><circle cx="217.72" cy="246.66" r="0.65"/><circle cx="217.76" cy="245.46" r="0.65"/><circle cx="218.15" cy="244.26" r="0.65"/><circle cx="218.28" cy="243.06" r="0.65"/><circle cx="217.84" cy="241.85" r="0.65"/><circle cx="218.54" cy="240.65" r="0.65"/><circle cx="218.41" cy="239.45" r="0.65"/><circle cx="218.79" cy="238.25" r="0.65"/><circle cx="218.87" cy="237.04" r="0.65"/><circle cx="218.69" cy="235.84" r="0.65"/><circle cx="218.42" cy="234.44" r="0.65"/><circle cx="219.06" cy="232.56" r="0.65"/><circle cx="218.88" cy="230.69" r="0.65"/><circle cx="218.51" cy="228.81" r="0.65"/><circle cx="219.13" cy="226.94" r="0.65"/></g>
<g fill="#e5484e" fill-opacity="0.55"><circle cx="221.65" cy="304.57" r="0.65"/><circle cx="221.22" cy="303.71" r="0.65"/><circle cx="221.25" cy="302.85" r="0.65"/><circle cx="221.06" cy="301.99" r="0.65"/><circle cx="221.62" cy="301.12" r="0.65"/><circle cx="221.37" cy="300.26" r="0.65"/><circle cx="221.45" cy="299.40" r="0.65"/><circle cx="221.45" cy="298.59" r="0.65"/><circle cx="221.37" cy="297.87" r="0.65"/><circle cx="221.76" cy="297.16" r="0.65"/><circle cx="221.59" cy="296.44" r="0.65"/><circle cx="221.65" cy="295.73" r="0.65"/><circle cx="221.68" cy="295.01" r="0.65"/><circle cx="221.95" cy="294.30" r="0.65"/><circle cx="222.35" cy="293.59" r="0.65"/><circle cx="221.68" cy="292.87" r="0.65"/><circle cx="222.42" cy="292.16" r="0.65"/><circle cx="222.45" cy="291.44" r="0.65"/><circle cx="222.25" cy="290.73" r="0.65"/><circle cx="222.22" cy="290.01" r="0.65"/><circle cx="222.45" cy="289.30" r="0.65"/><circle cx="222.29" cy="288.59" r="0.65"/><circle cx="222.46" cy="287.87" r="0.65"/><circle cx="222.76" cy="287.16" r="0.65"/><circle cx="222.66" cy="286.44" r="0.65"/><circle cx="222.18" cy="285.73" r="0.65"/><circle cx="222.01" cy="285.01" r="0.65"/><circle cx="222.94" cy="284.30" r="0.65"/><circle cx="222.40" cy="283.59" r="0.65"/><circle cx="222.87" cy="282.87" r="0.65"/><circle cx="222.35" cy="282.16" r="0.65"/><circle cx="222.61" cy="281.44" r="0.65"/><circle cx="222.57" cy="280.73" r="0.65"/><circle cx="222.97" cy="280.01" r="0.65"/><circle cx="223.22" cy="279.30" r="0.65"/><circle cx="222.83" cy="278.59" r="0.65"/><circle cx="222.93" cy="277.87" r="0.65"/><circle cx="222.75" cy="277.16" r="0.65"/><circle cx="222.67" cy="276.44" r="0.65"/><circle cx="223.43" cy="275.73" r="0.65"/><circle cx="222.63" cy="275.01" r="0.65"/><circle cx="223.50" cy="274.30" r="0.65"/><circle cx="223.26" cy="273.59" r="0.65"/><circle cx="222.71" cy="272.87" r="0.65"/><circle cx="223.58" cy="272.16" r="0.65"/><circle cx="222.82" cy="271.58" r="0.65"/><circle cx="223.33" cy="271.13" r="0.65"/><circle cx="222.92" cy="270.69" r="0.65"/><circle cx="223.83" cy="270.24" r="0.65"/><circle cx="223.19" cy="269.80" r="0.65"/><circle cx="223.79" cy="269.36" r="0.65"/><circle cx="223.02" cy="268.91" r="0.65"/><circle cx="223.67" cy="268.47" r="0.65"/><circle cx="223.11" cy="268.02" r="0.65"/><circle cx="223.11" cy="267.58" r="0.65"/><circle cx="223.69" cy="267.13" r="0.65"/><circle cx="224.14" cy="266.69" r="0.65"/><circle cx="223.89" cy="266.24" r="0.65"/><circle cx="224.10" cy="265.80" r="0.65"/><circle cx="224.06" cy="265.36" r="0.65"/><circle cx="223.84" cy="264.91" r="0.65"/><circle cx="223.44" cy="264.47" r="0.65"/><circle cx="223.93" cy="264.02" r="0.65"/><circle cx="223.62" cy="263.58" r="0.65"/><circle cx="224.01" cy="263.13" r="0.65"/><circle cx="223.87" cy="262.69" r="0.65"/><circle cx="224.06" cy="262.24" r="0.65"/><circle cx="223.80" cy="261.80" r="0.65"/><circle cx="224.35" cy="261.36" r="0.65"/><circle cx="224.10" cy="260.91" r="0.65"/><circle cx="224.21" cy="260.47" r="0.65"/><circle cx="223.84" cy="260.02" r="0.65"/><circle cx="224.29" cy="259.58" r="0.65"/><circle cx="224.40" cy="259.13" r="0.65"/><circle cx="224.85" cy="258.69" r="0.65"/><circle cx="224.48" cy="258.24" r="0.65"/><circle cx="224.09" cy="257.80" r="0.65"/><circle cx="224.30" cy="257.36" r="0.65"/><circle cx="224.38" cy="256.91" r="0.65"/><circle cx="224.78" cy="256.47" r="0.65"/><circle cx="225.06" cy="256.02" r="0.65"/><circle cx="225.14" cy="255.58" r="0.65"/><circle cx="225.15" cy="255.13" r="0.65"/><circle cx="225.17" cy="254.51" r="0.65"/><circle cx="225.14" cy="253.82" r="0.65"/><circle cx="225.25" cy="253.12" r="0.65"/><circle cx="224.38" cy="252.43" r="0.65"/><circle cx="224.89" cy="251.74" r="0.65"/><circle cx="225.03" cy="251.04" r="0.65"/><circle cx="225.17" cy="250.35" r="0.65"/></g>
<g fill="#e5484e" fill-opacity="0.55"><circle cx="229.05" cy="297.43" r="0.65"/><circle cx="229.11" cy="296.27" r="0.65"/><circle cx="229.50" cy="295.12" r="0.65"/><circle cx="228.72" cy="293.97" r="0.65"/><circle cx="229.22" cy="292.90" r="0.65"/><circle cx="229.72" cy="291.91" r="0.65"/><circle cx="228.86" cy="290.91" r="0.65"/><circle cx="229.01" cy="289.92" r="0.65"/><circle cx="229.83" cy="288.92" r="0.65"/><circle cx="229.98" cy="287.93" r="0.65"/><circle cx="229.12" cy="286.93" r="0.65"/><circle cx="229.19" cy="285.94" r="0.65"/><circle cx="230.05" cy="284.94" r="0.65"/><circle cx="229.98" cy="283.95" r="0.65"/><circle cx="229.88" cy="282.95" r="0.65"/><circle cx="230.00" cy="281.95" r="0.65"/><circle cx="230.25" cy="280.96" r="0.65"/><circle cx="230.36" cy="279.96" r="0.65"/><circle cx="229.62" cy="278.97" r="0.65"/><circle cx="229.75" cy="277.97" r="0.65"/><circle cx="230.55" cy="276.98" r="0.65"/><circle cx="230.79" cy="275.98" r="0.65"/><circle cx="230.72" cy="274.99" r="0.65"/><circle cx="230.36" cy="273.99" r="0.65"/><circle cx="230.35" cy="273.00" r="0.65"/><circle cx="230.43" cy="272.11" r="0.65"/><circle cx="230.16" cy="271.32" r="0.65"/><circle cx="230.99" cy="270.54" r="0.65"/><circle cx="230.54" cy="269.75" r="0.65"/><circle cx="230.93" cy="268.96" r="0.65"/><circle cx="230.94" cy="268.18" r="0.65"/><circle cx="230.81" cy="267.39" r="0.65"/><circle cx="231.22" cy="266.61" r="0.65"/><circle cx="231.07" cy="265.82" r="0.65"/><circle cx="230.91" cy="265.04" r="0.65"/><circle cx="231.62" cy="264.25" r="0.65"/><circle cx="230.98" cy="263.46" r="0.65"/><circle cx="231.02" cy="262.68" r="0.65"/><circle cx="231.19" cy="261.89" r="0.65"/><circle cx="231.49" cy="261.11" r="0.65"/><circle cx="231.86" cy="260.32" r="0.65"/><circle cx="231.47" cy="259.54" r="0.65"/><circle cx="231.44" cy="258.75" r="0.65"/><circle cx="231.93" cy="257.96" r="0.65"/><circle cx="231.60" cy="257.18" r="0.65"/><circle cx="231.93" cy="256.39" r="0.65"/><circle cx="231.72" cy="255.53" r="0.65"/><circle cx="232.41" cy="254.57" r="0.65"/><circle cx="231.79" cy="253.62" r="0.65"/><circle cx="231.90" cy="252.67" r="0.65"/></g>
<g fill="#e5484e" fill-opacity="0.55"><circle cx="236.22" cy="304.51" r="0.65"/><circle cx="236.28" cy="303.54" r="0.65"/><circle cx="236.72" cy="302.57" r="0.65"/><circle cx="236.70" cy="301.60" r="0.65"/><circle cx="236.86" cy="300.62" r="0.65"/><circle cx="236.64" cy="299.65" r="0.65"/><circle cx="236.22" cy="298.68" r="0.65"/><circle cx="236.94" cy="297.80" r="0.65"/><circle cx="236.46" cy="297.14" r="0.65"/><circle cx="236.47" cy="296.48" r="0.65"/><circle cx="236.70" cy="295.83" r="0.65"/><circle cx="237.31" cy="295.17" r="0.65"/><circle cx="236.73" cy="294.51" r="0.65"/><circle cx="236.75" cy="293.85" r="0.65"/><circle cx="237.34" cy="293.19" r="0.65"/><circle cx="237.46" cy="292.53" r="0.65"/><circle cx="236.89" cy="291.87" r="0.65"/><circle cx="236.68" cy="291.22" r="0.65"/><circle cx="237.37" cy="290.56" r="0.65"/><circle cx="237.40" cy="289.90" r="0.65"/><circle cx="236.99" cy="289.24" r="0.65"/><circle cx="237.48" cy="288.58" r="0.65"/><circle cx="237.10" cy="287.92" r="0.65"/><circle cx="237.05" cy="287.26" r="0.65"/><circle cx="237.39" cy="286.60" r="0.65"/><circle cx="237.58" cy="285.95" r="0.65"/><circle cx="237.35" cy="285.29" r="0.65"/><circle cx="237.73" cy="284.63" r="0.65"/><circle cx="236.96" cy="283.97" r="0.65"/><circle cx="237.48" cy="283.31" r="0.65"/><circle cx="237.40" cy="282.65" r="0.65"/><circle cx="237.12" cy="281.99" r="0.65"/><circle cx="238.01" cy="281.33" r="0.65"/><circle cx="237.27" cy="280.68" r="0.65"/><circle cx="237.37" cy="280.02" r="0.65"/><circle cx="238.08" cy="279.36" r="0.65"/><circle cx="238.20" cy="278.70" r="0.65"/><circle cx="238.21" cy="278.04" r="0.65"/><circle cx="237.65" cy="277.38" r="0.65"/><circle cx="238.28" cy="276.72" r="0.65"/><circle cx="237.53" cy="276.06" r="0.65"/><circle cx="238.14" cy="275.41" r="0.65"/><circle cx="238.40" cy="274.75" r="0.65"/><circle cx="237.69" cy="274.09" r="0.65"/><circle cx="237.67" cy="273.43" r="0.65"/><circle cx="238.25" cy="272.87" r="0.65"/><circle cx="238.49" cy="272.42" r="0.65"/><circle cx="238.37" cy="271.97" r="0.65"/><circle cx="238.63" cy="271.52" r="0.65"/><circle cx="238.17" cy="271.06" r="0.65"/><circle cx="238.12" cy="270.61" r="0.65"/><circle cx="237.91" cy="270.16" r="0.65"/><circle cx="238.10" cy="269.71" r="0.65"/><circle cx="238.80" cy="269.25" r="0.65"/><circle cx="237.97" cy="268.80" r="0.65"/><circle cx="238.12" cy="268.35" r="0.65"/><circle cx="238.32" cy="267.90" r="0.65"/><circle cx="238.06" cy="267.45" r="0.65"/><circle cx="238.35" cy="266.99" r="0.65"/><circle cx="238.26" cy="266.54" r="0.65"/><circle cx="238.24" cy="266.09" r="0.65"/><circle cx="238.68" cy="265.64" r="0.65"/><circle cx="238.73" cy="265.18" r="0.65"/><circle cx="238.80" cy="264.73" r="0.65"/><circle cx="239.03" cy="264.28" r="0.65"/><circle cx="238.83" cy="263.83" r="0.65"/><circle cx="239.29" cy="263.37" r="0.65"/><circle cx="238.46" cy="262.92" r="0.65"/><circle cx="238.63" cy="262.47" r="0.65"/><circle cx="238.53" cy="262.02" r="0.65"/><circle cx="238.79" cy="261.56" r="0.65"/><circle cx="239.28" cy="261.11" r="0.65"/><circle cx="239.48" cy="260.66" r="0.65"/><circle cx="239.10" cy="260.21" r="0.65"/><circle cx="238.79" cy="259.75" r="0.65"/><circle cx="239.00" cy="259.30" r="0.65"/><circle cx="239.27" cy="258.85" r="0.65"/><circle cx="239.04" cy="258.40" r="0.65"/><circle cx="239.57" cy="257.95" r="0.65"/><circle cx="239.79" cy="257.49" r="0.65"/><circle cx="239.31" cy="257.04" r="0.65"/><circle cx="239.49" cy="256.59" r="0.65"/><circle cx="239.77" cy="256.14" r="0.65"/><circle cx="239.43" cy="255.52" r="0.65"/><circle cx="239.19" cy="254.84" r="0.65"/><circle cx="239.98" cy="254.16" r="0.65"/><circle cx="240.05" cy="253.48" r="0.65"/><circle cx="239.13" cy="252.80" r="0.65"/><circle cx="239.91" cy="252.12" r="0.65"/><circle cx="239.58" cy="251.44" r="0.65"/></g>
<g fill="#e5484e" fill-opacity="0.55"><circle cx="242.99" cy="301.50" r="0.65"/><circle cx="243.18" cy="300.50" r="0.65"/><circle cx="243.27" cy="299.50" r="0.65"/><circle cx="243.92" cy="298.40" r="0.65"/><circle cx="243.47" cy="297.06" r="0.65"/><circle cx="243.36" cy="295.72" r="0.65"/><circle cx="243.64" cy="294.38" r="0.65"/><circle cx="244.30" cy="293.04" r="0.65"/><circle cx="244.08" cy="291.70" r="0.65"/><circle cx="244.31" cy="290.36" r="0.65"/><circle cx="244.21" cy="289.02" r="0.65"/><circle cx="244.00" cy="287.68" r="0.65"/><circle cx="243.92" cy="286.34" r="0.65"/><circle cx="244.28" cy="285.01" r="0.65"/><circle cx="244.10" cy="283.67" r="0.65"/><circle cx="244.40" cy="282.33" r="0.65"/><circle cx="244.84" cy="280.99" r="0.65"/><circle cx="244.67" cy="279.65" r="0.65"/><circle cx="244.85" cy="278.31" r="0.65"/><circle cx="245.08" cy="276.97" r="0.65"/><circle cx="244.86" cy="275.70" r="0.65"/><circle cx="244.98" cy="274.49" r="0.65"/><circle cx="245.58" cy="273.28" r="0.65"/><circle cx="245.36" cy="272.07" r="0.65"/><circle cx="245.28" cy="270.86" r="0.65"/><circle cx="245.48" cy="269.65" r="0.65"/><circle cx="245.48" cy="268.45" r="0.65"/><circle cx="245.43" cy="267.24" r="0.65"/><circle cx="246.09" cy="266.03" r="0.65"/><circle cx="245.49" cy="264.82" r="0.65"/><circle cx="246.28" cy="263.61" r="0.65"/><circle cx="246.27" cy="262.40" r="0.65"/><circle cx="246.38" cy="261.20" r="0.65"/><circle cx="245.74" cy="259.99" r="0.65"/><circle cx="246.17" cy="258.78" r="0.65"/><circle cx="246.72" cy="257.57" r="0.65"/><circle cx="246.11" cy="256.36" r="0.65"/><circle cx="246.07" cy="255.17" r="0.65"/><circle cx="246.70" cy="253.98" r="0.65"/><circle cx="246.30" cy="252.79" r="0.65"/></g>
<g fill="#e5484e" fill-opacity="0.55"><circle cx="251.01" cy="329.36" r="0.65"/><circle cx="250.62" cy="326.69" r="0.65"/><circle cx="251.46" cy="324.01" r="0.65"/><circle cx="250.84" cy="321.34" r="0.65"/><circle cx="250.69" cy="319.46" r="0.65"/><circle cx="251.33" cy="318.39" r="0.65"/><circle cx="251.03" cy="317.31" r="0.65"/><circle cx="251.29" cy="316.23" r="0.65"/><circle cx="251.27" cy="315.16" r="0.65"/><circle cx="251.74" cy="314.08" r="0.65"/><circle cx="251.38" cy="313.00" r="0.65"/><circle cx="251.28" cy="311.93" r="0.65"/><circle cx="250.95" cy="310.85" r="0.65"/><circle cx="251.49" cy="309.78" r="0.65"/><circle cx="251.31" cy="308.70" r="0.65"/><circle cx="251.66" cy="307.62" r="0.65"/><circle cx="251.76" cy="306.55" r="0.65"/><circle cx="251.63" cy="305.47" r="0.65"/><circle cx="251.30" cy="304.40" r="0.65"/><circle cx="251.76" cy="303.32" r="0.65"/><circle cx="251.78" cy="302.24" r="0.65"/><circle cx="251.99" cy="301.17" r="0.65"/><circle cx="252.36" cy="300.09" r="0.65"/><circle cx="251.71" cy="299.01" r="0.65"/><circle cx="251.92" cy="297.94" r="0.65"/><circle cx="251.61" cy="296.75" r="0.65"/><circle cx="252.37" cy="295.44" r="0.65"/><circle cx="251.84" cy="294.14" r="0.65"/><circle cx="252.48" cy="292.83" r="0.65"/><circle cx="252.50" cy="291.53" r="0.65"/><circle cx="252.00" cy="290.22" r="0.65"/><circle cx="252.69" cy="288.92" r="0.65"/><circle cx="252.33" cy="287.61" r="0.65"/><circle cx="252.30" cy="286.31" r="0.65"/><circle cx="252.47" cy="285.00" r="0.65"/><circle cx="252.91" cy="283.70" r="0.65"/><circle cx="252.50" cy="282.40" r="0.65"/><circle cx="252.53" cy="281.09" r="0.65"/><circle cx="252.38" cy="279.79" r="0.65"/><circle cx="252.98" cy="278.48" r="0.65"/><circle cx="252.69" cy="277.18" r="0.65"/><circle cx="252.57" cy="275.87" r="0.65"/><circle cx="252.47" cy="274.57" r="0.65"/><circle cx="252.53" cy="273.26" r="0.65"/><circle cx="253.19" cy="271.96" r="0.65"/><circle cx="253.21" cy="270.65" r="0.65"/><circle cx="253.42" cy="268.12" r="0.65"/><circle cx="253.41" cy="264.38" r="0.65"/><circle cx="253.22" cy="260.62" r="0.65"/><circle cx="253.38" cy="256.88" r="0.65"/></g>
<g fill="#12a04a" fill-opacity="0.6"><circle cx="31.54" cy="299.64" r="0.65"/><circle cx="31.69" cy="298.92" r="0.65"/><circle cx="31.73" cy="298.20" r="0.65"/><circle cx="31.16" cy="297.46" r="0.65"/><circle cx="31.85" cy="296.66" r="0.65"/><circle cx="31.39" cy="295.87" r="0.65"/><circle cx="31.39" cy="295.07" r="0.65"/><circle cx="32.11" cy="294.27" r="0.65"/><circle cx="31.27" cy="293.47" r="0.65"/><circle cx="31.81" cy="292.68" r="0.65"/><circle cx="31.69" cy="291.88" r="0.65"/><circle cx="32.20" cy="291.08" r="0.65"/><circle cx="32.07" cy="290.28" r="0.65"/><circle cx="32.42" cy="289.48" r="0.65"/><circle cx="32.49" cy="288.69" r="0.65"/><circle cx="32.26" cy="287.89" r="0.65"/><circle cx="31.73" cy="287.09" r="0.65"/><circle cx="32.39" cy="286.29" r="0.65"/><circle cx="31.88" cy="285.50" r="0.65"/><circle cx="32.81" cy="284.70" r="0.65"/><circle cx="32.75" cy="283.73" r="0.65"/><circle cx="32.24" cy="282.58" r="0.65"/><circle cx="32.17" cy="281.43" r="0.65"/><circle cx="32.73" cy="280.28" r="0.65"/><circle cx="32.84" cy="279.13" r="0.65"/><circle cx="33.12" cy="277.98" r="0.65"/><circle cx="32.81" cy="276.83" r="0.65"/><circle cx="32.37" cy="275.68" r="0.65"/><circle cx="33.02" cy="274.54" r="0.65"/><circle cx="32.41" cy="273.39" r="0.65"/><circle cx="33.27" cy="272.24" r="0.65"/><circle cx="33.22" cy="271.09" r="0.65"/><circle cx="33.29" cy="269.94" r="0.65"/><circle cx="33.43" cy="268.79" r="0.65"/><circle cx="33.18" cy="267.64" r="0.65"/><circle cx="33.61" cy="266.49" r="0.65"/><circle cx="33.36" cy="265.34" r="0.65"/><circle cx="33.26" cy="264.34" r="0.65"/><circle cx="33.21" cy="263.41" r="0.65"/><circle cx="33.23" cy="262.47" r="0.65"/></g>
<g fill="#12a04a" fill-opacity="0.6"><circle cx="37.24" cy="290.53" r="0.65"/><circle cx="37.42" cy="289.00" r="0.65"/><circle cx="38.09" cy="287.46" r="0.65"/><circle cx="37.56" cy="285.93" r="0.65"/><circle cx="38.03" cy="284.39" r="0.65"/><circle cx="38.19" cy="282.85" r="0.65"/><circle cx="38.15" cy="282.44" r="0.65"/><circle cx="38.01" cy="282.14" r="0.65"/><circle cx="37.84" cy="281.85" r="0.65"/><circle cx="37.84" cy="281.56" r="0.65"/><circle cx="37.79" cy="281.27" r="0.65"/><circle cx="38.29" cy="280.97" r="0.65"/><circle cx="38.37" cy="280.68" r="0.65"/><circle cx="38.66" cy="280.39" r="0.65"/><circle cx="38.09" cy="280.10" r="0.65"/><circle cx="38.72" cy="279.80" r="0.65"/><circle cx="38.75" cy="279.51" r="0.65"/><circle cx="38.17" cy="279.22" r="0.65"/><circle cx="38.87" cy="278.93" r="0.65"/><circle cx="38.57" cy="278.63" r="0.65"/><circle cx="38.95" cy="278.34" r="0.65"/><circle cx="38.80" cy="278.05" r="0.65"/><circle cx="38.40" cy="277.76" r="0.65"/><circle cx="38.39" cy="277.46" r="0.65"/><circle cx="38.67" cy="277.17" r="0.65"/><circle cx="38.67" cy="276.88" r="0.65"/><circle cx="38.26" cy="276.59" r="0.65"/><circle cx="39.12" cy="276.29" r="0.65"/><circle cx="38.83" cy="276.00" r="0.65"/><circle cx="38.81" cy="275.71" r="0.65"/><circle cx="39.12" cy="275.42" r="0.65"/><circle cx="38.66" cy="275.12" r="0.65"/><circle cx="38.65" cy="274.83" r="0.65"/><circle cx="39.07" cy="274.54" r="0.65"/><circle cx="38.77" cy="274.25" r="0.65"/><circle cx="38.90" cy="273.98" r="0.65"/><circle cx="38.68" cy="273.75" r="0.65"/><circle cx="38.70" cy="273.51" r="0.65"/><circle cx="39.04" cy="273.28" r="0.65"/><circle cx="39.25" cy="273.04" r="0.65"/><circle cx="39.71" cy="272.81" r="0.65"/><circle cx="39.44" cy="272.57" r="0.65"/><circle cx="39.25" cy="272.34" r="0.65"/><circle cx="39.28" cy="272.11" r="0.65"/><circle cx="39.15" cy="271.87" r="0.65"/><circle cx="39.43" cy="271.64" r="0.65"/><circle cx="39.95" cy="271.40" r="0.65"/><circle cx="39.15" cy="271.17" r="0.65"/><circle cx="39.50" cy="270.93" r="0.65"/><circle cx="39.79" cy="270.70" r="0.65"/><circle cx="39.91" cy="270.46" r="0.65"/><circle cx="39.74" cy="270.23" r="0.65"/><circle cx="39.87" cy="269.99" r="0.65"/><circle cx="40.20" cy="269.76" r="0.65"/><circle cx="40.20" cy="269.52" r="0.65"/><circle cx="39.59" cy="269.29" r="0.65"/><circle cx="39.92" cy="269.05" r="0.65"/><circle cx="40.42" cy="268.82" r="0.65"/><circle cx="39.98" cy="268.58" r="0.65"/><circle cx="39.68" cy="268.35" r="0.65"/><circle cx="40.30" cy="268.12" r="0.65"/><circle cx="39.63" cy="267.88" r="0.65"/><circle cx="39.76" cy="267.65" r="0.65"/><circle cx="40.20" cy="267.41" r="0.65"/><circle cx="39.96" cy="267.11" r="0.65"/><circle cx="40.45" cy="266.18" r="0.65"/><circle cx="40.49" cy="265.25" r="0.65"/><circle cx="40.12" cy="264.32" r="0.65"/><circle cx="40.61" cy="263.39" r="0.65"/><circle cx="40.53" cy="262.46" r="0.65"/></g>
<g fill="#12a04a" fill-opacity="0.6"><circle cx="45.42" cy="286.40" r="0.65"/><circle cx="45.20" cy="285.21" r="0.65"/><circle cx="45.21" cy="284.01" r="0.65"/><circle cx="44.91" cy="282.82" r="0.65"/><circle cx="45.31" cy="281.62" r="0.65"/><circle cx="45.82" cy="280.43" r="0.65"/><circle cx="45.78" cy="279.24" r="0.65"/><circle cx="44.98" cy="278.28" r="0.65"/><circle cx="45.03" cy="277.88" r="0.65"/><circle cx="45.25" cy="277.49" r="0.65"/><circle cx="45.71" cy="277.09" r="0.65"/><circle cx="45.48" cy="276.69" r="0.65"/><circle cx="45.20" cy="276.30" r="0.65"/><circle cx="45.53" cy="275.90" r="0.65"/><circle cx="45.71" cy="275.50" r="0.65"/><circle cx="45.91" cy="275.11" r="0.65"/><circle cx="45.60" cy="274.71" r="0.65"/><circle cx="45.87" cy="274.31" r="0.65"/><circle cx="45.94" cy="273.92" r="0.65"/><circle cx="45.90" cy="273.52" r="0.65"/><circle cx="45.36" cy="273.12" r="0.65"/><circle cx="46.06" cy="272.73" r="0.65"/><circle cx="45.50" cy="272.33" r="0.65"/><circle cx="45.46" cy="271.93" r="0.65"/><circle cx="45.91" cy="271.53" r="0.65"/><circle cx="45.48" cy="271.14" r="0.65"/><circle cx="45.57" cy="270.74" r="0.65"/><circle cx="45.92" cy="270.34" r="0.65"/><circle cx="46.02" cy="269.95" r="0.65"/><circle cx="45.69" cy="269.55" r="0.65"/><circle cx="46.57" cy="269.15" r="0.65"/><circle cx="46.50" cy="268.76" r="0.65"/><circle cx="46.16" cy="268.36" r="0.65"/><circle cx="46.29" cy="267.96" r="0.65"/><circle cx="46.05" cy="267.57" r="0.65"/><circle cx="46.75" cy="267.17" r="0.65"/><circle cx="45.91" cy="266.77" r="0.65"/><circle cx="46.13" cy="266.38" r="0.65"/><circle cx="46.08" cy="265.98" r="0.65"/><circle cx="46.75" cy="265.58" r="0.65"/><circle cx="46.42" cy="265.19" r="0.65"/><circle cx="46.36" cy="264.79" r="0.65"/><circle cx="46.37" cy="264.39" r="0.65"/><circle cx="46.89" cy="264.00" r="0.65"/><circle cx="46.29" cy="263.60" r="0.65"/><circle cx="46.86" cy="263.16" r="0.65"/><circle cx="46.80" cy="262.68" r="0.65"/><circle cx="46.57" cy="262.20" r="0.65"/><circle cx="46.52" cy="261.71" r="0.65"/><circle cx="46.62" cy="261.23" r="0.65"/><circle cx="46.67" cy="260.75" r="0.65"/><circle cx="46.56" cy="260.27" r="0.65"/><circle cx="46.90" cy="259.79" r="0.65"/><circle cx="46.72" cy="259.31" r="0.65"/><circle cx="46.64" cy="258.83" r="0.65"/><circle cx="47.14" cy="258.34" r="0.65"/><circle cx="46.85" cy="257.86" r="0.65"/><circle cx="46.90" cy="257.38" r="0.65"/><circle cx="47.33" cy="256.90" r="0.65"/><circle cx="46.94" cy="256.42" r="0.65"/><circle cx="46.89" cy="255.94" r="0.65"/><circle cx="47.44" cy="255.46" r="0.65"/><circle cx="47.55" cy="254.97" r="0.65"/><circle cx="47.39" cy="254.49" r="0.65"/><circle cx="47.04" cy="254.01" r="0.65"/><circle cx="47.34" cy="253.53" r="0.65"/><circle cx="47.44" cy="253.05" r="0.65"/><circle cx="47.02" cy="252.57" r="0.65"/><circle cx="47.48" cy="252.09" r="0.65"/><circle cx="47.73" cy="251.60" r="0.65"/><circle cx="47.47" cy="251.12" r="0.65"/><circle cx="47.51" cy="250.64" r="0.65"/><circle cx="47.31" cy="250.16" r="0.65"/><circle cx="47.56" cy="249.68" r="0.65"/><circle cx="47.16" cy="249.20" r="0.65"/><circle cx="47.74" cy="248.71" r="0.65"/><circle cx="47.53" cy="248.23" r="0.65"/><circle cx="48.00" cy="247.75" r="0.65"/><circle cx="47.40" cy="247.27" r="0.65"/><circle cx="47.80" cy="246.79" r="0.65"/><circle cx="47.13" cy="246.31" r="0.65"/><circle cx="47.56" cy="245.83" r="0.65"/><circle cx="47.94" cy="245.34" r="0.65"/><circle cx="47.46" cy="244.89" r="0.65"/><circle cx="47.85" cy="244.44" r="0.65"/><circle cx="47.49" cy="244.00" r="0.65"/><circle cx="47.69" cy="243.56" r="0.65"/><circle cx="48.32" cy="243.11" r="0.65"/><circle cx="47.55" cy="242.67" r="0.65"/><circle cx="48.30" cy="242.22" r="0.65"/></g>
<g fill="#12a04a" fill-opacity="0.6"><circle cx="52.09" cy="279.75" r="0.65"/><circle cx="52.68" cy="279.25" r="0.65"/><circle cx="52.98" cy="278.75" r="0.65"/><circle cx="53.06" cy="278.25" r="0.65"/><circle cx="52.67" cy="277.74" r="0.65"/><circle cx="52.93" cy="277.24" r="0.65"/><circle cx="53.12" cy="276.73" r="0.65"/><circle cx="53.23" cy="276.22" r="0.65"/><circle cx="53.28" cy="275.72" r="0.65"/><circle cx="53.17" cy="275.21" r="0.65"/><circle cx="52.91" cy="274.71" r="0.65"/><circle cx="53.42" cy="274.20" r="0.65"/><circle cx="53.34" cy="273.69" r="0.65"/><circle cx="53.39" cy="273.19" r="0.65"/><circle cx="53.89" cy="272.68" r="0.65"/><circle cx="53.11" cy="272.18" r="0.65"/><circle cx="53.81" cy="271.67" r="0.65"/><circle cx="53.42" cy="271.16" r="0.65"/><circle cx="53.88" cy="270.66" r="0.65"/><circle cx="54.17" cy="270.15" r="0.65"/><circle cx="53.56" cy="269.75" r="0.65"/><circle cx="53.91" cy="269.46" r="0.65"/><circle cx="53.93" cy="269.17" r="0.65"/><circle cx="53.96" cy="268.88" r="0.65"/><circle cx="53.70" cy="268.59" r="0.65"/><circle cx="54.22" cy="268.30" r="0.65"/><circle cx="54.55" cy="268.00" r="0.65"/><circle cx="54.38" cy="267.71" r="0.65"/><circle cx="54.07" cy="267.42" r="0.65"/><circle cx="54.65" cy="267.13" r="0.65"/><circle cx="54.33" cy="266.84" r="0.65"/><circle cx="54.11" cy="266.55" r="0.65"/><circle cx="54.64" cy="266.25" r="0.65"/><circle cx="54.55" cy="265.96" r="0.65"/><circle cx="54.69" cy="265.67" r="0.65"/><circle cx="55.21" cy="265.38" r="0.65"/><circle cx="54.85" cy="265.09" r="0.65"/><circle cx="55.30" cy="264.34" r="0.65"/><circle cx="54.76" cy="263.41" r="0.65"/><circle cx="55.23" cy="262.47" r="0.65"/></g>
<g fill="#12a04a" fill-opacity="0.6"><circle cx="59.41" cy="308.44" r="0.65"/><circle cx="59.91" cy="307.28" r="0.65"/><circle cx="60.58" cy="306.45" r="0.65"/><circle cx="60.85" cy="305.62" r="0.65"/><circle cx="61.27" cy="304.72" r="0.65"/><circle cx="61.09" cy="303.77" r="0.65"/><circle cx="61.26" cy="302.82" r="0.65"/><circle cx="61.62" cy="301.56" r="0.65"/></g>
<g fill="#12a04a" fill-opacity="0.6"><circle cx="66.15" cy="311.73" r="0.65"/><circle cx="65.67" cy="311.18" r="0.65"/><circle cx="66.05" cy="310.63" r="0.65"/><circle cx="66.36" cy="310.09" r="0.65"/><circle cx="65.88" cy="309.54" r="0.65"/><circle cx="66.08" cy="308.99" r="0.65"/><circle cx="66.67" cy="308.43" r="0.65"/><circle cx="66.76" cy="307.68" r="0.65"/><circle cx="66.10" cy="306.93" r="0.65"/><circle cx="66.06" cy="306.18" r="0.65"/><circle cx="66.03" cy="305.43" r="0.65"/><circle cx="66.03" cy="304.68" r="0.65"/><circle cx="66.77" cy="303.93" r="0.65"/><circle cx="66.74" cy="303.18" r="0.65"/><circle cx="66.30" cy="302.43" r="0.65"/><circle cx="66.55" cy="301.68" r="0.65"/><circle cx="66.79" cy="300.93" r="0.65"/><circle cx="66.15" cy="300.18" r="0.65"/><circle cx="66.97" cy="299.43" r="0.65"/><circle cx="67.04" cy="298.68" r="0.65"/><circle cx="66.43" cy="297.93" r="0.65"/><circle cx="66.95" cy="297.18" r="0.65"/><circle cx="66.97" cy="296.43" r="0.65"/><circle cx="66.64" cy="295.68" r="0.65"/><circle cx="67.21" cy="294.93" r="0.65"/><circle cx="66.58" cy="294.18" r="0.65"/><circle cx="66.87" cy="293.43" r="0.65"/><circle cx="66.74" cy="292.68" r="0.65"/><circle cx="66.90" cy="291.93" r="0.65"/><circle cx="67.30" cy="291.18" r="0.65"/><circle cx="67.08" cy="290.43" r="0.65"/><circle cx="67.15" cy="289.68" r="0.65"/><circle cx="67.56" cy="288.93" r="0.65"/><circle cx="66.83" cy="288.18" r="0.65"/><circle cx="66.86" cy="287.43" r="0.65"/><circle cx="67.28" cy="286.68" r="0.65"/><circle cx="66.85" cy="285.93" r="0.65"/><circle cx="67.69" cy="285.18" r="0.65"/><circle cx="67.10" cy="284.43" r="0.65"/><circle cx="67.23" cy="283.68" r="0.65"/><circle cx="67.25" cy="282.88" r="0.65"/><circle cx="67.67" cy="282.03" r="0.65"/><circle cx="67.79" cy="281.18" r="0.65"/><circle cx="67.58" cy="280.33" r="0.65"/><circle cx="67.11" cy="279.48" r="0.65"/><circle cx="67.32" cy="278.63" r="0.65"/><circle cx="67.70" cy="277.79" r="0.65"/><circle cx="67.24" cy="276.94" r="0.65"/><circle cx="67.94" cy="276.09" r="0.65"/><circle cx="67.96" cy="275.24" r="0.65"/><circle cx="67.34" cy="274.39" r="0.65"/><circle cx="67.51" cy="273.55" r="0.65"/><circle cx="67.40" cy="272.70" r="0.65"/><circle cx="67.92" cy="271.85" r="0.65"/><circle cx="67.28" cy="271.00" r="0.65"/><circle cx="67.96" cy="270.15" r="0.65"/><circle cx="67.36" cy="269.30" r="0.65"/><circle cx="68.17" cy="268.46" r="0.65"/><circle cx="67.90" cy="267.61" r="0.65"/><circle cx="67.97" cy="266.76" r="0.65"/><circle cx="67.51" cy="265.91" r="0.65"/><circle cx="67.49" cy="265.06" r="0.65"/><circle cx="67.83" cy="264.22" r="0.65"/><circle cx="68.49" cy="263.37" r="0.65"/><circle cx="68.14" cy="262.52" r="0.65"/><circle cx="68.43" cy="261.67" r="0.65"/><circle cx="67.66" cy="260.82" r="0.65"/><circle cx="67.73" cy="259.97" r="0.65"/><circle cx="67.68" cy="259.13" r="0.65"/><circle cx="68.38" cy="258.28" r="0.65"/><circle cx="67.89" cy="257.43" r="0.65"/><circle cx="68.02" cy="256.58" r="0.65"/><circle cx="68.44" cy="255.73" r="0.65"/><circle cx="68.50" cy="254.88" r="0.65"/><circle cx="68.16" cy="254.12" r="0.65"/><circle cx="68.33" cy="253.38" r="0.65"/><circle cx="68.18" cy="252.62" r="0.65"/><circle cx="68.49" cy="251.88" r="0.65"/><circle cx="68.31" cy="251.12" r="0.65"/><circle cx="68.34" cy="250.38" r="0.65"/></g>
<g fill="#12a04a" fill-opacity="0.6"><circle cx="72.86" cy="348.35" r="0.65"/><circle cx="72.94" cy="347.85" r="0.65"/><circle cx="72.94" cy="347.35" r="0.65"/><circle cx="72.72" cy="346.85" r="0.65"/><circle cx="73.05" cy="346.35" r="0.65"/><circle cx="73.36" cy="345.85" r="0.65"/><circle cx="73.06" cy="345.35" r="0.65"/><circle cx="72.94" cy="344.77" r="0.65"/><circle cx="73.70" cy="344.02" r="0.65"/><circle cx="73.35" cy="343.27" r="0.65"/><circle cx="73.43" cy="342.52" r="0.65"/><circle cx="73.26" cy="341.77" r="0.65"/><circle cx="73.86" cy="341.02" r="0.65"/><circle cx="73.76" cy="340.27" r="0.65"/><circle cx="73.66" cy="339.52" r="0.65"/><circle cx="73.72" cy="338.76" r="0.65"/><circle cx="73.79" cy="338.01" r="0.65"/><circle cx="73.63" cy="337.26" r="0.65"/><circle cx="73.57" cy="336.51" r="0.65"/><circle cx="73.58" cy="335.76" r="0.65"/><circle cx="73.72" cy="335.01" r="0.65"/><circle cx="73.71" cy="334.26" r="0.65"/><circle cx="73.80" cy="333.50" r="0.65"/><circle cx="73.84" cy="332.75" r="0.65"/><circle cx="74.12" cy="332.00" r="0.65"/><circle cx="74.26" cy="331.25" r="0.65"/><circle cx="73.62" cy="330.50" r="0.65"/><circle cx="73.45" cy="329.75" r="0.65"/><circle cx="73.76" cy="329.00" r="0.65"/><circle cx="73.52" cy="328.25" r="0.65"/><circle cx="74.31" cy="327.49" r="0.65"/><circle cx="74.17" cy="326.74" r="0.65"/><circle cx="73.86" cy="325.99" r="0.65"/><circle cx="73.80" cy="325.24" r="0.65"/><circle cx="74.50" cy="324.49" r="0.65"/><circle cx="74.50" cy="323.74" r="0.65"/><circle cx="74.38" cy="322.99" r="0.65"/><circle cx="74.42" cy="322.23" r="0.65"/><circle cx="74.50" cy="321.48" r="0.65"/><circle cx="74.24" cy="320.73" r="0.65"/><circle cx="74.21" cy="319.98" r="0.65"/><circle cx="74.40" cy="319.23" r="0.65"/><circle cx="74.76" cy="318.48" r="0.65"/><circle cx="74.90" cy="317.73" r="0.65"/><circle cx="74.85" cy="316.98" r="0.65"/><circle cx="74.80" cy="316.01" r="0.65"/><circle cx="74.07" cy="314.83" r="0.65"/><circle cx="74.27" cy="313.65" r="0.65"/><circle cx="75.03" cy="312.47" r="0.65"/><circle cx="74.63" cy="311.29" r="0.65"/><circle cx="74.63" cy="310.11" r="0.65"/><circle cx="74.45" cy="308.93" r="0.65"/><circle cx="75.04" cy="307.75" r="0.65"/><circle cx="74.72" cy="306.57" r="0.65"/><circle cx="75.23" cy="305.39" r="0.65"/><circle cx="74.34" cy="304.21" r="0.65"/><circle cx="75.29" cy="303.03" r="0.65"/><circle cx="74.34" cy="301.85" r="0.65"/><circle cx="74.50" cy="300.67" r="0.65"/><circle cx="74.77" cy="299.49" r="0.65"/><circle cx="75.05" cy="298.31" r="0.65"/><circle cx="74.56" cy="297.13" r="0.65"/><circle cx="75.04" cy="295.95" r="0.65"/><circle cx="75.44" cy="294.77" r="0.65"/><circle cx="74.97" cy="293.59" r="0.65"/><circle cx="75.33" cy="292.41" r="0.65"/><circle cx="75.19" cy="291.23" r="0.65"/><circle cx="75.21" cy="290.05" r="0.65"/><circle cx="74.83" cy="288.87" r="0.65"/><circle cx="75.15" cy="287.69" r="0.65"/><circle cx="75.62" cy="286.51" r="0.65"/><circle cx="75.42" cy="285.33" r="0.65"/><circle cx="74.99" cy="284.15" r="0.65"/><circle cx="75.25" cy="282.97" r="0.65"/><circle cx="75.38" cy="281.79" r="0.65"/><circle cx="75.20" cy="280.61" r="0.65"/><circle cx="75.47" cy="279.43" r="0.65"/><circle cx="75.56" cy="278.25" r="0.65"/><circle cx="74.97" cy="277.07" r="0.65"/><circle cx="75.21" cy="275.89" r="0.65"/><circle cx="75.67" cy="274.71" r="0.65"/><circle cx="75.26" cy="273.53" r="0.65"/><circle cx="75.15" cy="272.35" r="0.65"/><circle cx="75.87" cy="269.66" r="0.65"/><circle cx="75.47" cy="266.31" r="0.65"/><circle cx="76.12" cy="262.96" r="0.65"/><circle cx="75.75" cy="259.62" r="0.65"/><circle cx="75.33" cy="256.27" r="0.65"/><circle cx="75.89" cy="252.92" r="0.65"/><circle cx="75.55" cy="249.57" r="0.65"/></g>
<g fill="#12a04a" fill-opacity="0.6"><circle cx="80.43" cy="307.66" r="0.65"/><circle cx="80.38" cy="306.98" r="0.65"/><circle cx="80.45" cy="306.30" r="0.65"/><circle cx="79.79" cy="305.62" r="0.65"/><circle cx="79.81" cy="304.95" r="0.65"/><circle cx="80.61" cy="304.27" r="0.65"/><circle cx="79.99" cy="303.47" r="0.65"/><circle cx="80.09" cy="302.66" r="0.65"/><circle cx="79.96" cy="301.85" r="0.65"/><circle cx="80.13" cy="301.04" r="0.65"/><circle cx="80.48" cy="300.23" r="0.65"/><circle cx="81.00" cy="299.42" r="0.65"/><circle cx="80.40" cy="298.61" r="0.65"/><circle cx="80.38" cy="297.80" r="0.65"/><circle cx="80.99" cy="297.00" r="0.65"/><circle cx="80.38" cy="296.19" r="0.65"/><circle cx="80.87" cy="295.38" r="0.65"/><circle cx="80.89" cy="294.57" r="0.65"/><circle cx="81.25" cy="293.76" r="0.65"/><circle cx="80.40" cy="292.95" r="0.65"/><circle cx="80.95" cy="292.14" r="0.65"/><circle cx="80.81" cy="291.33" r="0.65"/><circle cx="81.29" cy="290.52" r="0.65"/><circle cx="80.76" cy="289.71" r="0.65"/><circle cx="81.26" cy="288.90" r="0.65"/><circle cx="80.77" cy="288.09" r="0.65"/><circle cx="81.12" cy="287.28" r="0.65"/><circle cx="81.63" cy="286.47" r="0.65"/><circle cx="80.94" cy="285.66" r="0.65"/><circle cx="81.02" cy="284.85" r="0.65"/><circle cx="81.69" cy="284.04" r="0.65"/><circle cx="81.49" cy="283.23" r="0.65"/><circle cx="80.92" cy="282.42" r="0.65"/><circle cx="81.08" cy="281.61" r="0.65"/><circle cx="81.17" cy="280.80" r="0.65"/><circle cx="81.26" cy="280.01" r="0.65"/><circle cx="81.85" cy="279.23" r="0.65"/><circle cx="81.75" cy="278.45" r="0.65"/><circle cx="82.06" cy="277.67" r="0.65"/><circle cx="81.79" cy="276.89" r="0.65"/><circle cx="81.79" cy="276.12" r="0.65"/><circle cx="81.58" cy="275.34" r="0.65"/><circle cx="81.96" cy="274.56" r="0.65"/><circle cx="81.77" cy="273.78" r="0.65"/><circle cx="81.38" cy="273.00" r="0.65"/><circle cx="81.85" cy="272.22" r="0.65"/><circle cx="81.78" cy="271.44" r="0.65"/><circle cx="81.96" cy="270.66" r="0.65"/><circle cx="81.52" cy="269.88" r="0.65"/><circle cx="81.54" cy="269.11" r="0.65"/><circle cx="82.53" cy="268.33" r="0.65"/><circle cx="81.96" cy="267.55" r="0.65"/><circle cx="81.96" cy="266.77" r="0.65"/><circle cx="81.81" cy="265.99" r="0.65"/><circle cx="82.29" cy="265.21" r="0.65"/><circle cx="82.66" cy="264.43" r="0.65"/><circle cx="81.96" cy="263.65" r="0.65"/><circle cx="82.32" cy="262.87" r="0.65"/><circle cx="82.36" cy="262.10" r="0.65"/><circle cx="82.66" cy="261.32" r="0.65"/><circle cx="82.50" cy="260.54" r="0.65"/><circle cx="82.21" cy="259.76" r="0.65"/><circle cx="82.20" cy="258.98" r="0.65"/><circle cx="82.77" cy="258.20" r="0.65"/><circle cx="82.17" cy="257.46" r="0.65"/><circle cx="82.99" cy="257.01" r="0.65"/><circle cx="82.20" cy="256.56" r="0.65"/><circle cx="82.39" cy="256.12" r="0.65"/><circle cx="82.71" cy="255.67" r="0.65"/><circle cx="83.12" cy="255.22" r="0.65"/></g>
<g fill="#12a04a" fill-opacity="0.6"><circle cx="87.73" cy="307.74" r="0.65"/><circle cx="87.89" cy="307.21" r="0.65"/><circle cx="87.94" cy="306.68" r="0.65"/><circle cx="87.93" cy="306.15" r="0.65"/><circle cx="87.29" cy="305.62" r="0.65"/><circle cx="88.09" cy="305.10" r="0.65"/><circle cx="87.44" cy="304.57" r="0.65"/><circle cx="87.49" cy="304.06" r="0.65"/><circle cx="87.39" cy="303.59" r="0.65"/><circle cx="87.41" cy="303.12" r="0.65"/><circle cx="88.29" cy="302.65" r="0.65"/><circle cx="87.83" cy="302.19" r="0.65"/><circle cx="87.56" cy="301.72" r="0.65"/><circle cx="87.55" cy="301.25" r="0.65"/><circle cx="88.38" cy="300.78" r="0.65"/><circle cx="88.17" cy="300.31" r="0.65"/><circle cx="88.51" cy="299.85" r="0.65"/><circle cx="87.66" cy="299.38" r="0.65"/><circle cx="87.77" cy="298.91" r="0.65"/><circle cx="87.97" cy="298.44" r="0.65"/><circle cx="87.91" cy="297.97" r="0.65"/><circle cx="87.86" cy="297.50" r="0.65"/><circle cx="87.98" cy="297.04" r="0.65"/><circle cx="88.45" cy="296.57" r="0.65"/><circle cx="88.00" cy="296.10" r="0.65"/><circle cx="88.03" cy="295.63" r="0.65"/><circle cx="88.43" cy="295.16" r="0.65"/><circle cx="88.30" cy="294.69" r="0.65"/><circle cx="88.10" cy="294.23" r="0.65"/><circle cx="88.55" cy="293.76" r="0.65"/><circle cx="88.52" cy="293.29" r="0.65"/><circle cx="88.43" cy="292.82" r="0.65"/><circle cx="88.55" cy="292.35" r="0.65"/><circle cx="88.14" cy="291.88" r="0.65"/><circle cx="88.75" cy="291.42" r="0.65"/><circle cx="88.36" cy="290.95" r="0.65"/><circle cx="88.53" cy="290.48" r="0.65"/><circle cx="88.23" cy="290.01" r="0.65"/><circle cx="89.14" cy="289.54" r="0.65"/><circle cx="88.87" cy="289.08" r="0.65"/><circle cx="88.71" cy="288.61" r="0.65"/><circle cx="88.89" cy="288.14" r="0.65"/><circle cx="89.31" cy="287.67" r="0.65"/><circle cx="88.54" cy="287.20" r="0.65"/><circle cx="88.82" cy="286.73" r="0.65"/><circle cx="89.17" cy="286.24" r="0.65"/><circle cx="88.87" cy="285.71" r="0.65"/><circle cx="89.23" cy="285.18" r="0.65"/><circle cx="89.46" cy="284.66" r="0.65"/><circle cx="88.63" cy="284.13" r="0.65"/><circle cx="88.90" cy="283.60" r="0.65"/><circle cx="88.94" cy="283.08" r="0.65"/><circle cx="89.43" cy="282.55" r="0.65"/><circle cx="89.49" cy="282.03" r="0.65"/><circle cx="89.43" cy="281.50" r="0.65"/><circle cx="89.69" cy="280.97" r="0.65"/><circle cx="88.98" cy="280.45" r="0.65"/><circle cx="89.22" cy="279.92" r="0.65"/><circle cx="89.71" cy="279.39" r="0.65"/><circle cx="89.65" cy="278.87" r="0.65"/><circle cx="89.03" cy="278.34" r="0.65"/><circle cx="89.92" cy="277.81" r="0.65"/><circle cx="89.72" cy="277.29" r="0.65"/><circle cx="89.87" cy="276.76" r="0.65"/><circle cx="89.40" cy="276.23" r="0.65"/><circle cx="89.67" cy="275.71" r="0.65"/><circle cx="90.05" cy="275.18" r="0.65"/><circle cx="90.02" cy="274.65" r="0.65"/><circle cx="89.73" cy="274.13" r="0.65"/><circle cx="90.07" cy="273.60" r="0.65"/><circle cx="90.21" cy="273.08" r="0.65"/><circle cx="90.08" cy="272.55" r="0.65"/><circle cx="89.93" cy="272.02" r="0.65"/><circle cx="90.27" cy="271.50" r="0.65"/><circle cx="89.48" cy="270.97" r="0.65"/><circle cx="89.77" cy="270.44" r="0.65"/><circle cx="89.96" cy="269.92" r="0.65"/><circle cx="89.56" cy="269.39" r="0.65"/><circle cx="90.24" cy="268.86" r="0.65"/><circle cx="89.55" cy="268.34" r="0.65"/><circle cx="90.14" cy="267.81" r="0.65"/><circle cx="89.82" cy="267.28" r="0.65"/><circle cx="89.90" cy="266.76" r="0.65"/><circle cx="90.21" cy="266.15" r="0.65"/><circle cx="89.83" cy="265.51" r="0.65"/><circle cx="90.11" cy="264.88" r="0.65"/><circle cx="90.55" cy="264.24" r="0.65"/><circle cx="90.71" cy="263.60" r="0.65"/><circle cx="90.02" cy="262.96" r="0.65"/><circle cx="90.15" cy="262.32" r="0.65"/></g>
<g fill="#12a04a" fill-opacity="0.6"><circle cx="94.83" cy="294.54" r="0.65"/><circle cx="94.39" cy="293.61" r="0.65"/><circle cx="95.11" cy="292.69" r="0.65"/><circle cx="94.52" cy="291.76" r="0.65"/><circle cx="94.94" cy="291.04" r="0.65"/><circle cx="94.79" cy="290.52" r="0.65"/><circle cx="94.52" cy="290.00" r="0.65"/><circle cx="94.58" cy="289.48" r="0.65"/><circle cx="94.65" cy="288.96" r="0.65"/><circle cx="95.04" cy="288.45" r="0.65"/><circle cx="95.05" cy="287.93" r="0.65"/><circle cx="95.83" cy="287.41" r="0.65"/><circle cx="95.54" cy="286.89" r="0.65"/><circle cx="95.03" cy="286.37" r="0.65"/><circle cx="95.74" cy="285.85" r="0.65"/><circle cx="95.32" cy="285.33" r="0.65"/><circle cx="95.64" cy="284.81" r="0.65"/><circle cx="95.94" cy="284.29" r="0.65"/><circle cx="96.14" cy="283.77" r="0.65"/><circle cx="96.28" cy="283.25" r="0.65"/><circle cx="95.83" cy="282.74" r="0.65"/><circle cx="95.79" cy="282.22" r="0.65"/><circle cx="95.94" cy="281.70" r="0.65"/><circle cx="95.92" cy="281.18" r="0.65"/><circle cx="96.41" cy="280.66" r="0.65"/><circle cx="96.19" cy="279.68" r="0.65"/><circle cx="96.48" cy="278.23" r="0.65"/><circle cx="96.01" cy="276.78" r="0.65"/><circle cx="96.71" cy="275.33" r="0.65"/><circle cx="96.95" cy="273.89" r="0.65"/><circle cx="96.26" cy="272.44" r="0.65"/><circle cx="96.73" cy="270.99" r="0.65"/><circle cx="96.34" cy="269.54" r="0.65"/><circle cx="96.28" cy="268.10" r="0.65"/><circle cx="96.72" cy="266.65" r="0.65"/><circle cx="96.56" cy="265.20" r="0.65"/><circle cx="97.17" cy="263.75" r="0.65"/><circle cx="97.07" cy="262.30" r="0.65"/><circle cx="97.24" cy="260.86" r="0.65"/><circle cx="97.60" cy="259.41" r="0.65"/><circle cx="96.75" cy="257.96" r="0.65"/><circle cx="96.85" cy="256.51" r="0.65"/><circle cx="96.86" cy="255.07" r="0.65"/><circle cx="97.34" cy="253.62" r="0.65"/><circle cx="97.77" cy="252.17" r="0.65"/><circle cx="97.70" cy="250.72" r="0.65"/><circle cx="97.62" cy="249.38" r="0.65"/><circle cx="98.00" cy="248.12" r="0.65"/><circle cx="97.58" cy="246.88" r="0.65"/><circle cx="97.38" cy="245.62" r="0.65"/></g>
<g fill="#12a04a" fill-opacity="0.6"><circle cx="102.18" cy="297.92" r="0.65"/><circle cx="101.64" cy="293.75" r="0.65"/><circle cx="101.91" cy="289.92" r="0.65"/><circle cx="101.79" cy="289.07" r="0.65"/><circle cx="101.99" cy="288.22" r="0.65"/><circle cx="101.97" cy="287.37" r="0.65"/><circle cx="102.51" cy="286.52" r="0.65"/><circle cx="102.18" cy="285.67" r="0.65"/><circle cx="102.73" cy="284.82" r="0.65"/><circle cx="103.02" cy="283.97" r="0.65"/><circle cx="102.61" cy="283.12" r="0.65"/><circle cx="102.46" cy="282.27" r="0.65"/><circle cx="103.09" cy="281.42" r="0.65"/><circle cx="103.22" cy="280.57" r="0.65"/><circle cx="103.45" cy="279.72" r="0.65"/><circle cx="103.19" cy="278.14" r="0.65"/><circle cx="103.29" cy="275.81" r="0.65"/><circle cx="103.65" cy="273.49" r="0.65"/><circle cx="103.53" cy="271.16" r="0.65"/><circle cx="103.90" cy="268.84" r="0.65"/><circle cx="103.29" cy="266.51" r="0.65"/><circle cx="103.85" cy="264.18" r="0.65"/><circle cx="103.78" cy="261.86" r="0.65"/><circle cx="103.69" cy="259.53" r="0.65"/><circle cx="103.31" cy="257.21" r="0.65"/><circle cx="103.85" cy="254.88" r="0.65"/><circle cx="103.71" cy="252.56" r="0.65"/><circle cx="104.12" cy="250.23" r="0.65"/><circle cx="104.10" cy="248.12" r="0.65"/><circle cx="104.17" cy="246.04" r="0.65"/></g>
<g fill="#12a04a" fill-opacity="0.6"><circle cx="108.48" cy="305.94" r="0.65"/><circle cx="108.59" cy="303.02" r="0.65"/><circle cx="109.11" cy="300.11" r="0.65"/><circle cx="109.22" cy="297.19" r="0.65"/><circle cx="109.57" cy="294.27" r="0.65"/><circle cx="109.41" cy="292.77" r="0.65"/><circle cx="108.95" cy="291.88" r="0.65"/><circle cx="109.16" cy="290.99" r="0.65"/><circle cx="109.25" cy="290.10" r="0.65"/><circle cx="109.58" cy="289.20" r="0.65"/><circle cx="109.21" cy="288.31" r="0.65"/><circle cx="109.78" cy="287.42" r="0.65"/><circle cx="109.38" cy="286.52" r="0.65"/><circle cx="109.34" cy="285.63" r="0.65"/><circle cx="109.46" cy="284.74" r="0.65"/><circle cx="109.38" cy="283.85" r="0.65"/><circle cx="110.06" cy="282.95" r="0.65"/><circle cx="109.15" cy="282.06" r="0.65"/><circle cx="109.54" cy="281.17" r="0.65"/><circle cx="109.26" cy="280.27" r="0.65"/><circle cx="109.90" cy="279.38" r="0.65"/><circle cx="109.41" cy="278.49" r="0.65"/><circle cx="109.45" cy="277.60" r="0.65"/><circle cx="109.76" cy="276.70" r="0.65"/><circle cx="109.98" cy="275.81" r="0.65"/><circle cx="110.18" cy="274.92" r="0.65"/><circle cx="109.90" cy="274.02" r="0.65"/><circle cx="109.80" cy="273.13" r="0.65"/><circle cx="109.91" cy="272.24" r="0.65"/><circle cx="110.47" cy="271.35" r="0.65"/><circle cx="109.83" cy="270.60" r="0.65"/><circle cx="109.67" cy="270.01" r="0.65"/><circle cx="110.59" cy="269.42" r="0.65"/><circle cx="110.22" cy="268.83" r="0.65"/><circle cx="109.91" cy="268.24" r="0.65"/><circle cx="109.96" cy="267.65" r="0.65"/><circle cx="110.75" cy="267.06" r="0.65"/><circle cx="110.65" cy="266.47" r="0.65"/><circle cx="110.00" cy="265.87" r="0.65"/><circle cx="110.66" cy="265.28" r="0.65"/><circle cx="110.23" cy="264.69" r="0.65"/><circle cx="110.51" cy="264.10" r="0.65"/><circle cx="110.71" cy="263.51" r="0.65"/><circle cx="110.19" cy="262.92" r="0.65"/><circle cx="111.12" cy="262.33" r="0.65"/><circle cx="110.56" cy="261.74" r="0.65"/><circle cx="110.40" cy="261.14" r="0.65"/><circle cx="111.08" cy="260.55" r="0.65"/><circle cx="110.45" cy="259.96" r="0.65"/><circle cx="110.42" cy="259.37" r="0.65"/><circle cx="111.07" cy="258.78" r="0.65"/><circle cx="110.93" cy="258.19" r="0.65"/><circle cx="111.40" cy="257.60" r="0.65"/><circle cx="111.33" cy="257.01" r="0.65"/><circle cx="110.79" cy="256.41" r="0.65"/><circle cx="110.67" cy="255.81" r="0.65"/><circle cx="111.26" cy="255.19" r="0.65"/><circle cx="111.17" cy="254.56" r="0.65"/><circle cx="111.04" cy="253.94" r="0.65"/><circle cx="111.70" cy="253.31" r="0.65"/></g>
<g fill="#12a04a" fill-opacity="0.6"><circle cx="116.15" cy="302.66" r="0.65"/><circle cx="116.65" cy="293.98" r="0.65"/><circle cx="116.16" cy="285.30" r="0.65"/><circle cx="117.08" cy="282.59" r="0.65"/><circle cx="117.18" cy="282.43" r="0.65"/><circle cx="116.93" cy="282.28" r="0.65"/><circle cx="116.70" cy="282.12" r="0.65"/><circle cx="117.18" cy="281.96" r="0.65"/><circle cx="117.43" cy="281.81" r="0.65"/><circle cx="117.40" cy="281.65" r="0.65"/><circle cx="116.72" cy="281.50" r="0.65"/><circle cx="117.26" cy="281.34" r="0.65"/><circle cx="116.97" cy="281.18" r="0.65"/><circle cx="117.45" cy="281.03" r="0.65"/><circle cx="117.93" cy="280.87" r="0.65"/><circle cx="117.92" cy="280.71" r="0.65"/><circle cx="117.37" cy="280.56" r="0.65"/><circle cx="117.75" cy="280.40" r="0.65"/><circle cx="117.59" cy="279.15" r="0.65"/><circle cx="117.52" cy="277.90" r="0.65"/><circle cx="118.17" cy="276.64" r="0.65"/><circle cx="118.26" cy="275.39" r="0.65"/><circle cx="117.91" cy="274.14" r="0.65"/><circle cx="118.07" cy="272.89" r="0.65"/><circle cx="118.42" cy="271.64" r="0.65"/><circle cx="118.52" cy="270.39" r="0.65"/><circle cx="118.33" cy="269.13" r="0.65"/><circle cx="118.06" cy="267.88" r="0.65"/><circle cx="118.11" cy="266.63" r="0.65"/><circle cx="118.26" cy="265.38" r="0.65"/><circle cx="118.99" cy="264.13" r="0.65"/><circle cx="118.74" cy="262.88" r="0.65"/><circle cx="118.96" cy="261.40" r="0.65"/><circle cx="118.75" cy="259.40" r="0.65"/><circle cx="118.83" cy="257.40" r="0.65"/></g>
<g fill="#12a04a" fill-opacity="0.6"><circle cx="122.52" cy="263.91" r="0.65"/><circle cx="123.39" cy="261.72" r="0.65"/><circle cx="123.11" cy="259.53" r="0.65"/><circle cx="122.71" cy="257.83" r="0.65"/><circle cx="123.36" cy="257.26" r="0.65"/><circle cx="123.34" cy="256.69" r="0.65"/><circle cx="123.43" cy="256.11" r="0.65"/><circle cx="123.67" cy="255.54" r="0.65"/><circle cx="123.59" cy="254.97" r="0.65"/><circle cx="123.94" cy="254.40" r="0.65"/><circle cx="124.11" cy="253.83" r="0.65"/><circle cx="123.63" cy="253.26" r="0.65"/><circle cx="123.95" cy="252.69" r="0.65"/><circle cx="123.75" cy="252.11" r="0.65"/><circle cx="123.87" cy="251.54" r="0.65"/><circle cx="123.91" cy="250.97" r="0.65"/><circle cx="124.27" cy="250.40" r="0.65"/><circle cx="124.05" cy="249.83" r="0.65"/><circle cx="124.13" cy="249.26" r="0.65"/><circle cx="124.71" cy="248.69" r="0.65"/><circle cx="124.74" cy="248.00" r="0.65"/><circle cx="124.70" cy="247.20" r="0.65"/><circle cx="124.94" cy="246.41" r="0.65"/><circle cx="124.57" cy="245.61" r="0.65"/><circle cx="124.90" cy="244.81" r="0.65"/><circle cx="124.59" cy="244.01" r="0.65"/><circle cx="124.74" cy="243.22" r="0.65"/><circle cx="124.60" cy="242.42" r="0.65"/><circle cx="125.38" cy="241.62" r="0.65"/><circle cx="125.58" cy="240.82" r="0.65"/><circle cx="125.04" cy="240.03" r="0.65"/><circle cx="125.20" cy="239.23" r="0.65"/><circle cx="125.02" cy="238.43" r="0.65"/><circle cx="125.12" cy="237.63" r="0.65"/><circle cx="125.70" cy="236.83" r="0.65"/><circle cx="126.03" cy="236.04" r="0.65"/><circle cx="125.30" cy="235.24" r="0.65"/><circle cx="125.55" cy="233.47" r="0.65"/><circle cx="126.14" cy="231.28" r="0.65"/><circle cx="125.69" cy="229.09" r="0.65"/></g>
<g fill="#12a04a" fill-opacity="0.6"><circle cx="130.70" cy="314.77" r="0.65"/><circle cx="130.21" cy="314.31" r="0.65"/><circle cx="130.38" cy="313.85" r="0.65"/><circle cx="130.15" cy="313.40" r="0.65"/><circle cx="130.28" cy="312.94" r="0.65"/><circle cx="130.45" cy="312.48" r="0.65"/><circle cx="130.35" cy="312.02" r="0.65"/><circle cx="130.84" cy="311.50" r="0.65"/><circle cx="130.18" cy="310.83" r="0.65"/><circle cx="130.83" cy="310.17" r="0.65"/><circle cx="131.03" cy="309.50" r="0.65"/><circle cx="130.60" cy="308.83" r="0.65"/><circle cx="130.51" cy="308.17" r="0.65"/><circle cx="130.47" cy="307.50" r="0.65"/><circle cx="130.47" cy="306.83" r="0.65"/><circle cx="131.23" cy="306.17" r="0.65"/><circle cx="131.08" cy="305.50" r="0.65"/><circle cx="130.53" cy="304.83" r="0.65"/><circle cx="131.01" cy="304.17" r="0.65"/><circle cx="131.20" cy="303.50" r="0.65"/><circle cx="130.96" cy="302.83" r="0.65"/><circle cx="130.72" cy="302.17" r="0.65"/><circle cx="131.15" cy="301.50" r="0.65"/><circle cx="131.12" cy="300.83" r="0.65"/><circle cx="131.78" cy="300.17" r="0.65"/><circle cx="131.21" cy="299.50" r="0.65"/><circle cx="131.81" cy="298.83" r="0.65"/><circle cx="131.80" cy="298.17" r="0.65"/><circle cx="131.55" cy="297.50" r="0.65"/><circle cx="131.14" cy="296.83" r="0.65"/><circle cx="131.86" cy="296.17" r="0.65"/><circle cx="131.19" cy="295.50" r="0.65"/><circle cx="131.69" cy="294.83" r="0.65"/><circle cx="131.27" cy="294.17" r="0.65"/><circle cx="131.31" cy="293.50" r="0.65"/><circle cx="131.67" cy="292.83" r="0.65"/><circle cx="131.46" cy="292.17" r="0.65"/><circle cx="132.33" cy="291.50" r="0.65"/><circle cx="131.96" cy="290.83" r="0.65"/><circle cx="132.32" cy="290.17" r="0.65"/><circle cx="132.42" cy="289.50" r="0.65"/><circle cx="132.26" cy="288.83" r="0.65"/><circle cx="132.19" cy="288.17" r="0.65"/><circle cx="132.06" cy="287.50" r="0.65"/><circle cx="132.41" cy="286.83" r="0.65"/><circle cx="132.34" cy="286.24" r="0.65"/><circle cx="131.87" cy="285.73" r="0.65"/><circle cx="132.28" cy="285.22" r="0.65"/><circle cx="132.21" cy="284.71" r="0.65"/><circle cx="132.35" cy="284.20" r="0.65"/><circle cx="132.59" cy="283.69" r="0.65"/><circle cx="132.61" cy="283.18" r="0.65"/><circle cx="132.53" cy="282.67" r="0.65"/><circle cx="132.79" cy="282.16" r="0.65"/><circle cx="132.87" cy="281.65" r="0.65"/><circle cx="132.17" cy="281.14" r="0.65"/><circle cx="132.27" cy="280.63" r="0.65"/><circle cx="132.21" cy="280.12" r="0.65"/><circle cx="132.37" cy="279.61" r="0.65"/><circle cx="133.21" cy="279.10" r="0.65"/><circle cx="132.60" cy="278.59" r="0.65"/><circle cx="132.77" cy="278.08" r="0.65"/><circle cx="132.83" cy="277.56" r="0.65"/><circle cx="132.97" cy="277.05" r="0.65"/><circle cx="132.73" cy="276.54" r="0.65"/><circle cx="133.27" cy="276.03" r="0.65"/><circle cx="132.87" cy="275.52" r="0.65"/><circle cx="133.42" cy="275.01" r="0.65"/><circle cx="133.42" cy="274.50" r="0.65"/><circle cx="132.66" cy="273.99" r="0.65"/><circle cx="133.25" cy="273.48" r="0.65"/><circle cx="132.83" cy="272.97" r="0.65"/><circle cx="133.66" cy="272.46" r="0.65"/><circle cx="132.89" cy="271.95" r="0.65"/><circle cx="133.13" cy="271.44" r="0.65"/><circle cx="133.67" cy="270.93" r="0.65"/><circle cx="133.54" cy="270.42" r="0.65"/><circle cx="133.65" cy="269.91" r="0.65"/><circle cx="133.44" cy="269.40" r="0.65"/><circle cx="133.59" cy="268.88" r="0.65"/><circle cx="133.31" cy="268.37" r="0.65"/><circle cx="133.61" cy="267.86" r="0.65"/><circle cx="133.45" cy="267.35" r="0.65"/><circle cx="133.91" cy="266.69" r="0.65"/><circle cx="133.38" cy="265.97" r="0.65"/><circle cx="133.45" cy="265.25" r="0.65"/><circle cx="133.55" cy="264.53" r="0.65"/><circle cx="133.93" cy="263.81" r="0.65"/><circle cx="134.02" cy="263.08" r="0.65"/><circle cx="133.48" cy="262.36" r="0.65"/></g>
<g fill="#12a04a" fill-opacity="0.6"><circle cx="137.31" cy="325.80" r="0.65"/><circle cx="137.21" cy="325.41" r="0.65"/><circle cx="136.81" cy="325.02" r="0.65"/><circle cx="136.64" cy="324.62" r="0.65"/><circle cx="137.36" cy="324.23" r="0.65"/><circle cx="137.57" cy="323.84" r="0.65"/><circle cx="136.82" cy="323.21" r="0.65"/><circle cx="137.45" cy="322.55" r="0.65"/><circle cx="137.57" cy="321.89" r="0.65"/><circle cx="137.74" cy="321.23" r="0.65"/><circle cx="137.06" cy="320.57" r="0.65"/><circle cx="137.03" cy="319.91" r="0.65"/><circle cx="137.13" cy="319.25" r="0.65"/><circle cx="137.24" cy="318.59" r="0.65"/><circle cx="137.97" cy="317.93" r="0.65"/><circle cx="138.03" cy="317.27" r="0.65"/><circle cx="137.65" cy="316.61" r="0.65"/><circle cx="137.35" cy="315.95" r="0.65"/><circle cx="137.63" cy="315.29" r="0.65"/><circle cx="137.57" cy="314.63" r="0.65"/><circle cx="138.03" cy="313.97" r="0.65"/><circle cx="138.16" cy="313.31" r="0.65"/><circle cx="138.27" cy="312.65" r="0.65"/><circle cx="137.98" cy="311.99" r="0.65"/><circle cx="138.05" cy="311.33" r="0.65"/><circle cx="138.12" cy="310.67" r="0.65"/><circle cx="138.07" cy="310.01" r="0.65"/><circle cx="138.21" cy="309.35" r="0.65"/><circle cx="138.49" cy="308.69" r="0.65"/><circle cx="138.57" cy="308.03" r="0.65"/><circle cx="138.24" cy="307.37" r="0.65"/><circle cx="138.53" cy="306.71" r="0.65"/><circle cx="138.16" cy="306.05" r="0.65"/><circle cx="138.12" cy="305.39" r="0.65"/><circle cx="138.51" cy="304.73" r="0.65"/><circle cx="138.54" cy="304.12" r="0.65"/><circle cx="138.26" cy="303.57" r="0.65"/><circle cx="138.36" cy="303.01" r="0.65"/><circle cx="138.76" cy="302.46" r="0.65"/><circle cx="139.33" cy="301.91" r="0.65"/><circle cx="139.28" cy="301.35" r="0.65"/><circle cx="138.52" cy="300.80" r="0.65"/><circle cx="138.86" cy="300.24" r="0.65"/><circle cx="138.97" cy="299.69" r="0.65"/><circle cx="138.96" cy="299.13" r="0.65"/><circle cx="138.84" cy="298.58" r="0.65"/><circle cx="139.35" cy="298.02" r="0.65"/><circle cx="139.65" cy="297.47" r="0.65"/><circle cx="139.25" cy="296.92" r="0.65"/><circle cx="139.09" cy="296.36" r="0.65"/><circle cx="139.07" cy="295.81" r="0.65"/><circle cx="139.04" cy="295.25" r="0.65"/><circle cx="139.84" cy="294.70" r="0.65"/><circle cx="139.36" cy="294.14" r="0.65"/><circle cx="139.90" cy="293.59" r="0.65"/><circle cx="140.02" cy="293.03" r="0.65"/><circle cx="139.37" cy="292.48" r="0.65"/><circle cx="139.53" cy="291.93" r="0.65"/><circle cx="139.71" cy="291.37" r="0.65"/><circle cx="140.21" cy="290.82" r="0.65"/><circle cx="140.23" cy="290.26" r="0.65"/><circle cx="139.85" cy="289.71" r="0.65"/><circle cx="140.06" cy="289.15" r="0.65"/><circle cx="140.01" cy="288.60" r="0.65"/><circle cx="140.18" cy="288.04" r="0.65"/><circle cx="140.56" cy="287.49" r="0.65"/><circle cx="140.08" cy="286.94" r="0.65"/><circle cx="140.68" cy="286.38" r="0.65"/><circle cx="140.84" cy="285.83" r="0.65"/><circle cx="140.57" cy="285.28" r="0.65"/></g>
<g fill="#12a04a" fill-opacity="0.6"><circle cx="144.78" cy="304.69" r="0.65"/><circle cx="144.81" cy="304.06" r="0.65"/><circle cx="144.09" cy="303.44" r="0.65"/><circle cx="144.95" cy="302.81" r="0.65"/><circle cx="144.21" cy="302.19" r="0.65"/><circle cx="144.86" cy="301.56" r="0.65"/><circle cx="144.22" cy="300.93" r="0.65"/><circle cx="144.45" cy="300.25" r="0.65"/><circle cx="144.64" cy="299.57" r="0.65"/><circle cx="145.08" cy="298.90" r="0.65"/><circle cx="144.97" cy="298.22" r="0.65"/><circle cx="144.54" cy="297.54" r="0.65"/><circle cx="145.28" cy="296.86" r="0.65"/><circle cx="145.29" cy="296.18" r="0.65"/><circle cx="144.98" cy="295.50" r="0.65"/><circle cx="144.57" cy="294.82" r="0.65"/><circle cx="144.85" cy="294.15" r="0.65"/><circle cx="144.90" cy="293.47" r="0.65"/><circle cx="145.07" cy="292.79" r="0.65"/><circle cx="145.64" cy="292.11" r="0.65"/><circle cx="145.34" cy="291.43" r="0.65"/><circle cx="145.61" cy="290.75" r="0.65"/><circle cx="144.91" cy="290.07" r="0.65"/><circle cx="145.13" cy="289.40" r="0.65"/><circle cx="145.66" cy="288.72" r="0.65"/><circle cx="145.32" cy="288.04" r="0.65"/><circle cx="145.25" cy="287.36" r="0.65"/><circle cx="145.13" cy="286.68" r="0.65"/><circle cx="145.17" cy="286.00" r="0.65"/><circle cx="145.58" cy="285.32" r="0.65"/><circle cx="145.76" cy="284.65" r="0.65"/><circle cx="145.66" cy="283.97" r="0.65"/><circle cx="145.87" cy="283.29" r="0.65"/><circle cx="145.64" cy="282.61" r="0.65"/><circle cx="145.41" cy="281.93" r="0.65"/><circle cx="146.12" cy="281.25" r="0.65"/><circle cx="145.82" cy="280.57" r="0.65"/><circle cx="146.03" cy="279.90" r="0.65"/><circle cx="145.96" cy="279.22" r="0.65"/><circle cx="145.90" cy="278.54" r="0.65"/><circle cx="145.72" cy="277.88" r="0.65"/><circle cx="146.02" cy="277.23" r="0.65"/><circle cx="146.06" cy="276.58" r="0.65"/><circle cx="145.93" cy="275.93" r="0.65"/><circle cx="145.89" cy="275.28" r="0.65"/><circle cx="146.39" cy="274.63" r="0.65"/><circle cx="145.97" cy="273.98" r="0.65"/><circle cx="146.88" cy="273.33" r="0.65"/><circle cx="146.40" cy="272.69" r="0.65"/><circle cx="146.53" cy="272.04" r="0.65"/><circle cx="146.66" cy="271.39" r="0.65"/><circle cx="146.21" cy="270.74" r="0.65"/><circle cx="146.33" cy="270.09" r="0.65"/><circle cx="147.06" cy="269.44" r="0.65"/><circle cx="146.88" cy="268.79" r="0.65"/><circle cx="146.86" cy="268.14" r="0.65"/><circle cx="146.76" cy="267.49" r="0.65"/><circle cx="147.21" cy="266.85" r="0.65"/><circle cx="147.01" cy="266.20" r="0.65"/><circle cx="147.34" cy="265.55" r="0.65"/><circle cx="147.43" cy="264.90" r="0.65"/><circle cx="147.54" cy="264.25" r="0.65"/><circle cx="147.42" cy="263.60" r="0.65"/><circle cx="147.41" cy="262.95" r="0.65"/><circle cx="147.24" cy="262.30" r="0.65"/><circle cx="147.36" cy="261.66" r="0.65"/><circle cx="147.45" cy="261.01" r="0.65"/><circle cx="147.45" cy="260.36" r="0.65"/><circle cx="147.79" cy="259.71" r="0.65"/><circle cx="147.87" cy="259.06" r="0.65"/><circle cx="147.11" cy="258.41" r="0.65"/><circle cx="147.86" cy="257.76" r="0.65"/><circle cx="147.77" cy="257.11" r="0.65"/><circle cx="147.80" cy="256.46" r="0.65"/><circle cx="148.15" cy="255.50" r="0.65"/><circle cx="147.34" cy="254.50" r="0.65"/><circle cx="147.81" cy="253.50" r="0.65"/><circle cx="147.76" cy="252.50" r="0.65"/><circle cx="148.38" cy="251.50" r="0.65"/><circle cx="147.64" cy="250.50" r="0.65"/></g>
<g fill="#12a04a" fill-opacity="0.6"><circle cx="151.39" cy="304.69" r="0.65"/><circle cx="151.02" cy="304.06" r="0.65"/><circle cx="151.69" cy="303.44" r="0.65"/><circle cx="151.47" cy="302.81" r="0.65"/><circle cx="151.77" cy="302.19" r="0.65"/><circle cx="151.40" cy="301.56" r="0.65"/><circle cx="152.02" cy="300.93" r="0.65"/><circle cx="151.20" cy="300.26" r="0.65"/><circle cx="151.47" cy="299.59" r="0.65"/><circle cx="152.03" cy="298.91" r="0.65"/><circle cx="152.23" cy="298.24" r="0.65"/><circle cx="152.18" cy="297.57" r="0.65"/><circle cx="151.73" cy="296.90" r="0.65"/><circle cx="151.59" cy="296.22" r="0.65"/><circle cx="152.27" cy="295.55" r="0.65"/><circle cx="152.35" cy="294.88" r="0.65"/><circle cx="151.73" cy="294.21" r="0.65"/><circle cx="152.65" cy="293.53" r="0.65"/><circle cx="152.30" cy="292.86" r="0.65"/><circle cx="151.86" cy="292.19" r="0.65"/><circle cx="152.36" cy="291.52" r="0.65"/><circle cx="152.27" cy="290.84" r="0.65"/><circle cx="152.09" cy="290.17" r="0.65"/><circle cx="152.92" cy="289.50" r="0.65"/><circle cx="153.02" cy="288.83" r="0.65"/><circle cx="152.26" cy="288.15" r="0.65"/><circle cx="152.64" cy="287.48" r="0.65"/><circle cx="152.52" cy="286.81" r="0.65"/><circle cx="152.97" cy="286.14" r="0.65"/><circle cx="152.46" cy="285.46" r="0.65"/><circle cx="152.73" cy="284.79" r="0.65"/><circle cx="152.86" cy="284.12" r="0.65"/><circle cx="152.98" cy="283.44" r="0.65"/><circle cx="152.99" cy="282.77" r="0.65"/><circle cx="153.21" cy="282.10" r="0.65"/><circle cx="153.60" cy="281.43" r="0.65"/><circle cx="153.65" cy="280.75" r="0.65"/><circle cx="153.68" cy="280.08" r="0.65"/><circle cx="153.65" cy="279.41" r="0.65"/><circle cx="153.10" cy="278.74" r="0.65"/><circle cx="153.17" cy="277.98" r="0.65"/><circle cx="153.44" cy="277.13" r="0.65"/><circle cx="153.67" cy="276.29" r="0.65"/><circle cx="153.69" cy="275.44" r="0.65"/><circle cx="153.49" cy="274.60" r="0.65"/><circle cx="154.18" cy="273.75" r="0.65"/><circle cx="153.55" cy="272.91" r="0.65"/><circle cx="153.31" cy="272.06" r="0.65"/><circle cx="153.44" cy="271.22" r="0.65"/><circle cx="153.61" cy="270.37" r="0.65"/><circle cx="154.18" cy="269.52" r="0.65"/><circle cx="154.34" cy="268.68" r="0.65"/><circle cx="153.60" cy="267.83" r="0.65"/><circle cx="153.85" cy="266.99" r="0.65"/><circle cx="153.90" cy="266.14" r="0.65"/><circle cx="154.50" cy="265.30" r="0.65"/><circle cx="154.66" cy="264.45" r="0.65"/><circle cx="154.08" cy="263.61" r="0.65"/><circle cx="153.97" cy="262.76" r="0.65"/><circle cx="154.89" cy="261.92" r="0.65"/><circle cx="154.95" cy="261.07" r="0.65"/><circle cx="154.75" cy="260.23" r="0.65"/><circle cx="154.55" cy="259.38" r="0.65"/><circle cx="154.88" cy="258.54" r="0.65"/><circle cx="154.95" cy="257.69" r="0.65"/><circle cx="154.75" cy="256.85" r="0.65"/><circle cx="154.56" cy="256.00" r="0.65"/><circle cx="154.87" cy="255.16" r="0.65"/><circle cx="155.06" cy="254.31" r="0.65"/><circle cx="154.77" cy="253.47" r="0.65"/><circle cx="155.14" cy="252.62" r="0.65"/><circle cx="154.70" cy="251.78" r="0.65"/><circle cx="155.58" cy="250.93" r="0.65"/><circle cx="154.87" cy="250.08" r="0.65"/><circle cx="154.94" cy="248.79" r="0.65"/><circle cx="155.72" cy="247.45" r="0.65"/><circle cx="155.77" cy="246.10" r="0.65"/><circle cx="155.79" cy="244.76" r="0.65"/><circle cx="155.76" cy="243.42" r="0.65"/><circle cx="155.82" cy="242.07" r="0.65"/></g>
<g fill="#12a04a" fill-opacity="0.6"><circle cx="162.34" cy="299.89" r="0.65"/><circle cx="162.12" cy="299.68" r="0.65"/><circle cx="161.67" cy="299.46" r="0.65"/><circle cx="162.37" cy="299.25" r="0.65"/><circle cx="162.51" cy="299.04" r="0.65"/><circle cx="162.55" cy="298.82" r="0.65"/><circle cx="161.79" cy="298.14" r="0.65"/><circle cx="161.85" cy="297.40" r="0.65"/><circle cx="162.56" cy="296.66" r="0.65"/><circle cx="162.35" cy="295.92" r="0.65"/><circle cx="162.80" cy="295.18" r="0.65"/><circle cx="162.93" cy="294.45" r="0.65"/><circle cx="162.43" cy="293.71" r="0.65"/><circle cx="162.70" cy="292.97" r="0.65"/><circle cx="162.72" cy="292.23" r="0.65"/><circle cx="162.79" cy="291.49" r="0.65"/><circle cx="162.50" cy="290.75" r="0.65"/><circle cx="162.81" cy="290.02" r="0.65"/><circle cx="162.28" cy="289.28" r="0.65"/><circle cx="163.15" cy="288.54" r="0.65"/><circle cx="163.01" cy="287.80" r="0.65"/><circle cx="163.13" cy="287.06" r="0.65"/><circle cx="162.83" cy="286.33" r="0.65"/><circle cx="162.61" cy="285.59" r="0.65"/><circle cx="162.90" cy="284.85" r="0.65"/><circle cx="163.16" cy="284.11" r="0.65"/><circle cx="163.07" cy="283.37" r="0.65"/><circle cx="162.67" cy="282.64" r="0.65"/><circle cx="162.60" cy="281.90" r="0.65"/><circle cx="163.04" cy="281.16" r="0.65"/><circle cx="162.92" cy="280.42" r="0.65"/><circle cx="162.94" cy="279.68" r="0.65"/><circle cx="162.98" cy="278.95" r="0.65"/><circle cx="163.21" cy="278.21" r="0.65"/><circle cx="163.53" cy="277.47" r="0.65"/><circle cx="163.78" cy="276.89" r="0.65"/><circle cx="163.58" cy="276.48" r="0.65"/><circle cx="162.97" cy="276.07" r="0.65"/><circle cx="163.85" cy="275.66" r="0.65"/><circle cx="163.63" cy="275.25" r="0.65"/><circle cx="163.79" cy="274.84" r="0.65"/><circle cx="163.71" cy="274.42" r="0.65"/><circle cx="163.49" cy="274.01" r="0.65"/><circle cx="163.52" cy="273.60" r="0.65"/><circle cx="163.29" cy="273.19" r="0.65"/><circle cx="163.92" cy="272.78" r="0.65"/><circle cx="163.35" cy="272.37" r="0.65"/><circle cx="164.01" cy="271.96" r="0.65"/><circle cx="164.28" cy="271.54" r="0.65"/><circle cx="164.08" cy="271.13" r="0.65"/><circle cx="164.05" cy="270.72" r="0.65"/><circle cx="164.29" cy="270.31" r="0.65"/><circle cx="164.48" cy="269.90" r="0.65"/><circle cx="164.38" cy="269.49" r="0.65"/><circle cx="164.59" cy="269.07" r="0.65"/><circle cx="164.10" cy="268.66" r="0.65"/><circle cx="163.69" cy="268.25" r="0.65"/><circle cx="164.33" cy="267.84" r="0.65"/><circle cx="164.39" cy="267.43" r="0.65"/><circle cx="164.66" cy="267.02" r="0.65"/><circle cx="164.45" cy="266.61" r="0.65"/><circle cx="164.24" cy="266.19" r="0.65"/><circle cx="163.92" cy="265.78" r="0.65"/><circle cx="164.78" cy="265.37" r="0.65"/><circle cx="164.61" cy="264.96" r="0.65"/><circle cx="165.01" cy="264.59" r="0.65"/><circle cx="164.66" cy="264.21" r="0.65"/><circle cx="164.96" cy="263.84" r="0.65"/><circle cx="164.91" cy="263.46" r="0.65"/><circle cx="165.17" cy="263.09" r="0.65"/></g>
<g fill="#12a04a" fill-opacity="0.6"><circle cx="168.98" cy="325.85" r="0.65"/><circle cx="169.45" cy="325.54" r="0.65"/><circle cx="168.99" cy="325.24" r="0.65"/><circle cx="168.64" cy="324.94" r="0.65"/><circle cx="168.99" cy="324.63" r="0.65"/><circle cx="169.06" cy="324.33" r="0.65"/><circle cx="169.73" cy="323.75" r="0.65"/><circle cx="169.17" cy="323.14" r="0.65"/><circle cx="169.09" cy="322.52" r="0.65"/><circle cx="169.54" cy="321.91" r="0.65"/><circle cx="168.99" cy="321.30" r="0.65"/><circle cx="169.23" cy="320.69" r="0.65"/><circle cx="169.36" cy="320.08" r="0.65"/><circle cx="169.13" cy="319.46" r="0.65"/><circle cx="169.64" cy="318.85" r="0.65"/><circle cx="169.50" cy="318.24" r="0.65"/><circle cx="169.91" cy="317.63" r="0.65"/><circle cx="169.49" cy="317.01" r="0.65"/><circle cx="170.16" cy="316.40" r="0.65"/><circle cx="169.42" cy="315.79" r="0.65"/><circle cx="169.79" cy="315.18" r="0.65"/><circle cx="169.52" cy="314.57" r="0.65"/><circle cx="169.35" cy="313.95" r="0.65"/><circle cx="169.67" cy="313.34" r="0.65"/><circle cx="170.31" cy="312.73" r="0.65"/><circle cx="169.74" cy="312.12" r="0.65"/><circle cx="169.97" cy="311.50" r="0.65"/><circle cx="170.05" cy="310.89" r="0.65"/><circle cx="169.82" cy="310.28" r="0.65"/><circle cx="170.13" cy="309.67" r="0.65"/><circle cx="169.70" cy="309.06" r="0.65"/><circle cx="170.02" cy="308.44" r="0.65"/><circle cx="169.99" cy="307.83" r="0.65"/><circle cx="170.56" cy="307.22" r="0.65"/><circle cx="170.55" cy="306.61" r="0.65"/><circle cx="170.52" cy="306.14" r="0.65"/><circle cx="170.45" cy="305.83" r="0.65"/><circle cx="170.76" cy="305.51" r="0.65"/><circle cx="170.67" cy="305.19" r="0.65"/><circle cx="170.02" cy="304.88" r="0.65"/><circle cx="170.13" cy="304.56" r="0.65"/><circle cx="170.79" cy="304.24" r="0.65"/><circle cx="170.92" cy="303.93" r="0.65"/><circle cx="171.11" cy="303.61" r="0.65"/><circle cx="170.93" cy="303.29" r="0.65"/><circle cx="170.35" cy="302.98" r="0.65"/><circle cx="170.79" cy="302.66" r="0.65"/><circle cx="170.89" cy="302.35" r="0.65"/><circle cx="170.91" cy="302.03" r="0.65"/><circle cx="170.47" cy="301.71" r="0.65"/><circle cx="171.34" cy="301.40" r="0.65"/><circle cx="170.92" cy="301.08" r="0.65"/><circle cx="170.72" cy="300.76" r="0.65"/><circle cx="171.47" cy="300.45" r="0.65"/><circle cx="170.91" cy="300.13" r="0.65"/><circle cx="170.63" cy="299.82" r="0.65"/><circle cx="171.27" cy="299.50" r="0.65"/><circle cx="170.90" cy="299.18" r="0.65"/><circle cx="170.89" cy="298.87" r="0.65"/><circle cx="171.01" cy="298.55" r="0.65"/><circle cx="171.35" cy="298.23" r="0.65"/><circle cx="171.10" cy="297.92" r="0.65"/><circle cx="171.49" cy="297.60" r="0.65"/><circle cx="171.76" cy="297.28" r="0.65"/><circle cx="171.89" cy="296.99" r="0.65"/><circle cx="171.82" cy="296.94" r="0.65"/><circle cx="171.89" cy="296.89" r="0.65"/><circle cx="171.26" cy="296.83" r="0.65"/><circle cx="171.87" cy="296.78" r="0.65"/><circle cx="171.17" cy="296.73" r="0.65"/></g>
<g fill="#12a04a" fill-opacity="0.6"><circle cx="176.84" cy="289.83" r="0.65"/><circle cx="176.86" cy="288.88" r="0.65"/><circle cx="177.41" cy="287.69" r="0.65"/><circle cx="178.79" cy="286.26" r="0.65"/></g>
<g fill="#12a04a" fill-opacity="0.6"><circle cx="182.65" cy="299.82" r="0.65"/><circle cx="183.28" cy="299.46" r="0.65"/><circle cx="183.14" cy="299.10" r="0.65"/><circle cx="182.66" cy="298.74" r="0.65"/><circle cx="183.50" cy="298.38" r="0.65"/><circle cx="182.81" cy="298.02" r="0.65"/><circle cx="183.68" cy="297.63" r="0.65"/><circle cx="183.66" cy="296.98" r="0.65"/><circle cx="183.38" cy="296.33" r="0.65"/><circle cx="183.37" cy="295.68" r="0.65"/><circle cx="183.00" cy="295.03" r="0.65"/><circle cx="183.72" cy="294.38" r="0.65"/><circle cx="183.10" cy="293.72" r="0.65"/><circle cx="183.63" cy="293.07" r="0.65"/><circle cx="184.08" cy="292.42" r="0.65"/><circle cx="183.88" cy="291.77" r="0.65"/><circle cx="183.36" cy="291.12" r="0.65"/><circle cx="184.01" cy="290.47" r="0.65"/><circle cx="184.03" cy="289.81" r="0.65"/><circle cx="183.71" cy="289.16" r="0.65"/><circle cx="184.19" cy="288.51" r="0.65"/><circle cx="184.05" cy="287.86" r="0.65"/><circle cx="183.93" cy="287.21" r="0.65"/><circle cx="184.08" cy="286.55" r="0.65"/><circle cx="183.88" cy="285.90" r="0.65"/><circle cx="183.93" cy="285.25" r="0.65"/><circle cx="184.58" cy="284.60" r="0.65"/><circle cx="184.09" cy="283.95" r="0.65"/><circle cx="184.55" cy="283.30" r="0.65"/><circle cx="184.19" cy="282.64" r="0.65"/><circle cx="184.06" cy="281.99" r="0.65"/><circle cx="183.92" cy="281.34" r="0.65"/><circle cx="184.93" cy="280.69" r="0.65"/><circle cx="184.76" cy="280.04" r="0.65"/><circle cx="185.03" cy="279.38" r="0.65"/><circle cx="184.69" cy="278.73" r="0.65"/><circle cx="184.20" cy="278.08" r="0.65"/><circle cx="184.35" cy="277.43" r="0.65"/><circle cx="184.28" cy="276.78" r="0.65"/><circle cx="184.89" cy="276.13" r="0.65"/><circle cx="184.94" cy="275.54" r="0.65"/><circle cx="185.32" cy="275.01" r="0.65"/><circle cx="184.71" cy="274.48" r="0.65"/><circle cx="184.69" cy="273.95" r="0.65"/><circle cx="184.72" cy="273.42" r="0.65"/><circle cx="184.69" cy="272.89" r="0.65"/><circle cx="184.62" cy="272.36" r="0.65"/><circle cx="185.13" cy="271.83" r="0.65"/><circle cx="185.10" cy="271.30" r="0.65"/><circle cx="185.10" cy="270.77" r="0.65"/><circle cx="185.72" cy="270.24" r="0.65"/><circle cx="185.13" cy="269.71" r="0.65"/><circle cx="185.69" cy="269.18" r="0.65"/><circle cx="185.44" cy="268.65" r="0.65"/><circle cx="185.06" cy="268.12" r="0.65"/><circle cx="185.03" cy="267.59" r="0.65"/><circle cx="185.65" cy="267.06" r="0.65"/><circle cx="185.96" cy="266.53" r="0.65"/><circle cx="185.18" cy="266.00" r="0.65"/><circle cx="185.88" cy="265.47" r="0.65"/><circle cx="185.45" cy="264.94" r="0.65"/><circle cx="185.95" cy="264.41" r="0.65"/><circle cx="186.15" cy="263.88" r="0.65"/><circle cx="186.08" cy="263.35" r="0.65"/><circle cx="185.65" cy="262.82" r="0.65"/><circle cx="185.60" cy="262.29" r="0.65"/><circle cx="186.46" cy="261.76" r="0.65"/><circle cx="186.45" cy="261.23" r="0.65"/><circle cx="186.51" cy="260.70" r="0.65"/><circle cx="186.17" cy="260.17" r="0.65"/><circle cx="185.72" cy="259.64" r="0.65"/><circle cx="186.09" cy="259.11" r="0.65"/><circle cx="186.67" cy="258.58" r="0.65"/><circle cx="185.87" cy="258.05" r="0.65"/><circle cx="186.15" cy="257.48" r="0.65"/><circle cx="185.94" cy="256.90" r="0.65"/><circle cx="186.82" cy="256.32" r="0.65"/><circle cx="186.34" cy="255.75" r="0.65"/><circle cx="186.11" cy="255.17" r="0.65"/><circle cx="186.43" cy="254.59" r="0.65"/></g>
<g fill="#12a04a" fill-opacity="0.6"><circle cx="189.53" cy="309.88" r="0.65"/><circle cx="189.81" cy="309.65" r="0.65"/><circle cx="190.05" cy="309.41" r="0.65"/><circle cx="190.14" cy="309.18" r="0.65"/><circle cx="189.63" cy="308.95" r="0.65"/><circle cx="190.12" cy="308.71" r="0.65"/><circle cx="189.70" cy="308.42" r="0.65"/><circle cx="190.14" cy="307.65" r="0.65"/><circle cx="190.55" cy="306.87" r="0.65"/><circle cx="190.06" cy="306.09" r="0.65"/><circle cx="190.67" cy="305.32" r="0.65"/><circle cx="190.15" cy="304.54" r="0.65"/><circle cx="190.35" cy="303.76" r="0.65"/><circle cx="190.80" cy="302.98" r="0.65"/><circle cx="190.06" cy="302.21" r="0.65"/><circle cx="190.67" cy="301.43" r="0.65"/><circle cx="190.70" cy="300.65" r="0.65"/><circle cx="190.93" cy="299.88" r="0.65"/><circle cx="191.22" cy="299.10" r="0.65"/><circle cx="191.02" cy="298.32" r="0.65"/><circle cx="190.60" cy="297.55" r="0.65"/><circle cx="190.63" cy="296.77" r="0.65"/><circle cx="190.96" cy="295.99" r="0.65"/><circle cx="190.82" cy="295.22" r="0.65"/><circle cx="191.14" cy="294.44" r="0.65"/><circle cx="190.73" cy="293.66" r="0.65"/><circle cx="191.39" cy="292.89" r="0.65"/><circle cx="191.16" cy="292.11" r="0.65"/><circle cx="190.85" cy="291.33" r="0.65"/><circle cx="190.97" cy="290.56" r="0.65"/><circle cx="191.84" cy="289.78" r="0.65"/><circle cx="191.80" cy="289.00" r="0.65"/><circle cx="191.89" cy="288.23" r="0.65"/><circle cx="191.45" cy="287.45" r="0.65"/><circle cx="192.10" cy="286.67" r="0.65"/><circle cx="191.33" cy="285.90" r="0.65"/><circle cx="191.94" cy="285.12" r="0.65"/><circle cx="192.21" cy="284.34" r="0.65"/><circle cx="191.53" cy="283.57" r="0.65"/><circle cx="191.38" cy="282.79" r="0.65"/><circle cx="191.55" cy="282.07" r="0.65"/><circle cx="191.56" cy="281.40" r="0.65"/><circle cx="192.33" cy="280.73" r="0.65"/><circle cx="192.19" cy="280.07" r="0.65"/><circle cx="192.11" cy="279.40" r="0.65"/><circle cx="191.80" cy="278.73" r="0.65"/><circle cx="192.38" cy="278.07" r="0.65"/><circle cx="191.93" cy="277.40" r="0.65"/><circle cx="191.98" cy="276.73" r="0.65"/><circle cx="192.49" cy="276.07" r="0.65"/><circle cx="192.59" cy="275.40" r="0.65"/><circle cx="192.80" cy="274.73" r="0.65"/><circle cx="192.88" cy="274.07" r="0.65"/><circle cx="192.25" cy="273.40" r="0.65"/><circle cx="192.47" cy="272.73" r="0.65"/><circle cx="192.36" cy="272.07" r="0.65"/><circle cx="192.76" cy="271.40" r="0.65"/><circle cx="192.35" cy="270.73" r="0.65"/><circle cx="193.24" cy="270.07" r="0.65"/><circle cx="193.11" cy="269.40" r="0.65"/><circle cx="193.28" cy="268.73" r="0.65"/><circle cx="193.02" cy="268.07" r="0.65"/><circle cx="193.49" cy="267.40" r="0.65"/><circle cx="193.47" cy="266.73" r="0.65"/><circle cx="193.52" cy="266.07" r="0.65"/><circle cx="193.54" cy="265.40" r="0.65"/><circle cx="193.01" cy="264.73" r="0.65"/><circle cx="193.19" cy="264.07" r="0.65"/><circle cx="192.95" cy="263.40" r="0.65"/><circle cx="193.71" cy="262.73" r="0.65"/><circle cx="193.47" cy="262.07" r="0.65"/><circle cx="194.04" cy="261.40" r="0.65"/><circle cx="193.40" cy="260.73" r="0.65"/><circle cx="193.59" cy="260.07" r="0.65"/><circle cx="194.08" cy="259.49" r="0.65"/><circle cx="194.23" cy="258.93" r="0.65"/><circle cx="194.07" cy="258.37" r="0.65"/><circle cx="194.25" cy="257.81" r="0.65"/><circle cx="194.34" cy="257.24" r="0.65"/><circle cx="193.75" cy="256.68" r="0.65"/></g>
<g fill="#12a04a" fill-opacity="0.6"><circle cx="198.28" cy="273.69" r="0.65"/><circle cx="198.46" cy="272.50" r="0.65"/><circle cx="199.81" cy="271.31" r="0.65"/></g>
<g fill="#12a04a" fill-opacity="0.6"><circle cx="204.18" cy="314.55" r="0.65"/><circle cx="203.78" cy="313.65" r="0.65"/><circle cx="203.47" cy="312.74" r="0.65"/><circle cx="203.94" cy="311.84" r="0.65"/><circle cx="203.48" cy="310.94" r="0.65"/><circle cx="203.92" cy="310.03" r="0.65"/><circle cx="203.59" cy="309.13" r="0.65"/><circle cx="203.98" cy="308.28" r="0.65"/><circle cx="204.42" cy="307.53" r="0.65"/><circle cx="204.39" cy="306.79" r="0.65"/><circle cx="204.56" cy="306.05" r="0.65"/><circle cx="204.21" cy="305.30" r="0.65"/><circle cx="204.24" cy="304.56" r="0.65"/><circle cx="203.90" cy="303.82" r="0.65"/><circle cx="204.68" cy="303.07" r="0.65"/><circle cx="204.51" cy="302.33" r="0.65"/><circle cx="204.40" cy="301.59" r="0.65"/><circle cx="204.18" cy="300.84" r="0.65"/><circle cx="204.54" cy="300.10" r="0.65"/><circle cx="204.19" cy="299.36" r="0.65"/><circle cx="204.30" cy="298.61" r="0.65"/><circle cx="204.31" cy="297.87" r="0.65"/><circle cx="204.70" cy="297.13" r="0.65"/><circle cx="204.46" cy="296.38" r="0.65"/><circle cx="205.20" cy="295.64" r="0.65"/><circle cx="205.03" cy="294.90" r="0.65"/><circle cx="205.33" cy="294.15" r="0.65"/><circle cx="205.07" cy="293.41" r="0.65"/><circle cx="204.72" cy="292.67" r="0.65"/><circle cx="204.89" cy="291.92" r="0.65"/><circle cx="205.50" cy="291.18" r="0.65"/><circle cx="205.29" cy="290.44" r="0.65"/><circle cx="205.40" cy="289.69" r="0.65"/><circle cx="205.43" cy="288.95" r="0.65"/><circle cx="204.90" cy="288.21" r="0.65"/><circle cx="205.10" cy="287.46" r="0.65"/><circle cx="205.38" cy="286.72" r="0.65"/><circle cx="205.84" cy="285.98" r="0.65"/><circle cx="205.98" cy="285.23" r="0.65"/><circle cx="205.68" cy="284.49" r="0.65"/><circle cx="205.39" cy="283.75" r="0.65"/><circle cx="205.23" cy="283.00" r="0.65"/><circle cx="205.79" cy="282.26" r="0.65"/><circle cx="205.69" cy="281.52" r="0.65"/><circle cx="206.26" cy="280.77" r="0.65"/><circle cx="205.58" cy="280.08" r="0.65"/><circle cx="205.63" cy="279.43" r="0.65"/><circle cx="205.49" cy="278.79" r="0.65"/><circle cx="205.55" cy="278.14" r="0.65"/><circle cx="206.37" cy="277.50" r="0.65"/><circle cx="206.48" cy="276.85" r="0.65"/><circle cx="205.81" cy="276.20" r="0.65"/><circle cx="205.72" cy="275.56" r="0.65"/><circle cx="206.33" cy="274.91" r="0.65"/><circle cx="206.05" cy="274.27" r="0.65"/><circle cx="206.47" cy="273.62" r="0.65"/><circle cx="206.81" cy="272.98" r="0.65"/><circle cx="206.69" cy="272.33" r="0.65"/><circle cx="206.27" cy="271.69" r="0.65"/><circle cx="206.65" cy="271.04" r="0.65"/><circle cx="206.38" cy="270.39" r="0.65"/><circle cx="206.90" cy="269.75" r="0.65"/><circle cx="206.44" cy="269.10" r="0.65"/><circle cx="207.10" cy="268.46" r="0.65"/><circle cx="206.96" cy="267.81" r="0.65"/><circle cx="207.22" cy="267.17" r="0.65"/><circle cx="206.72" cy="266.52" r="0.65"/><circle cx="207.38" cy="265.88" r="0.65"/><circle cx="207.06" cy="265.23" r="0.65"/><circle cx="206.78" cy="264.59" r="0.65"/><circle cx="207.22" cy="263.94" r="0.65"/><circle cx="206.93" cy="263.29" r="0.65"/><circle cx="206.78" cy="262.65" r="0.65"/><circle cx="206.75" cy="262.00" r="0.65"/><circle cx="207.37" cy="261.36" r="0.65"/><circle cx="207.05" cy="260.71" r="0.65"/><circle cx="206.96" cy="260.07" r="0.65"/><circle cx="207.68" cy="259.42" r="0.65"/><circle cx="207.09" cy="258.78" r="0.65"/><circle cx="207.75" cy="258.13" r="0.65"/><circle cx="207.32" cy="257.48" r="0.65"/><circle cx="207.46" cy="256.84" r="0.65"/><circle cx="208.07" cy="256.19" r="0.65"/><circle cx="208.02" cy="255.52" r="0.65"/><circle cx="208.07" cy="254.84" r="0.65"/><circle cx="208.27" cy="254.16" r="0.65"/><circle cx="207.94" cy="253.48" r="0.65"/><circle cx="208.32" cy="252.80" r="0.65"/><circle cx="208.05" cy="252.12" r="0.65"/><circle cx="208.06" cy="251.44" r="0.65"/></g>
<g fill="#12a04a" fill-opacity="0.6"><circle cx="211.05" cy="320.38" r="0.65"/><circle cx="211.15" cy="319.12" r="0.65"/><circle cx="211.39" cy="317.88" r="0.65"/><circle cx="211.11" cy="316.62" r="0.65"/><circle cx="211.56" cy="315.38" r="0.65"/><circle cx="211.83" cy="314.12" r="0.65"/><circle cx="211.73" cy="312.88" r="0.65"/><circle cx="211.28" cy="311.85" r="0.65"/><circle cx="211.13" cy="311.36" r="0.65"/><circle cx="211.52" cy="310.87" r="0.65"/><circle cx="211.64" cy="310.38" r="0.65"/><circle cx="212.10" cy="309.88" r="0.65"/><circle cx="211.84" cy="309.39" r="0.65"/><circle cx="211.86" cy="308.90" r="0.65"/><circle cx="212.00" cy="308.41" r="0.65"/><circle cx="211.99" cy="307.92" r="0.65"/><circle cx="212.17" cy="307.42" r="0.65"/><circle cx="212.09" cy="306.93" r="0.65"/><circle cx="212.14" cy="306.44" r="0.65"/><circle cx="211.87" cy="305.95" r="0.65"/><circle cx="211.80" cy="305.46" r="0.65"/><circle cx="212.17" cy="304.96" r="0.65"/><circle cx="212.66" cy="304.47" r="0.65"/><circle cx="212.77" cy="303.98" r="0.65"/><circle cx="212.16" cy="303.49" r="0.65"/><circle cx="212.49" cy="303.00" r="0.65"/><circle cx="212.48" cy="302.50" r="0.65"/><circle cx="212.47" cy="302.01" r="0.65"/><circle cx="212.24" cy="301.52" r="0.65"/><circle cx="212.90" cy="301.03" r="0.65"/><circle cx="212.24" cy="300.53" r="0.65"/><circle cx="212.43" cy="300.04" r="0.65"/><circle cx="212.53" cy="299.55" r="0.65"/><circle cx="212.50" cy="299.06" r="0.65"/><circle cx="212.54" cy="298.57" r="0.65"/><circle cx="212.48" cy="298.07" r="0.65"/><circle cx="212.97" cy="297.58" r="0.65"/><circle cx="212.66" cy="297.09" r="0.65"/><circle cx="213.18" cy="296.60" r="0.65"/><circle cx="213.19" cy="296.11" r="0.65"/><circle cx="213.26" cy="295.61" r="0.65"/><circle cx="213.16" cy="295.12" r="0.65"/><circle cx="213.34" cy="294.63" r="0.65"/><circle cx="213.07" cy="294.14" r="0.65"/><circle cx="213.29" cy="293.65" r="0.65"/><circle cx="213.56" cy="293.16" r="0.65"/><circle cx="213.14" cy="292.67" r="0.65"/><circle cx="213.70" cy="292.18" r="0.65"/><circle cx="213.60" cy="291.70" r="0.65"/><circle cx="214.04" cy="291.21" r="0.65"/><circle cx="213.73" cy="290.72" r="0.65"/><circle cx="213.71" cy="290.24" r="0.65"/><circle cx="213.98" cy="289.75" r="0.65"/><circle cx="213.54" cy="289.26" r="0.65"/><circle cx="213.68" cy="288.78" r="0.65"/><circle cx="213.78" cy="288.29" r="0.65"/><circle cx="214.13" cy="287.80" r="0.65"/><circle cx="214.17" cy="287.32" r="0.65"/><circle cx="213.68" cy="286.83" r="0.65"/><circle cx="214.50" cy="286.34" r="0.65"/><circle cx="214.57" cy="285.86" r="0.65"/><circle cx="214.13" cy="285.37" r="0.65"/><circle cx="214.68" cy="284.88" r="0.65"/><circle cx="214.36" cy="284.39" r="0.65"/><circle cx="214.17" cy="283.91" r="0.65"/><circle cx="213.92" cy="283.42" r="0.65"/><circle cx="213.89" cy="282.93" r="0.65"/><circle cx="214.52" cy="282.45" r="0.65"/><circle cx="214.69" cy="281.96" r="0.65"/><circle cx="214.64" cy="281.47" r="0.65"/><circle cx="214.85" cy="280.99" r="0.65"/><circle cx="214.55" cy="280.50" r="0.65"/><circle cx="214.91" cy="280.01" r="0.65"/><circle cx="214.82" cy="279.53" r="0.65"/><circle cx="214.89" cy="279.04" r="0.65"/><circle cx="214.86" cy="278.55" r="0.65"/><circle cx="215.02" cy="278.07" r="0.65"/><circle cx="214.96" cy="277.58" r="0.65"/><circle cx="214.54" cy="277.09" r="0.65"/><circle cx="215.17" cy="276.61" r="0.65"/><circle cx="215.25" cy="276.12" r="0.65"/><circle cx="215.02" cy="275.63" r="0.65"/><circle cx="215.61" cy="275.15" r="0.65"/><circle cx="215.17" cy="274.51" r="0.65"/><circle cx="214.90" cy="273.82" r="0.65"/><circle cx="215.30" cy="273.12" r="0.65"/><circle cx="215.19" cy="272.43" r="0.65"/><circle cx="215.05" cy="271.74" r="0.65"/><circle cx="215.82" cy="271.04" r="0.65"/><circle cx="215.15" cy="270.35" r="0.65"/></g>
<g fill="#12a04a" fill-opacity="0.6"><circle cx="219.04" cy="257.50" r="0.65"/><circle cx="218.55" cy="256.50" r="0.65"/><circle cx="218.95" cy="255.50" r="0.65"/><circle cx="219.48" cy="254.50" r="0.65"/><circle cx="218.63" cy="253.50" r="0.65"/><circle cx="219.45" cy="252.98" r="0.65"/><circle cx="218.65" cy="252.66" r="0.65"/><circle cx="219.68" cy="252.34" r="0.65"/><circle cx="219.66" cy="252.03" r="0.65"/><circle cx="219.26" cy="251.71" r="0.65"/><circle cx="219.50" cy="251.39" r="0.65"/><circle cx="219.37" cy="251.07" r="0.65"/><circle cx="219.13" cy="250.76" r="0.65"/><circle cx="219.38" cy="250.44" r="0.65"/><circle cx="219.51" cy="250.12" r="0.65"/><circle cx="220.00" cy="249.80" r="0.65"/><circle cx="219.29" cy="249.49" r="0.65"/><circle cx="219.77" cy="249.17" r="0.65"/><circle cx="219.76" cy="248.85" r="0.65"/><circle cx="219.89" cy="248.53" r="0.65"/><circle cx="220.19" cy="248.22" r="0.65"/><circle cx="220.05" cy="247.90" r="0.65"/><circle cx="219.82" cy="247.58" r="0.65"/><circle cx="220.51" cy="247.26" r="0.65"/><circle cx="220.21" cy="246.95" r="0.65"/><circle cx="219.93" cy="246.63" r="0.65"/><circle cx="220.26" cy="246.31" r="0.65"/><circle cx="220.63" cy="245.99" r="0.65"/><circle cx="219.87" cy="245.68" r="0.65"/><circle cx="220.52" cy="245.36" r="0.65"/><circle cx="220.41" cy="244.90" r="0.65"/><circle cx="220.27" cy="244.30" r="0.65"/><circle cx="220.19" cy="243.69" r="0.65"/><circle cx="220.32" cy="243.09" r="0.65"/><circle cx="220.58" cy="242.49" r="0.65"/><circle cx="220.62" cy="241.88" r="0.65"/><circle cx="220.85" cy="241.28" r="0.65"/><circle cx="220.57" cy="240.68" r="0.65"/><circle cx="220.97" cy="240.07" r="0.65"/><circle cx="220.88" cy="239.47" r="0.65"/><circle cx="221.26" cy="238.87" r="0.65"/><circle cx="221.32" cy="238.26" r="0.65"/><circle cx="220.80" cy="237.66" r="0.65"/><circle cx="221.60" cy="237.06" r="0.65"/><circle cx="221.22" cy="236.45" r="0.65"/><circle cx="221.06" cy="235.85" r="0.65"/><circle cx="221.03" cy="235.25" r="0.65"/><circle cx="221.55" cy="234.64" r="0.65"/><circle cx="221.32" cy="234.04" r="0.65"/><circle cx="221.62" cy="233.44" r="0.65"/><circle cx="221.25" cy="232.83" r="0.65"/><circle cx="221.91" cy="232.23" r="0.65"/><circle cx="221.36" cy="231.63" r="0.65"/><circle cx="222.02" cy="231.03" r="0.65"/><circle cx="221.65" cy="230.42" r="0.65"/><circle cx="221.66" cy="229.69" r="0.65"/><circle cx="221.89" cy="228.65" r="0.65"/><circle cx="221.89" cy="227.60" r="0.65"/><circle cx="221.97" cy="226.56" r="0.65"/><circle cx="222.03" cy="225.52" r="0.65"/></g>
<g fill="#12a04a" fill-opacity="0.6"><circle cx="225.07" cy="294.74" r="0.65"/><circle cx="224.91" cy="294.23" r="0.65"/><circle cx="224.31" cy="293.72" r="0.65"/><circle cx="225.26" cy="293.20" r="0.65"/><circle cx="224.33" cy="292.69" r="0.65"/><circle cx="224.42" cy="292.17" r="0.65"/><circle cx="225.23" cy="291.66" r="0.65"/><circle cx="224.73" cy="291.12" r="0.65"/><circle cx="224.54" cy="290.51" r="0.65"/><circle cx="224.73" cy="289.89" r="0.65"/><circle cx="225.10" cy="289.28" r="0.65"/><circle cx="225.49" cy="288.67" r="0.65"/><circle cx="224.72" cy="288.06" r="0.65"/><circle cx="224.91" cy="287.45" r="0.65"/><circle cx="224.81" cy="286.84" r="0.65"/><circle cx="224.89" cy="286.23" r="0.65"/><circle cx="225.20" cy="285.62" r="0.65"/><circle cx="225.43" cy="285.01" r="0.65"/><circle cx="225.95" cy="284.39" r="0.65"/><circle cx="225.68" cy="283.78" r="0.65"/><circle cx="225.93" cy="283.17" r="0.65"/><circle cx="225.72" cy="282.56" r="0.65"/><circle cx="226.09" cy="281.95" r="0.65"/><circle cx="225.90" cy="281.34" r="0.65"/><circle cx="225.51" cy="280.73" r="0.65"/><circle cx="225.69" cy="280.12" r="0.65"/><circle cx="225.85" cy="279.51" r="0.65"/><circle cx="225.52" cy="278.89" r="0.65"/><circle cx="226.39" cy="278.28" r="0.65"/><circle cx="225.99" cy="277.67" r="0.65"/><circle cx="225.76" cy="277.06" r="0.65"/><circle cx="226.10" cy="276.45" r="0.65"/><circle cx="226.46" cy="275.84" r="0.65"/><circle cx="225.97" cy="275.23" r="0.65"/><circle cx="226.34" cy="274.62" r="0.65"/><circle cx="225.89" cy="274.01" r="0.65"/><circle cx="226.09" cy="273.39" r="0.65"/><circle cx="226.08" cy="272.78" r="0.65"/><circle cx="226.44" cy="272.17" r="0.65"/><circle cx="226.67" cy="271.56" r="0.65"/><circle cx="226.26" cy="270.95" r="0.65"/><circle cx="226.77" cy="270.34" r="0.65"/><circle cx="226.72" cy="269.73" r="0.65"/><circle cx="226.93" cy="269.12" r="0.65"/><circle cx="227.22" cy="268.51" r="0.65"/><circle cx="226.61" cy="267.99" r="0.65"/><circle cx="227.32" cy="267.56" r="0.65"/><circle cx="226.82" cy="267.13" r="0.65"/><circle cx="226.93" cy="266.70" r="0.65"/><circle cx="226.64" cy="266.27" r="0.65"/><circle cx="226.60" cy="265.84" r="0.65"/><circle cx="227.21" cy="265.41" r="0.65"/><circle cx="226.71" cy="264.99" r="0.65"/><circle cx="226.69" cy="264.56" r="0.65"/><circle cx="226.79" cy="264.13" r="0.65"/><circle cx="227.29" cy="263.70" r="0.65"/><circle cx="227.00" cy="263.27" r="0.65"/><circle cx="227.11" cy="262.84" r="0.65"/><circle cx="227.66" cy="262.41" r="0.65"/><circle cx="227.39" cy="261.99" r="0.65"/><circle cx="227.14" cy="261.56" r="0.65"/><circle cx="227.72" cy="261.13" r="0.65"/><circle cx="228.08" cy="260.70" r="0.65"/><circle cx="227.76" cy="260.27" r="0.65"/><circle cx="227.63" cy="259.84" r="0.65"/><circle cx="227.77" cy="259.41" r="0.65"/><circle cx="227.98" cy="258.99" r="0.65"/><circle cx="228.16" cy="258.56" r="0.65"/><circle cx="228.16" cy="258.13" r="0.65"/><circle cx="227.67" cy="257.70" r="0.65"/><circle cx="228.25" cy="257.27" r="0.65"/><circle cx="227.62" cy="256.84" r="0.65"/><circle cx="227.69" cy="256.41" r="0.65"/><circle cx="228.12" cy="255.99" r="0.65"/><circle cx="227.84" cy="255.56" r="0.65"/><circle cx="228.27" cy="255.13" r="0.65"/><circle cx="228.04" cy="254.70" r="0.65"/><circle cx="228.75" cy="254.27" r="0.65"/><circle cx="228.28" cy="253.84" r="0.65"/><circle cx="228.71" cy="253.41" r="0.65"/><circle cx="228.89" cy="252.99" r="0.65"/><circle cx="228.45" cy="252.56" r="0.65"/><circle cx="228.81" cy="252.13" r="0.65"/><circle cx="228.58" cy="251.60" r="0.65"/><circle cx="228.54" cy="251.03" r="0.65"/><circle cx="228.31" cy="250.46" r="0.65"/><circle cx="228.89" cy="249.89" r="0.65"/><circle cx="229.20" cy="249.32" r="0.65"/><circle cx="229.02" cy="248.75" r="0.65"/><circle cx="228.69" cy="248.18" r="0.65"/></g>
<g fill="#12a04a" fill-opacity="0.6"><circle cx="232.25" cy="347.42" r="0.65"/><circle cx="232.13" cy="347.06" r="0.65"/><circle cx="232.21" cy="346.70" r="0.65"/><circle cx="232.64" cy="346.34" r="0.65"/><circle cx="231.92" cy="345.98" r="0.65"/><circle cx="232.44" cy="345.61" r="0.65"/><circle cx="232.52" cy="345.25" r="0.65"/><circle cx="232.20" cy="344.77" r="0.65"/><circle cx="232.83" cy="344.01" r="0.65"/><circle cx="232.40" cy="343.25" r="0.65"/><circle cx="232.59" cy="342.49" r="0.65"/><circle cx="232.48" cy="341.74" r="0.65"/><circle cx="232.88" cy="340.98" r="0.65"/><circle cx="232.76" cy="340.22" r="0.65"/><circle cx="233.06" cy="339.46" r="0.65"/><circle cx="232.85" cy="338.70" r="0.65"/><circle cx="233.25" cy="337.94" r="0.65"/><circle cx="233.07" cy="337.18" r="0.65"/><circle cx="232.67" cy="336.42" r="0.65"/><circle cx="233.10" cy="335.66" r="0.65"/><circle cx="232.91" cy="334.90" r="0.65"/><circle cx="233.00" cy="334.14" r="0.65"/><circle cx="233.70" cy="333.38" r="0.65"/><circle cx="233.28" cy="332.62" r="0.65"/><circle cx="233.58" cy="331.86" r="0.65"/><circle cx="233.05" cy="331.11" r="0.65"/><circle cx="233.57" cy="330.35" r="0.65"/><circle cx="233.10" cy="329.59" r="0.65"/><circle cx="233.25" cy="328.83" r="0.65"/><circle cx="233.20" cy="328.07" r="0.65"/><circle cx="233.15" cy="327.31" r="0.65"/><circle cx="234.08" cy="326.55" r="0.65"/><circle cx="234.18" cy="325.79" r="0.65"/><circle cx="233.63" cy="325.03" r="0.65"/><circle cx="233.32" cy="324.27" r="0.65"/><circle cx="234.09" cy="323.51" r="0.65"/><circle cx="234.07" cy="322.75" r="0.65"/><circle cx="233.50" cy="321.99" r="0.65"/><circle cx="234.26" cy="321.24" r="0.65"/><circle cx="233.61" cy="320.48" r="0.65"/><circle cx="233.82" cy="319.72" r="0.65"/><circle cx="234.42" cy="318.96" r="0.65"/><circle cx="234.45" cy="318.20" r="0.65"/><circle cx="233.96" cy="317.44" r="0.65"/><circle cx="234.28" cy="316.68" r="0.65"/><circle cx="234.62" cy="315.62" r="0.65"/><circle cx="234.47" cy="314.26" r="0.65"/><circle cx="234.44" cy="312.91" r="0.65"/><circle cx="234.15" cy="311.55" r="0.65"/><circle cx="234.08" cy="310.19" r="0.65"/><circle cx="234.24" cy="308.84" r="0.65"/><circle cx="234.63" cy="307.48" r="0.65"/><circle cx="234.75" cy="306.12" r="0.65"/><circle cx="234.66" cy="304.76" r="0.65"/><circle cx="234.88" cy="303.41" r="0.65"/><circle cx="234.85" cy="302.05" r="0.65"/><circle cx="234.98" cy="300.69" r="0.65"/><circle cx="234.79" cy="299.34" r="0.65"/><circle cx="235.27" cy="297.98" r="0.65"/><circle cx="235.01" cy="296.62" r="0.65"/><circle cx="235.40" cy="295.26" r="0.65"/><circle cx="235.56" cy="293.91" r="0.65"/><circle cx="235.44" cy="292.55" r="0.65"/><circle cx="235.44" cy="291.19" r="0.65"/><circle cx="235.40" cy="289.84" r="0.65"/><circle cx="235.31" cy="288.48" r="0.65"/><circle cx="235.05" cy="287.12" r="0.65"/><circle cx="234.95" cy="285.76" r="0.65"/><circle cx="235.56" cy="284.41" r="0.65"/><circle cx="235.19" cy="283.05" r="0.65"/><circle cx="235.60" cy="281.69" r="0.65"/><circle cx="235.59" cy="280.34" r="0.65"/><circle cx="235.69" cy="278.98" r="0.65"/><circle cx="235.56" cy="277.62" r="0.65"/><circle cx="235.42" cy="276.26" r="0.65"/><circle cx="235.53" cy="274.91" r="0.65"/><circle cx="235.97" cy="273.55" r="0.65"/><circle cx="236.20" cy="272.19" r="0.65"/><circle cx="235.68" cy="270.84" r="0.65"/><circle cx="235.72" cy="269.48" r="0.65"/><circle cx="235.90" cy="268.12" r="0.65"/><circle cx="235.93" cy="266.76" r="0.65"/><circle cx="236.18" cy="265.41" r="0.65"/><circle cx="236.35" cy="263.76" r="0.65"/><circle cx="236.41" cy="261.98" r="0.65"/><circle cx="236.50" cy="260.20" r="0.65"/><circle cx="236.46" cy="258.42" r="0.65"/><circle cx="236.76" cy="256.64" r="0.65"/><circle cx="236.28" cy="254.87" r="0.65"/><circle cx="236.32" cy="253.09" r="0.65"/></g>
<g fill="#12a04a" fill-opacity="0.6"><circle cx="239.88" cy="284.76" r="0.65"/><circle cx="239.61" cy="284.28" r="0.65"/><circle cx="240.18" cy="283.80" r="0.65"/><circle cx="239.83" cy="283.32" r="0.65"/><circle cx="240.03" cy="282.84" r="0.65"/><circle cx="240.06" cy="282.37" r="0.65"/><circle cx="239.96" cy="281.89" r="0.65"/><circle cx="239.67" cy="281.41" r="0.65"/><circle cx="240.00" cy="280.94" r="0.65"/><circle cx="240.26" cy="280.46" r="0.65"/><circle cx="240.80" cy="279.99" r="0.65"/><circle cx="240.05" cy="279.51" r="0.65"/><circle cx="240.87" cy="279.03" r="0.65"/><circle cx="241.01" cy="278.56" r="0.65"/><circle cx="240.89" cy="278.08" r="0.65"/><circle cx="240.44" cy="277.60" r="0.65"/><circle cx="240.24" cy="277.13" r="0.65"/><circle cx="241.16" cy="276.65" r="0.65"/><circle cx="240.41" cy="276.18" r="0.65"/><circle cx="240.70" cy="275.70" r="0.65"/><circle cx="241.40" cy="275.22" r="0.65"/><circle cx="241.20" cy="274.75" r="0.65"/><circle cx="241.41" cy="274.27" r="0.65"/><circle cx="241.48" cy="273.80" r="0.65"/><circle cx="240.89" cy="273.32" r="0.65"/><circle cx="241.28" cy="272.84" r="0.65"/><circle cx="240.93" cy="272.37" r="0.65"/><circle cx="241.27" cy="271.89" r="0.65"/><circle cx="241.45" cy="271.41" r="0.65"/><circle cx="241.84" cy="270.94" r="0.65"/><circle cx="241.37" cy="270.49" r="0.65"/><circle cx="241.81" cy="270.06" r="0.65"/><circle cx="241.35" cy="269.64" r="0.65"/><circle cx="241.52" cy="269.21" r="0.65"/><circle cx="241.39" cy="268.79" r="0.65"/><circle cx="241.97" cy="268.36" r="0.65"/><circle cx="242.04" cy="267.94" r="0.65"/><circle cx="242.23" cy="267.52" r="0.65"/><circle cx="241.99" cy="267.09" r="0.65"/><circle cx="242.57" cy="266.67" r="0.65"/><circle cx="242.42" cy="266.24" r="0.65"/><circle cx="242.33" cy="265.82" r="0.65"/><circle cx="242.69" cy="265.39" r="0.65"/><circle cx="242.06" cy="264.97" r="0.65"/><circle cx="242.24" cy="264.54" r="0.65"/><circle cx="242.56" cy="264.12" r="0.65"/><circle cx="242.67" cy="263.69" r="0.65"/><circle cx="243.08" cy="263.27" r="0.65"/><circle cx="242.87" cy="262.84" r="0.65"/><circle cx="242.30" cy="262.42" r="0.65"/><circle cx="243.26" cy="262.00" r="0.65"/><circle cx="242.84" cy="261.57" r="0.65"/><circle cx="242.64" cy="261.15" r="0.65"/><circle cx="243.26" cy="260.72" r="0.65"/><circle cx="243.19" cy="260.30" r="0.65"/><circle cx="243.48" cy="259.77" r="0.65"/><circle cx="243.24" cy="259.02" r="0.65"/><circle cx="243.00" cy="258.27" r="0.65"/><circle cx="243.28" cy="257.52" r="0.65"/><circle cx="243.34" cy="256.77" r="0.65"/></g>
<g fill="#12a04a" fill-opacity="0.6"><circle cx="246.52" cy="284.52" r="0.65"/><circle cx="246.87" cy="283.56" r="0.65"/><circle cx="246.57" cy="282.61" r="0.65"/><circle cx="246.80" cy="281.70" r="0.65"/><circle cx="246.79" cy="280.78" r="0.65"/><circle cx="246.82" cy="279.87" r="0.65"/><circle cx="247.45" cy="278.96" r="0.65"/><circle cx="247.79" cy="278.05" r="0.65"/><circle cx="247.58" cy="277.13" r="0.65"/><circle cx="248.21" cy="276.22" r="0.65"/><circle cx="248.04" cy="275.31" r="0.65"/><circle cx="248.22" cy="274.39" r="0.65"/><circle cx="247.97" cy="273.48" r="0.65"/><circle cx="248.71" cy="272.57" r="0.65"/><circle cx="248.28" cy="271.66" r="0.65"/><circle cx="248.91" cy="270.76" r="0.65"/><circle cx="248.43" cy="269.87" r="0.65"/><circle cx="249.27" cy="268.98" r="0.65"/><circle cx="249.13" cy="268.09" r="0.65"/><circle cx="248.75" cy="267.20" r="0.65"/><circle cx="249.43" cy="266.31" r="0.65"/><circle cx="248.98" cy="265.42" r="0.65"/><circle cx="249.34" cy="264.53" r="0.65"/><circle cx="249.46" cy="263.64" r="0.65"/><circle cx="249.54" cy="262.76" r="0.65"/><circle cx="249.69" cy="261.87" r="0.65"/><circle cx="249.62" cy="260.98" r="0.65"/><circle cx="249.98" cy="260.09" r="0.65"/><circle cx="249.80" cy="258.65" r="0.65"/><circle cx="250.63" cy="257.15" r="0.65"/></g>
<line x1="28.00" y1="276.3" x2="30.80" y2="276.3" stroke="#222" stroke-width="1.15"/>
<line x1="34.45" y1="279.3" x2="37.25" y2="279.3" stroke="#222" stroke-width="1.15"/>
<line x1="41.95" y1="263.4" x2="44.75" y2="263.4" stroke="#222" stroke-width="1.15"/>
<line x1="48.65" y1="272.3" x2="51.45" y2="272.3" stroke="#222" stroke-width="1.15"/>
<line x1="55.90" y1="277.4" x2="58.70" y2="277.4" stroke="#222" stroke-width="1.15"/>
<line x1="62.85" y1="273.1" x2="65.65" y2="273.1" stroke="#222" stroke-width="1.15"/>
<line x1="69.55" y1="281.4" x2="72.35" y2="281.4" stroke="#222" stroke-width="1.15"/>
<line x1="76.80" y1="272.5" x2="79.60" y2="272.5" stroke="#222" stroke-width="1.15"/>
<line x1="83.75" y1="260.2" x2="86.55" y2="260.2" stroke="#222" stroke-width="1.15"/>
<line x1="90.75" y1="276.8" x2="93.55" y2="276.8" stroke="#222" stroke-width="1.15"/>
<line x1="98.50" y1="278.4" x2="101.30" y2="278.4" stroke="#222" stroke-width="1.15"/>
<line x1="105.35" y1="257.3" x2="108.15" y2="257.3" stroke="#222" stroke-width="1.15"/>
<line x1="112.90" y1="283.3" x2="115.70" y2="283.3" stroke="#222" stroke-width="1.15"/>
<line x1="119.75" y1="264.3" x2="122.55" y2="264.3" stroke="#222" stroke-width="1.15"/>
<line x1="126.50" y1="267.2" x2="129.30" y2="267.2" stroke="#222" stroke-width="1.15"/>
<line x1="133.80" y1="287.9" x2="136.60" y2="287.9" stroke="#222" stroke-width="1.15"/>
<line x1="141.00" y1="275.4" x2="143.80" y2="275.4" stroke="#222" stroke-width="1.15"/>
<line x1="148.00" y1="276.5" x2="150.80" y2="276.5" stroke="#222" stroke-width="1.15"/>
<line x1="154.65" y1="273.3" x2="157.45" y2="273.3" stroke="#222" stroke-width="1.15"/>
<line x1="158.65" y1="284.9" x2="161.45" y2="284.9" stroke="#222" stroke-width="1.15"/>
<line x1="165.30" y1="277.4" x2="168.10" y2="277.4" stroke="#222" stroke-width="1.15"/>
<line x1="172.85" y1="277.1" x2="175.65" y2="277.1" stroke="#222" stroke-width="1.15"/>
<line x1="179.85" y1="277.1" x2="182.65" y2="277.1" stroke="#222" stroke-width="1.15"/>
<line x1="186.80" y1="272.5" x2="189.60" y2="272.5" stroke="#222" stroke-width="1.15"/>
<line x1="193.75" y1="266.6" x2="196.55" y2="266.6" stroke="#222" stroke-width="1.15"/>
<line x1="201.00" y1="277.4" x2="203.80" y2="277.4" stroke="#222" stroke-width="1.15"/>
<line x1="207.95" y1="274.4" x2="210.75" y2="274.4" stroke="#222" stroke-width="1.15"/>
<line x1="215.75" y1="265.3" x2="218.55" y2="265.3" stroke="#222" stroke-width="1.15"/>
<line x1="221.80" y1="271.8" x2="224.60" y2="271.8" stroke="#222" stroke-width="1.15"/>
<line x1="229.15" y1="272.5" x2="231.95" y2="272.5" stroke="#222" stroke-width="1.15"/>
<line x1="236.65" y1="273.1" x2="239.45" y2="273.1" stroke="#222" stroke-width="1.15"/>
<line x1="243.60" y1="276.3" x2="246.40" y2="276.3" stroke="#222" stroke-width="1.15"/>
<line x1="250.60" y1="297.4" x2="253.40" y2="297.4" stroke="#222" stroke-width="1.15"/>
<line x1="30.95" y1="284.3" x2="33.75" y2="284.3" stroke="#222" stroke-width="1.15"/>
<line x1="37.65" y1="274.1" x2="40.45" y2="274.1" stroke="#222" stroke-width="1.15"/>
<line x1="45.15" y1="263.4" x2="47.95" y2="263.4" stroke="#222" stroke-width="1.15"/>
<line x1="52.35" y1="269.9" x2="55.15" y2="269.9" stroke="#222" stroke-width="1.15"/>
<line x1="59.40" y1="305.2" x2="62.20" y2="305.2" stroke="#222" stroke-width="1.15"/>
<line x1="65.90" y1="283.3" x2="68.70" y2="283.3" stroke="#222" stroke-width="1.15"/>
<line x1="73.05" y1="316.6" x2="75.85" y2="316.6" stroke="#222" stroke-width="1.15"/>
<line x1="80.05" y1="280.4" x2="82.85" y2="280.4" stroke="#222" stroke-width="1.15"/>
<line x1="87.55" y1="286.5" x2="90.35" y2="286.5" stroke="#222" stroke-width="1.15"/>
<line x1="94.80" y1="280.4" x2="97.60" y2="280.4" stroke="#222" stroke-width="1.15"/>
<line x1="101.70" y1="279.3" x2="104.50" y2="279.3" stroke="#222" stroke-width="1.15"/>
<line x1="108.70" y1="270.9" x2="111.50" y2="270.9" stroke="#222" stroke-width="1.15"/>
<line x1="116.30" y1="280.4" x2="119.10" y2="280.4" stroke="#222" stroke-width="1.15"/>
<line x1="123.00" y1="248.4" x2="125.80" y2="248.4" stroke="#222" stroke-width="1.15"/>
<line x1="130.75" y1="286.5" x2="133.55" y2="286.5" stroke="#222" stroke-width="1.15"/>
<line x1="137.25" y1="304.4" x2="140.05" y2="304.4" stroke="#222" stroke-width="1.15"/>
<line x1="144.75" y1="278.2" x2="147.55" y2="278.2" stroke="#222" stroke-width="1.15"/>
<line x1="152.00" y1="278.4" x2="154.80" y2="278.4" stroke="#222" stroke-width="1.15"/>
<line x1="161.95" y1="277.1" x2="164.75" y2="277.1" stroke="#222" stroke-width="1.15"/>
<line x1="168.90" y1="306.3" x2="171.70" y2="306.3" stroke="#222" stroke-width="1.15"/>
<line x1="176.15" y1="288.4" x2="178.95" y2="288.4" stroke="#222" stroke-width="1.15"/>
<line x1="183.40" y1="275.8" x2="186.20" y2="275.8" stroke="#222" stroke-width="1.15"/>
<line x1="190.50" y1="282.4" x2="193.30" y2="282.4" stroke="#222" stroke-width="1.15"/>
<line x1="197.50" y1="272.5" x2="200.30" y2="272.5" stroke="#222" stroke-width="1.15"/>
<line x1="204.45" y1="280.4" x2="207.25" y2="280.4" stroke="#222" stroke-width="1.15"/>
<line x1="211.95" y1="293.4" x2="214.75" y2="293.4" stroke="#222" stroke-width="1.15"/>
<line x1="219.00" y1="245.2" x2="221.80" y2="245.2" stroke="#222" stroke-width="1.15"/>
<line x1="225.35" y1="268.2" x2="228.15" y2="268.2" stroke="#222" stroke-width="1.15"/>
<line x1="232.90" y1="316.3" x2="235.70" y2="316.3" stroke="#222" stroke-width="1.15"/>
<line x1="240.15" y1="270.7" x2="242.95" y2="270.7" stroke="#222" stroke-width="1.15"/>
<line x1="247.10" y1="271.2" x2="249.90" y2="271.2" stroke="#222" stroke-width="1.15"/>
<text transform="translate(29.70,196.9) rotate(-50)" font-family="Liberation Sans" font-weight="bold" font-size="4.3" fill="#222" stroke="#222" stroke-width="0.06">ACC</text>
<text transform="translate(36.75,196.9) rotate(-50)" font-family="Liberation Sans" font-weight="bold" font-size="4.3" fill="#222" stroke="#222" stroke-width="0.06">BLCA</text>
<text transform="translate(43.65,196.9) rotate(-50)" font-family="Liberation Sans" font-weight="bold" font-size="4.3" fill="#222" stroke="#222" stroke-width="0.06">BRCA</text>
<text transform="translate(50.55,196.9) rotate(-50)" font-family="Liberation Sans" font-weight="bold" font-size="4.3" fill="#222" stroke="#222" stroke-width="0.06">CESC</text>
<text transform="translate(57.50,196.9) rotate(-50)" font-family="Liberation Sans" font-weight="bold" font-size="4.3" fill="#222" stroke="#222" stroke-width="0.06">CHOL</text>
<text transform="translate(64.40,196.9) rotate(-50)" font-family="Liberation Sans" font-weight="bold" font-size="4.3" fill="#222" stroke="#222" stroke-width="0.06">COAD</text>
<text transform="translate(71.65,196.9) rotate(-50)" font-family="Liberation Sans" font-weight="bold" font-size="4.3" fill="#e8383f" stroke="#e8383f" stroke-width="0.06">DLBC</text>
<text transform="translate(78.60,196.9) rotate(-50)" font-family="Liberation Sans" font-weight="bold" font-size="4.3" fill="#222" stroke="#222" stroke-width="0.06">ESCA</text>
<text transform="translate(85.15,196.9) rotate(-50)" font-family="Liberation Sans" font-weight="bold" font-size="4.3" fill="#e8383f" stroke="#e8383f" stroke-width="0.06">GBM</text>
<text transform="translate(92.05,196.9) rotate(-50)" font-family="Liberation Sans" font-weight="bold" font-size="4.3" fill="#222" stroke="#222" stroke-width="0.06">HNSC</text>
<text transform="translate(99.50,196.9) rotate(-50)" font-family="Liberation Sans" font-weight="bold" font-size="4.3" fill="#222" stroke="#222" stroke-width="0.06">KICH</text>
<text transform="translate(106.55,196.9) rotate(-50)" font-family="Liberation Sans" font-weight="bold" font-size="4.3" fill="#222" stroke="#222" stroke-width="0.06">KIRC</text>
<text transform="translate(113.55,196.9) rotate(-50)" font-family="Liberation Sans" font-weight="bold" font-size="4.3" fill="#222" stroke="#222" stroke-width="0.06">KIRP</text>
<text transform="translate(120.55,196.9) rotate(-50)" font-family="Liberation Sans" font-weight="bold" font-size="4.3" fill="#222" stroke="#222" stroke-width="0.06">LAML</text>
<text transform="translate(127.55,196.9) rotate(-50)" font-family="Liberation Sans" font-weight="bold" font-size="4.3" fill="#222" stroke="#222" stroke-width="0.06">LGG</text>
<text transform="translate(134.80,196.9) rotate(-50)" font-family="Liberation Sans" font-weight="bold" font-size="4.3" fill="#222" stroke="#222" stroke-width="0.06">LIHC</text>
<text transform="translate(141.80,196.9) rotate(-50)" font-family="Liberation Sans" font-weight="bold" font-size="4.3" fill="#222" stroke="#222" stroke-width="0.06">LUAD</text>
<text transform="translate(148.80,196.9) rotate(-50)" font-family="Liberation Sans" font-weight="bold" font-size="4.3" fill="#222" stroke="#222" stroke-width="0.06">LUSC</text>
<text transform="translate(154.70,196.9) rotate(-50)" font-family="Liberation Sans" font-weight="bold" font-size="4.3" fill="#222" stroke="#222" stroke-width="0.06">MESO</text>
<text transform="translate(160.70,196.9) rotate(-50)" font-family="Liberation Sans" font-weight="bold" font-size="4.3" fill="#222" stroke="#222" stroke-width="0.06">OV</text>
<text transform="translate(167.70,196.9) rotate(-50)" font-family="Liberation Sans" font-weight="bold" font-size="4.3" fill="#e8383f" stroke="#e8383f" stroke-width="0.06">PAAD</text>
<text transform="translate(174.70,196.9) rotate(-50)" font-family="Liberation Sans" font-weight="bold" font-size="4.3" fill="#222" stroke="#222" stroke-width="0.06">PCPG</text>
<text transform="translate(181.60,196.9) rotate(-50)" font-family="Liberation Sans" font-weight="bold" font-size="4.3" fill="#222" stroke="#222" stroke-width="0.06">PRAD</text>
<text transform="translate(188.90,196.9) rotate(-50)" font-family="Liberation Sans" font-weight="bold" font-size="4.3" fill="#222" stroke="#222" stroke-width="0.06">READ</text>
<text transform="translate(196.20,196.9) rotate(-50)" font-family="Liberation Sans" font-weight="bold" font-size="4.3" fill="#222" stroke="#222" stroke-width="0.06">SARC</text>
<text transform="translate(203.15,196.9) rotate(-50)" font-family="Liberation Sans" font-weight="bold" font-size="4.3" fill="#222" stroke="#222" stroke-width="0.06">SKCM</text>
<text transform="translate(210.05,196.9) rotate(-50)" font-family="Liberation Sans" font-weight="bold" font-size="4.3" fill="#222" stroke="#222" stroke-width="0.06">STAD</text>
<text transform="translate(216.95,196.9) rotate(-50)" font-family="Liberation Sans" font-weight="bold" font-size="4.3" fill="#222" stroke="#222" stroke-width="0.06">TGCT</text>
<text transform="translate(223.90,196.9) rotate(-50)" font-family="Liberation Sans" font-weight="bold" font-size="4.3" fill="#222" stroke="#222" stroke-width="0.06">THCA</text>
<text transform="translate(230.80,196.9) rotate(-50)" font-family="Liberation Sans" font-weight="bold" font-size="4.3" fill="#e8383f" stroke="#e8383f" stroke-width="0.06">THYM</text>
<text transform="translate(238.05,196.9) rotate(-50)" font-family="Liberation Sans" font-weight="bold" font-size="4.3" fill="#222" stroke="#222" stroke-width="0.06">UCEC</text>
<text transform="translate(245.55,196.9) rotate(-50)" font-family="Liberation Sans" font-weight="bold" font-size="4.3" fill="#222" stroke="#222" stroke-width="0.06">UCS</text>
<text transform="translate(251.05,196.9) rotate(-50)" font-family="Liberation Sans" font-weight="bold" font-size="4.3" fill="#222" stroke="#222" stroke-width="0.06">UVM</text>
<path d="M22.50,360.6L29.50,351.9M24.82,360.6L31.82,351.9M27.14,360.6L34.14,351.9M29.46,360.6L36.46,351.9M31.78,360.6L38.78,351.9M34.10,360.6L41.10,351.9M36.42,360.6L43.42,351.9M38.74,360.6L45.74,351.9M41.06,360.6L48.06,351.9M43.38,360.6L50.38,351.9M45.70,360.6L52.70,351.9M48.02,360.6L55.02,351.9M50.34,360.6L57.34,351.9M52.66,360.6L59.66,351.9M54.98,360.6L61.98,351.9M57.30,360.6L64.30,351.9M59.62,360.6L66.62,351.9M61.94,360.6L68.94,351.9M64.26,360.6L71.26,351.9M66.58,360.6L73.58,351.9M68.90,360.6L75.90,351.9M71.22,360.6L78.22,351.9M73.54,360.6L80.54,351.9M75.86,360.6L82.86,351.9M78.18,360.6L85.18,351.9M80.50,360.6L87.50,351.9M82.82,360.6L89.82,351.9M85.14,360.6L92.14,351.9M87.46,360.6L94.46,351.9M89.78,360.6L96.78,351.9M92.10,360.6L99.10,351.9M94.42,360.6L101.42,351.9M96.74,360.6L103.74,351.9M99.06,360.6L106.06,351.9M101.38,360.6L108.38,351.9M103.70,360.6L110.70,351.9M106.02,360.6L113.02,351.9M108.34,360.6L115.34,351.9M110.66,360.6L117.66,351.9M112.98,360.6L119.98,351.9M115.30,360.6L122.30,351.9M117.62,360.6L124.62,351.9M119.94,360.6L126.94,351.9M122.26,360.6L129.26,351.9M124.58,360.6L131.58,351.9M126.90,360.6L133.90,351.9M129.22,360.6L136.22,351.9M131.54,360.6L138.54,351.9M133.86,360.6L140.86,351.9M136.18,360.6L143.18,351.9M138.50,360.6L145.50,351.9M140.82,360.6L147.82,351.9M143.14,360.6L150.14,351.9M145.46,360.6L152.46,351.9M147.78,360.6L154.78,351.9M150.10,360.6L157.10,351.9M152.42,360.6L159.42,351.9M154.74,360.6L161.74,351.9M157.06,360.6L164.06,351.9M159.38,360.6L166.38,351.9M161.70,360.6L168.70,351.9M164.02,360.6L171.02,351.9M166.34,360.6L173.34,351.9M168.66,360.6L175.66,351.9M170.98,360.6L177.98,351.9M173.30,360.6L180.30,351.9M175.62,360.6L182.62,351.9M177.94,360.6L184.94,351.9M180.26,360.6L187.26,351.9M182.58,360.6L189.58,351.9M184.90,360.6L191.90,351.9M187.22,360.6L194.22,351.9M189.54,360.6L196.54,351.9M191.86,360.6L198.86,351.9M194.18,360.6L201.18,351.9M196.50,360.6L203.50,351.9M198.82,360.6L205.82,351.9M201.14,360.6L208.14,351.9M203.46,360.6L210.46,351.9M205.78,360.6L212.78,351.9M208.10,360.6L215.10,351.9M210.42,360.6L217.42,351.9M212.74,360.6L219.74,351.9M215.06,360.6L222.06,351.9M217.38,360.6L224.38,351.9M219.70,360.6L226.70,351.9M222.02,360.6L229.02,351.9M224.34,360.6L231.34,351.9M226.66,360.6L233.66,351.9M228.98,360.6L235.98,351.9M231.30,360.6L238.30,351.9M233.62,360.6L240.62,351.9M235.94,360.6L242.94,351.9M238.26,360.6L245.26,351.9M240.58,360.6L247.58,351.9M242.90,360.6L249.90,351.9M245.22,360.6L252.22,351.9M247.54,360.6L254.54,351.9M249.86,360.6L256.86,351.9" stroke="#888" stroke-width="1.0" fill="none"/>
<circle cx="27.60" cy="360.5" r="0.6" fill="#555"/>
<circle cx="34.65" cy="360.5" r="0.6" fill="#555"/>
<circle cx="41.55" cy="360.5" r="0.6" fill="#555"/>
<circle cx="48.45" cy="360.5" r="0.6" fill="#555"/>
<circle cx="55.40" cy="360.5" r="0.6" fill="#555"/>
<circle cx="62.30" cy="360.5" r="0.6" fill="#555"/>
<circle cx="69.55" cy="360.5" r="0.6" fill="#555"/>
<circle cx="76.50" cy="360.5" r="0.6" fill="#555"/>
<circle cx="83.05" cy="360.5" r="0.6" fill="#555"/>
<circle cx="89.95" cy="360.5" r="0.6" fill="#555"/>
<circle cx="97.40" cy="360.5" r="0.6" fill="#555"/>
<circle cx="104.45" cy="360.5" r="0.6" fill="#555"/>
<circle cx="111.45" cy="360.5" r="0.6" fill="#555"/>
<circle cx="118.45" cy="360.5" r="0.6" fill="#555"/>
<circle cx="125.45" cy="360.5" r="0.6" fill="#555"/>
<circle cx="132.70" cy="360.5" r="0.6" fill="#555"/>
<circle cx="139.70" cy="360.5" r="0.6" fill="#555"/>
<circle cx="146.70" cy="360.5" r="0.6" fill="#555"/>
<circle cx="152.60" cy="360.5" r="0.6" fill="#555"/>
<circle cx="158.60" cy="360.5" r="0.6" fill="#555"/>
<circle cx="165.60" cy="360.5" r="0.6" fill="#555"/>
<circle cx="172.60" cy="360.5" r="0.6" fill="#555"/>
<circle cx="179.50" cy="360.5" r="0.6" fill="#555"/>
<circle cx="186.80" cy="360.5" r="0.6" fill="#555"/>
<circle cx="194.10" cy="360.5" r="0.6" fill="#555"/>
<circle cx="201.05" cy="360.5" r="0.6" fill="#555"/>
<circle cx="207.95" cy="360.5" r="0.6" fill="#555"/>
<circle cx="214.85" cy="360.5" r="0.6" fill="#555"/>
<circle cx="221.80" cy="360.5" r="0.6" fill="#555"/>
<circle cx="228.70" cy="360.5" r="0.6" fill="#555"/>
<circle cx="235.95" cy="360.5" r="0.6" fill="#555"/>
<circle cx="243.45" cy="360.5" r="0.6" fill="#555"/>
<circle cx="248.95" cy="360.5" r="0.6" fill="#555"/>
<text x="32.40" y="214.28" font-family="Liberation Sans" font-weight="bold" font-size="14.05">(</text>
<text x="47.02" y="214.28" font-family="Liberation Sans" font-weight="bold" font-size="14.05">)</text>
<text transform="translate(36.99,214.80) scale(0.9702,1)" font-family="Liberation Sans" font-weight="bold" font-size="13.95" fill="#000">D</text>
</svg></body></html>
